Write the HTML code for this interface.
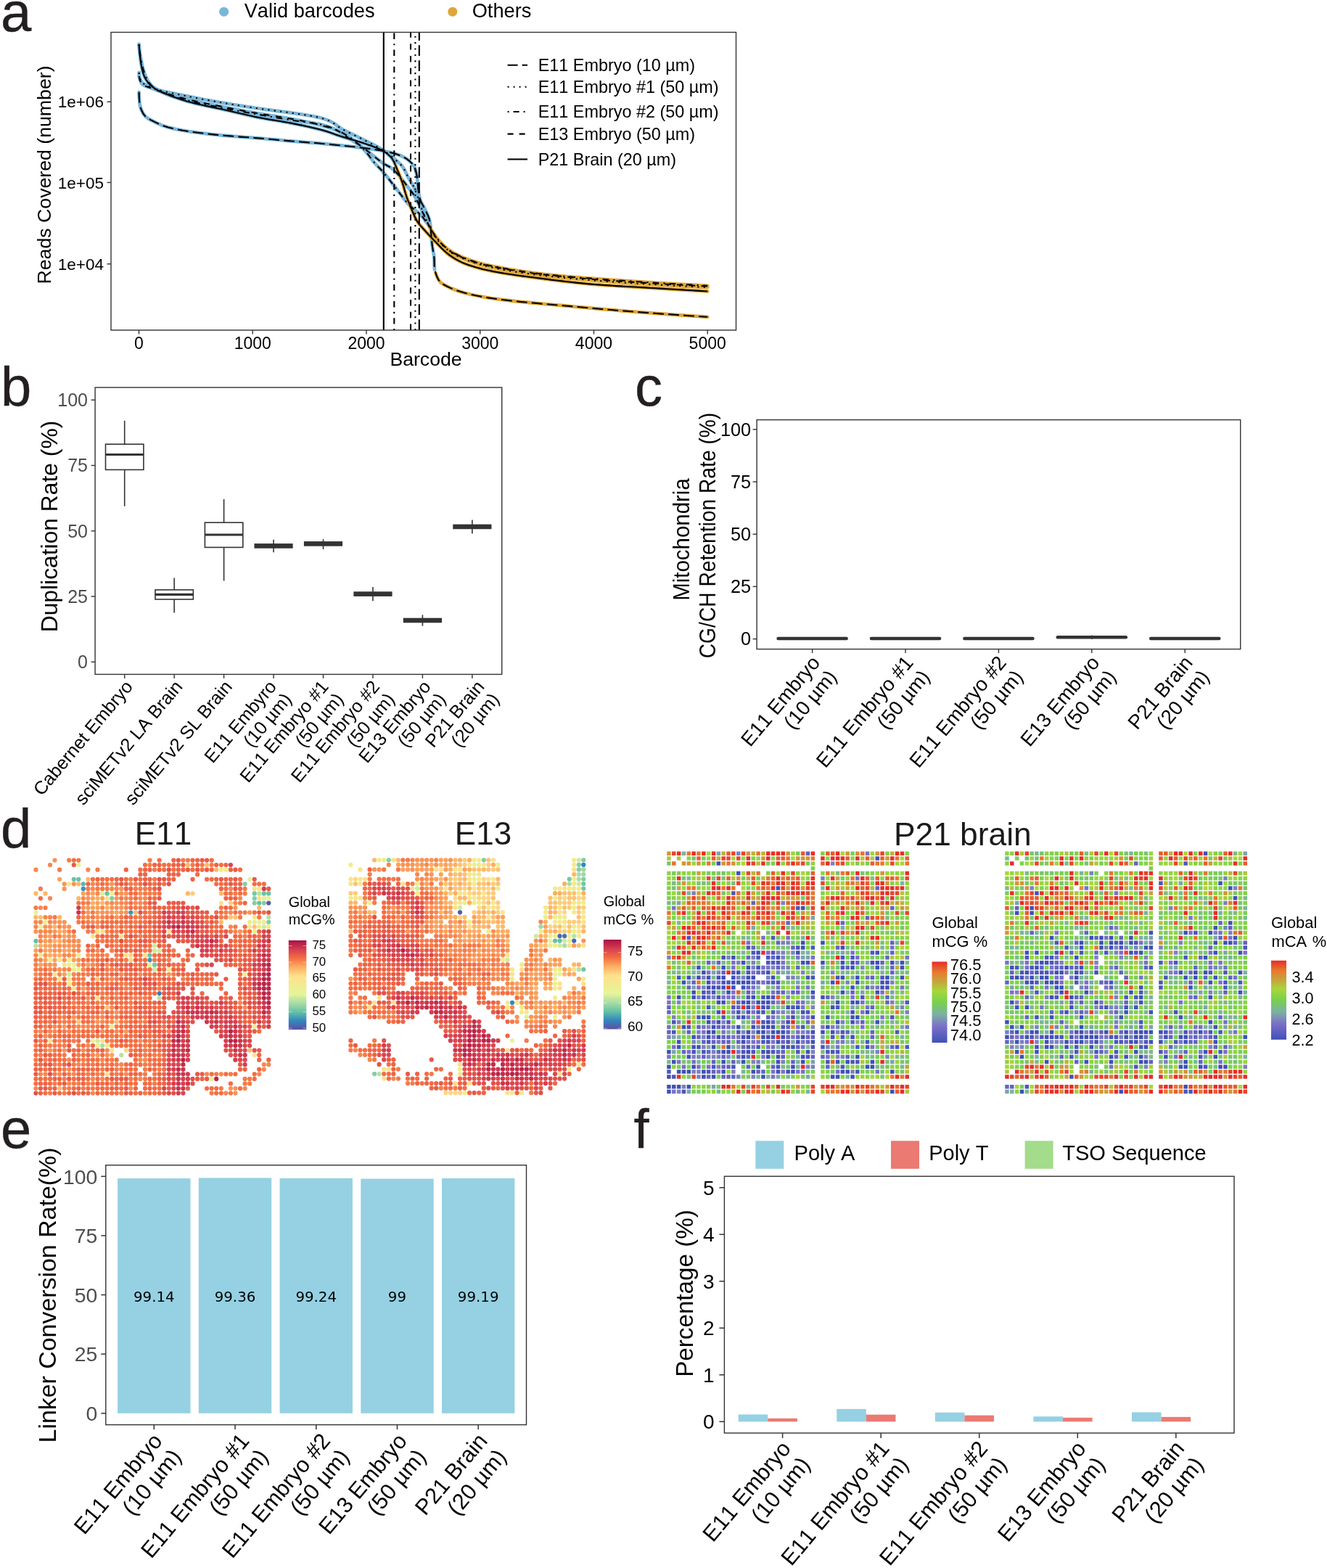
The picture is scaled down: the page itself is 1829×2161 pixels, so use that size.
<!DOCTYPE html>
<html lang="en"><head><meta charset="utf-8"><title>Figure</title>
<style>
html,body{margin:0;padding:0;background:#fff;}
body{width:1829px;height:2161px;overflow:hidden;}
svg{display:block;font-family:"Liberation Sans",sans-serif;font-kerning:none;}
</style></head><body>
<svg width="1829" height="2161" viewBox="0 0 1829 2161">
<rect width="1829" height="2161" fill="#fff"/>
<g id="pa">
<text x="1" y="43" font-size="76" fill="#231f20" stroke="#231f20" stroke-width="0.4">a</text>
<circle cx="308.6" cy="16.2" r="6.5" fill="#7ab6d9"/>
<text x="336.7" y="23.5" font-size="27.2">Valid barcodes</text>
<circle cx="623.8" cy="16.2" r="6.5" fill="#dea73a"/>
<text x="650.7" y="23.5" font-size="27.2">Others</text>
<polyline points="191.6,127 191.7,132.1 192,137.1 192.4,142.1 193.3,147 195,151.8 197.2,156.3 200.3,160.3 204.2,163.3 208.7,165.8 213.3,168.1 217.8,170.3 222.4,172.4 227.2,174.1 231.9,175.5 236.8,176.7 241.7,177.8 246.7,178.8 251.6,179.7 256.6,180.5 261.6,181.3 266.6,182 271.6,182.7 276.6,183.3 281.6,183.9 286.6,184.5 291.6,185.1 296.6,185.6 301.6,186.1 306.6,186.6 311.6,187 316.6,187.4 321.7,187.8 326.7,188.2 331.7,188.6 336.7,189 341.7,189.3 346.8,189.7 351.8,190.1 356.8,190.5 361.8,190.9 366.8,191.3 371.8,191.8 376.9,192.2 381.9,192.7 386.9,193.2 391.9,193.6 396.9,194.1 401.9,194.5 406.9,194.9 412,195.3 417,195.7 422,196.1 427,196.5 432,196.8 437.1,197.2 442.1,197.7 447.1,198.2 452.1,198.7 457.1,199.2 462.1,199.7 467.1,200.2 472.1,200.7 477.1,201.2 482.1,201.7 487.1,202.2 492.1,202.8 497.1,203.4 502.1,204 507.1,204.7 512.1,205.4 517.1,206.1 522.1,206.9 527,207.8 532,208.8 536.9,209.8 541.8,211.1 546.6,212.5 551.4,214.3 556.1,216.4 560.4,218.9 564.3,221.8 568,225.6 571,229.8 572.8,234.2 574,239.2 574.9,244.2 575.4,249.2 575.8,254.2 576.2,259.3 576.8,264.3 577.6,269.3 578.8,274.2 580.5,278.8 583,283.2 585.3,287.7 587.6,292.3 589.8,296.9 591.6,301.6 592.6,306.4 593.3,311.3 593.8,316.3 594.2,321.3 594.6,326.4 595,331.5 595.5,336.5 596.2,341.5 597.1,346.5 598,351.4 598.5,356.4 598.6,361.5 598.7,366.5 599.1,371.5" fill="none" stroke="#7ab6d9" stroke-width="4.8" stroke-linecap="round" stroke-linejoin="round"/>
<polyline points="600.5,376.4 602.2,381.2 604.5,385.8 607.5,389.5 611.7,392.3 616.3,394.7 620.8,396.9 625.5,398.8 630.2,400.6 635,402.1 639.8,403.5 644.7,404.8 649.6,406 654.5,407 659.5,408 664.4,408.9 669.4,409.8 674.4,410.6 679.3,411.3 684.3,412 689.3,412.7 694.3,413.3 699.3,413.9 704.3,414.5 709.3,415 714.3,415.6 719.3,416.1 724.3,416.5 729.4,417 734.4,417.5 739.4,417.9 744.4,418.4 749.4,418.9 754.4,419.3 759.4,419.7 764.5,420.2 769.5,420.6 774.5,421 779.5,421.5 784.5,421.9 789.5,422.4 794.5,422.8 799.6,423.3 804.6,423.7 809.6,424.2 814.6,424.6 819.6,425.1 824.6,425.5 829.6,426 834.6,426.4 839.7,426.8 844.7,427.2 849.7,427.7 854.7,428.1 859.7,428.5 864.7,428.9 869.8,429.3 874.8,429.7 879.8,430.1 884.8,430.5 889.8,430.9 894.9,431.2 899.9,431.6 904.9,432 909.9,432.4 914.9,432.7 920,433.1 925,433.4 930,433.8 935,434.1 940,434.5 945.1,434.8 950.1,435.2 955.1,435.5 960.1,435.8 965.2,436.2 970.2,436.5 975.2,436.8" fill="none" stroke="#dea73a" stroke-width="4.8" stroke-linecap="round" stroke-linejoin="round"/>
<polyline points="191.6,100 192.2,105.7 193.7,110.5 195.8,114.1 200.1,116.8 205,119 209.6,121.1 214.4,122.8 219.2,124.2 224,125.5 228.9,126.6 233.8,127.7 238.8,128.7 243.7,129.7 248.7,130.7 253.6,131.7 258.5,132.7 263.5,133.7 268.4,134.7 273.3,135.6 278.3,136.6 283.2,137.5 288.2,138.4 293.1,139.3 298.1,140.1 303,141 308,141.8 313,142.7 317.9,143.5 322.9,144.3 327.8,145.1 332.8,145.9 337.8,146.7 342.7,147.5 347.7,148.2 352.7,149 357.7,149.7 362.7,150.4 367.6,151.1 372.6,151.7 377.6,152.4 382.6,153 387.6,153.7 392.6,154.3 397.6,155 402.5,155.7 407.5,156.4 412.5,157.2 417.5,157.9 422.5,158.7 427.5,159.5 432.4,160.4 437.3,161.4 442.2,162.5 447,164 451.8,165.7 456.3,167.7 460.6,170.3 464.7,173.3 468.8,176.3 473.1,178.8 477.6,181.1 482.1,183.3 486.6,185.5 491.2,187.7 495.7,189.9 500.2,192.1 504.7,194.4 509.2,196.7 513.7,198.9 518.2,201.3 522.6,203.7 526.9,206.3 531.1,209 535.2,212 539.1,215.1 543,218.3 546.8,221.6 550.6,225 554,228.7 556.8,232.8 559.1,237.2 561.3,241.8 563.7,246.3 566.4,250.6 568.9,254.9 571.1,259.4 573,264 574.8,268.8 576.5,273.5 578.1,278.3 579.6,283.1 581.2,287.8 583,292.5 585,297.2 587,301.8 589.2,306.3 591.4,310.9" fill="none" stroke="#7ab6d9" stroke-width="4.8" stroke-linecap="round" stroke-linejoin="round"/>
<polyline points="593.5,315.4 595.8,320 598.3,324.3 601,328.4 604.3,332.3 607.8,335.9 611.5,339.4 615.2,342.8 619.1,346 623.2,348.8 627.6,351.3 632.1,353.5 636.7,355.6 641.4,357.6 646.1,359.4 650.8,361 655.6,362.6 660.4,364.1 665.3,365.4 670.1,366.6 675,367.8 679.9,368.9 684.9,370 689.8,371 694.7,371.9 699.7,372.8 704.6,373.6 709.6,374.4 714.6,375.2 719.6,375.9 724.5,376.7 729.5,377.4 734.5,378.1 739.5,378.7 744.5,379.3 749.5,379.9 754.5,380.5 759.5,381 764.5,381.5 769.5,382 774.5,382.5 779.5,383 784.5,383.4 789.5,383.9 794.5,384.4 799.5,384.8 804.5,385.3 809.5,385.7 814.6,386.2 819.6,386.6 824.6,387 829.6,387.3 834.6,387.7 839.6,388.1 844.6,388.4 849.7,388.8 854.7,389.1 859.7,389.5 864.7,389.8 869.7,390.1 874.8,390.5 879.8,390.8 884.8,391.1 889.8,391.4 894.8,391.7 899.9,392 904.9,392.3 909.9,392.6 914.9,392.9 919.9,393.2 925,393.4 930,393.7 935,394 940,394.3 945.1,394.5 950.1,394.8 955.1,395 960.1,395.3 965.2,395.5 970.2,395.8 975.2,396" fill="none" stroke="#dea73a" stroke-width="4.8" stroke-linecap="round" stroke-linejoin="round"/>
<polyline points="191.6,61 192,66.1 192.5,71.2 193.3,76.2 194.2,81.1 195.2,86.1 196.2,91 197.5,95.9 199,100.8 200.9,105.5 203,110 205.8,114.4 209.1,118.2 212.9,121.2 217.2,123.8 221.8,126.1 226.6,128.1 231.3,130 236,131.7 240.8,133.3 245.7,134.8 250.6,136.2 255.5,137.6 260.4,138.8 265.3,140.1 270.2,141.2 275.1,142.3 280.1,143.4 285,144.4 290,145.4 294.9,146.3 299.9,147.3 304.9,148.3 309.8,149.3 314.8,150.2 319.8,151.2 324.7,152.1 329.7,153 334.7,154 339.6,154.9 344.6,155.8 349.6,156.7 354.6,157.6 359.5,158.4 364.5,159.3 369.5,160.2 374.5,161 379.5,161.9 384.4,162.7 389.4,163.6 394.4,164.4 399.4,165.2 404.4,166 409.4,166.7 414.4,167.4 419.5,168 424.5,168.6 429.6,169.3 434.5,170 439.5,170.9 444.3,172 449.2,173.4 454,175.1 458.8,177 463.5,179 468.1,181.1 472.5,183.3 476.9,185.8 481.2,188.5 485.4,191.5 489.4,194.5 493.2,197.8 496.9,201.2 500.4,204.9 503.8,208.7 507.1,212.5 510.1,216.6 513.1,220.7 516.3,224.6 519.8,228.3 523.3,231.9 526.8,235.6 530,239.4 533.2,243.3 536.4,247.3 539.5,251.3 542.6,255.3 545.6,259.3 548.7,263.3 551.8,267.4 554.8,271.4 557.9,275.5 561.1,279.3 564.6,282.9 568.3,286.4 572.1,289.7 576.2,292.8 580,296 583.2,299.9 586.1,304 588.9,308.3" fill="none" stroke="#7ab6d9" stroke-width="4.8" stroke-linecap="round" stroke-linejoin="round"/>
<polyline points="591.7,312.5 594.4,316.8 597.2,321 600.1,325.2 603.2,329.2 606.4,333.1 609.8,336.9 613.5,340.3 617.4,343.5 621.6,346.4 625.9,349 630.4,351.3 635,353.4 639.7,355.4 644.4,357.2 649.1,359 653.9,360.6 658.8,362.1 663.6,363.4 668.5,364.6 673.5,365.7 678.4,366.8 683.4,367.7 688.3,368.7 693.3,369.6 698.3,370.5 703.3,371.4 708.3,372.2 713.3,373 718.3,373.7 723.3,374.5 728.3,375.2 733.3,375.9 738.3,376.6 743.3,377.2 748.3,377.8 753.3,378.4 758.4,378.9 763.4,379.4 768.4,379.9 773.5,380.4 778.5,380.9 783.5,381.3 788.6,381.7 793.6,382.1 798.6,382.5 803.7,382.9 808.7,383.3 813.8,383.6 818.8,384 823.8,384.4 828.9,384.7 833.9,385.1 839,385.5 844,385.8 849.1,386.2 854.1,386.5 859.1,386.8 864.2,387.2 869.2,387.5 874.3,387.9 879.3,388.2 884.4,388.5 889.4,388.8 894.5,389.2 899.5,389.5 904.5,389.8 909.6,390.1 914.6,390.4 919.7,390.7 924.7,391 929.8,391.3 934.8,391.6 939.9,391.9 944.9,392.2 950,392.4 955,392.7 960.1,393 965.1,393.3 970.2,393.5 975.2,393.8" fill="none" stroke="#dea73a" stroke-width="4.8" stroke-linecap="round" stroke-linejoin="round"/>
<polyline points="191.6,105 192.9,110.5 195.1,114.9 198.2,117.6 202.9,119.6 208.2,121.3 212.9,123.1 217.7,124.9 222.4,126.5 227.2,128.1 232,129.6 236.8,131.1 241.7,132.5 246.5,133.8 251.4,135.1 256.3,136.4 261.2,137.6 266.1,138.7 271,139.8 275.9,140.9 280.8,142 285.8,143 290.7,144 295.7,145 300.6,145.9 305.6,146.9 310.5,147.9 315.4,148.8 320.4,149.8 325.3,150.7 330.3,151.7 335.2,152.6 340.2,153.5 345.2,154.4 350.1,155.3 355.1,156.2 360,157 365,157.9 370,158.7 375,159.5 379.9,160.2 384.9,161 389.9,161.8 394.9,162.7 399.8,163.5 404.8,164.4 409.7,165.3 414.7,166.3 419.6,167.3 424.6,168.3 429.5,169.4 434.4,170.6 439.3,171.8 444.1,173.1 449.1,174.4 453.9,175.9 458.7,177.5 463.4,179.3 467.8,181.5 472,184.2 476.1,187.2 480.3,190.2 484.5,192.9 488.8,195.6 493,198.3 497.2,201.1 501.3,204 505.3,207.1 509.2,210.3 513.1,213.5 517,216.6 521,219.8 525,222.9 529.1,225.7 533.5,228.1 538,230.6 541.9,233.6 545.6,237.1 549,240.8 552.2,244.7 555.3,248.7 558.3,252.7 561.4,256.7 564.6,260.7 567.7,264.6 570.5,268.8 573,273.1 575.3,277.6 577.6,282.1 579.8,286.7 581.9,291.2 584,295.8 586.2,300.4 588.3,304.9" fill="none" stroke="#7ab6d9" stroke-width="4.8" stroke-linecap="round" stroke-linejoin="round"/>
<polyline points="590.5,309.5 592.8,314 595.2,318.4 597.9,322.6 600.8,326.8 603.9,330.7 607.2,334.5 610.8,338.2 614.5,341.7 618.4,344.9 622.5,347.6 626.9,350 631.4,352.3 636.1,354.4 640.7,356.3 645.4,358.1 650.2,359.9 655,361.4 659.8,362.9 664.7,364.2 669.5,365.4 674.5,366.4 679.4,367.5 684.4,368.4 689.3,369.4 694.3,370.3 699.2,371.2 704.2,372 709.2,372.8 714.1,373.6 719.1,374.4 724.1,375.1 729.1,375.8 734.1,376.5 739.1,377.2 744.1,377.8 749.1,378.4 754.1,379 759.1,379.5 764.1,380 769.1,380.5 774.2,380.9 779.2,381.4 784.2,381.9 789.2,382.4 794.2,382.9 799.2,383.3 804.2,383.8 809.3,384.2 814.3,384.6 819.3,385 824.3,385.4 829.4,385.8 834.4,386.2 839.4,386.6 844.4,386.9 849.5,387.3 854.5,387.6 859.5,388 864.5,388.3 869.6,388.6 874.6,388.9 879.6,389.3 884.6,389.6 889.7,389.9 894.7,390.2 899.7,390.5 904.8,390.8 909.8,391.1 914.8,391.4 919.9,391.7 924.9,391.9 929.9,392.2 934.9,392.5 940,392.8 945,393 950,393.3 955.1,393.5 960.1,393.8 965.1,394 970.2,394.3 975.2,394.5" fill="none" stroke="#dea73a" stroke-width="4.8" stroke-linecap="round" stroke-linejoin="round"/>
<polyline points="191.6,61 191.9,66 192.3,71.1 192.8,76.1 193.5,81 194.1,86 195,91 196,96 197.3,100.8 199,105.5 201.4,110 204.3,114.2 207.7,117.7 211.7,120.9 216,123.6 220.4,125.9 225,128 229.7,129.9 234.4,131.7 239.1,133.4 243.8,135.1 248.6,136.7 253.4,138.2 258.2,139.7 263.1,141 267.9,142.3 272.8,143.4 277.7,144.5 282.6,145.6 287.6,146.6 292.5,147.6 297.4,148.7 302.3,149.7 307.3,150.8 312.2,151.9 317.1,153 322,154.2 326.9,155.3 331.8,156.5 336.7,157.6 341.6,158.7 346.5,159.8 351.4,160.9 356.3,161.9 361.2,162.8 366.2,163.7 371.1,164.6 376.1,165.4 381.1,166.2 386,167 391,167.9 395.9,168.7 400.9,169.6 405.8,170.6 410.7,171.6 415.7,172.6 420.6,173.7 425.5,174.7 430.4,175.9 435.3,177.1 440.2,178.3 445,179.6 449.9,181 454.6,182.5 459.4,184.2 464.1,185.9 468.8,187.6 473.6,189.1 478.5,190.6 483.3,192 488.1,193.3 493,194.8 497.8,196.3 502.5,197.8 507.3,199.5 512.2,201.1 517,202.9 521.6,204.8 526.1,206.9 530.3,209.4 534.5,212.4 538.3,215.9 541.2,219.7 543.5,224.1 545.5,228.8" fill="none" stroke="#7ab6d9" stroke-width="4.8" stroke-linecap="round" stroke-linejoin="round"/>
<polyline points="545.5,228.8 547.4,233.6 549.4,238.2 551.3,242.9 553.1,247.6 554.8,252.3 556.3,257.1 557.6,262 559,266.8 560.6,271.6 562.3,276.3 564.3,280.9 566.2,285.6 568.1,290.3 570.1,295 572.1,299.6 574.4,304 577.1,308.1 580.4,311.9 583.8,315.7 587.2,319.5 590.6,323.2 594,326.8 597.5,330.5 601,334 604.5,337.7 608.1,341.4 611.7,344.9 615.4,348.3 619.2,351.4 623.3,354.2 627.6,356.9 632.1,359.4 636.6,361.6 641.2,363.5 645.9,365.2 650.7,366.8 655.5,368.3 660.4,369.6 665.3,370.9 670.2,372 675.1,373.1 680,374.1 684.9,375 689.9,375.9 694.9,376.7 699.8,377.5 704.8,378.2 709.8,379 714.8,379.7 719.7,380.4 724.7,381 729.7,381.7 734.7,382.3 739.7,383 744.7,383.6 749.7,384.3 754.7,384.9 759.6,385.6 764.6,386.2 769.6,386.8 774.6,387.4 779.6,388 784.6,388.5 789.6,389.1 794.6,389.6 799.6,390.1 804.6,390.6 809.6,391.1 814.6,391.6 819.6,392 824.6,392.4 829.6,392.7 834.7,393.1 839.7,393.4 844.7,393.7 849.7,394.1 854.7,394.4 859.8,394.7 864.8,395 869.8,395.2 874.8,395.5 879.8,395.8 884.9,396.1 889.9,396.4 894.9,396.7 899.9,397 904.9,397.3 910,397.6 915,397.9 920,398.2 925,398.5 930,398.8 935,399.1 940.1,399.4 945.1,399.7 950.1,400 955.1,400.3 960.1,400.6 965.2,400.9 970.2,401.2 975.2,401.5" fill="none" stroke="#dea73a" stroke-width="4.8" stroke-linecap="round" stroke-linejoin="round"/>
<polyline points="191.6,127 191.7,132.1 192,137.1 192.4,142.1 193.3,147 195,151.8 197.2,156.3 200.3,160.3 204.2,163.3 208.7,165.8 213.3,168.1 217.8,170.3 222.4,172.4 227.2,174.1 231.9,175.5 236.8,176.7 241.7,177.8 246.7,178.8 251.6,179.7 256.6,180.5 261.6,181.3 266.6,182 271.6,182.7 276.6,183.3 281.6,183.9 286.6,184.5 291.6,185.1 296.6,185.6 301.6,186.1 306.6,186.6 311.6,187 316.6,187.4 321.7,187.8 326.7,188.2 331.7,188.6 336.7,189 341.7,189.3 346.8,189.7 351.8,190.1 356.8,190.5 361.8,190.9 366.8,191.3 371.8,191.8 376.9,192.2 381.9,192.7 386.9,193.2 391.9,193.6 396.9,194.1 401.9,194.5 406.9,194.9 412,195.3 417,195.7 422,196.1 427,196.5 432,196.8 437.1,197.2 442.1,197.7 447.1,198.2 452.1,198.7 457.1,199.2 462.1,199.7 467.1,200.2 472.1,200.7 477.1,201.2 482.1,201.7 487.1,202.2 492.1,202.8 497.1,203.4 502.1,204 507.1,204.7 512.1,205.4 517.1,206.1 522.1,206.9 527,207.8 532,208.8 536.9,209.8 541.8,211.1 546.6,212.5 551.4,214.3 556.1,216.4 560.4,218.9 564.3,221.8 568,225.6 571,229.8 572.8,234.2 574,239.2 574.9,244.2 575.4,249.2 575.8,254.2 576.2,259.3 576.8,264.3 577.6,269.3 578.8,274.2 580.5,278.8 583,283.2 585.3,287.7 587.6,292.3 589.8,296.9 591.6,301.6 592.6,306.4 593.3,311.3 593.8,316.3 594.2,321.3 594.6,326.4 595,331.5 595.5,336.5 596.2,341.5 597.1,346.5 598,351.4 598.5,356.4 598.6,361.5 598.7,366.5 599.1,371.5 600.5,376.4 602.2,381.2 604.5,385.8 607.5,389.5 611.7,392.3 616.3,394.7 620.8,396.9 625.5,398.8 630.2,400.6 635,402.1 639.8,403.5 644.7,404.8 649.6,406 654.5,407 659.5,408 664.4,408.9 669.4,409.8 674.4,410.6 679.3,411.3 684.3,412 689.3,412.7 694.3,413.3 699.3,413.9 704.3,414.5 709.3,415 714.3,415.6 719.3,416.1 724.3,416.5 729.4,417 734.4,417.5 739.4,417.9 744.4,418.4 749.4,418.9 754.4,419.3 759.4,419.7 764.5,420.2 769.5,420.6 774.5,421 779.5,421.5 784.5,421.9 789.5,422.4 794.5,422.8 799.6,423.3 804.6,423.7 809.6,424.2 814.6,424.6 819.6,425.1 824.6,425.5 829.6,426 834.6,426.4 839.7,426.8 844.7,427.2 849.7,427.7 854.7,428.1 859.7,428.5 864.7,428.9 869.8,429.3 874.8,429.7 879.8,430.1 884.8,430.5 889.8,430.9 894.9,431.2 899.9,431.6 904.9,432 909.9,432.4 914.9,432.7 920,433.1 925,433.4 930,433.8 935,434.1 940,434.5 945.1,434.8 950.1,435.2 955.1,435.5 960.1,435.8 965.2,436.2 970.2,436.5 975.2,436.8" fill="none" stroke="#000" stroke-width="2.1" stroke-dasharray="14.7 6.3" stroke-linejoin="round"/>
<polyline points="191.6,100 192.2,105.7 193.7,110.5 195.8,114.1 200.1,116.8 205,119 209.6,121.1 214.4,122.8 219.2,124.2 224,125.5 228.9,126.6 233.8,127.7 238.8,128.7 243.7,129.7 248.7,130.7 253.6,131.7 258.5,132.7 263.5,133.7 268.4,134.7 273.3,135.6 278.3,136.6 283.2,137.5 288.2,138.4 293.1,139.3 298.1,140.1 303,141 308,141.8 313,142.7 317.9,143.5 322.9,144.3 327.8,145.1 332.8,145.9 337.8,146.7 342.7,147.5 347.7,148.2 352.7,149 357.7,149.7 362.7,150.4 367.6,151.1 372.6,151.7 377.6,152.4 382.6,153 387.6,153.7 392.6,154.3 397.6,155 402.5,155.7 407.5,156.4 412.5,157.2 417.5,157.9 422.5,158.7 427.5,159.5 432.4,160.4 437.3,161.4 442.2,162.5 447,164 451.8,165.7 456.3,167.7 460.6,170.3 464.7,173.3 468.8,176.3 473.1,178.8 477.6,181.1 482.1,183.3 486.6,185.5 491.2,187.7 495.7,189.9 500.2,192.1 504.7,194.4 509.2,196.7 513.7,198.9 518.2,201.3 522.6,203.7 526.9,206.3 531.1,209 535.2,212 539.1,215.1 543,218.3 546.8,221.6 550.6,225 554,228.7 556.8,232.8 559.1,237.2 561.3,241.8 563.7,246.3 566.4,250.6 568.9,254.9 571.1,259.4 573,264 574.8,268.8 576.5,273.5 578.1,278.3 579.6,283.1 581.2,287.8 583,292.5 585,297.2 587,301.8 589.2,306.3 591.4,310.9 593.5,315.4 595.8,320 598.3,324.3 601,328.4 604.3,332.3 607.8,335.9 611.5,339.4 615.2,342.8 619.1,346 623.2,348.8 627.6,351.3 632.1,353.5 636.7,355.6 641.4,357.6 646.1,359.4 650.8,361 655.6,362.6 660.4,364.1 665.3,365.4 670.1,366.6 675,367.8 679.9,368.9 684.9,370 689.8,371 694.7,371.9 699.7,372.8 704.6,373.6 709.6,374.4 714.6,375.2 719.6,375.9 724.5,376.7 729.5,377.4 734.5,378.1 739.5,378.7 744.5,379.3 749.5,379.9 754.5,380.5 759.5,381 764.5,381.5 769.5,382 774.5,382.5 779.5,383 784.5,383.4 789.5,383.9 794.5,384.4 799.5,384.8 804.5,385.3 809.5,385.7 814.6,386.2 819.6,386.6 824.6,387 829.6,387.3 834.6,387.7 839.6,388.1 844.6,388.4 849.7,388.8 854.7,389.1 859.7,389.5 864.7,389.8 869.7,390.1 874.8,390.5 879.8,390.8 884.8,391.1 889.8,391.4 894.8,391.7 899.9,392 904.9,392.3 909.9,392.6 914.9,392.9 919.9,393.2 925,393.4 930,393.7 935,394 940,394.3 945.1,394.5 950.1,394.8 955.1,395 960.1,395.3 965.2,395.5 970.2,395.8 975.2,396" fill="none" stroke="#000" stroke-width="2.1" stroke-dasharray="2.1 6.3" stroke-linejoin="round"/>
<polyline points="191.6,61 192,66.1 192.5,71.2 193.3,76.2 194.2,81.1 195.2,86.1 196.2,91 197.5,95.9 199,100.8 200.9,105.5 203,110 205.8,114.4 209.1,118.2 212.9,121.2 217.2,123.8 221.8,126.1 226.6,128.1 231.3,130 236,131.7 240.8,133.3 245.7,134.8 250.6,136.2 255.5,137.6 260.4,138.8 265.3,140.1 270.2,141.2 275.1,142.3 280.1,143.4 285,144.4 290,145.4 294.9,146.3 299.9,147.3 304.9,148.3 309.8,149.3 314.8,150.2 319.8,151.2 324.7,152.1 329.7,153 334.7,154 339.6,154.9 344.6,155.8 349.6,156.7 354.6,157.6 359.5,158.4 364.5,159.3 369.5,160.2 374.5,161 379.5,161.9 384.4,162.7 389.4,163.6 394.4,164.4 399.4,165.2 404.4,166 409.4,166.7 414.4,167.4 419.5,168 424.5,168.6 429.6,169.3 434.5,170 439.5,170.9 444.3,172 449.2,173.4 454,175.1 458.8,177 463.5,179 468.1,181.1 472.5,183.3 476.9,185.8 481.2,188.5 485.4,191.5 489.4,194.5 493.2,197.8 496.9,201.2 500.4,204.9 503.8,208.7 507.1,212.5 510.1,216.6 513.1,220.7 516.3,224.6 519.8,228.3 523.3,231.9 526.8,235.6 530,239.4 533.2,243.3 536.4,247.3 539.5,251.3 542.6,255.3 545.6,259.3 548.7,263.3 551.8,267.4 554.8,271.4 557.9,275.5 561.1,279.3 564.6,282.9 568.3,286.4 572.1,289.7 576.2,292.8 580,296 583.2,299.9 586.1,304 588.9,308.3 591.7,312.5 594.4,316.8 597.2,321 600.1,325.2 603.2,329.2 606.4,333.1 609.8,336.9 613.5,340.3 617.4,343.5 621.6,346.4 625.9,349 630.4,351.3 635,353.4 639.7,355.4 644.4,357.2 649.1,359 653.9,360.6 658.8,362.1 663.6,363.4 668.5,364.6 673.5,365.7 678.4,366.8 683.4,367.7 688.3,368.7 693.3,369.6 698.3,370.5 703.3,371.4 708.3,372.2 713.3,373 718.3,373.7 723.3,374.5 728.3,375.2 733.3,375.9 738.3,376.6 743.3,377.2 748.3,377.8 753.3,378.4 758.4,378.9 763.4,379.4 768.4,379.9 773.5,380.4 778.5,380.9 783.5,381.3 788.6,381.7 793.6,382.1 798.6,382.5 803.7,382.9 808.7,383.3 813.8,383.6 818.8,384 823.8,384.4 828.9,384.7 833.9,385.1 839,385.5 844,385.8 849.1,386.2 854.1,386.5 859.1,386.8 864.2,387.2 869.2,387.5 874.3,387.9 879.3,388.2 884.4,388.5 889.4,388.8 894.5,389.2 899.5,389.5 904.5,389.8 909.6,390.1 914.6,390.4 919.7,390.7 924.7,391 929.8,391.3 934.8,391.6 939.9,391.9 944.9,392.2 950,392.4 955,392.7 960.1,393 965.1,393.3 970.2,393.5 975.2,393.8" fill="none" stroke="#000" stroke-width="2.1" stroke-dasharray="2.1 6.3 8.4 6.3" stroke-linejoin="round"/>
<polyline points="191.6,105 192.9,110.5 195.1,114.9 198.2,117.6 202.9,119.6 208.2,121.3 212.9,123.1 217.7,124.9 222.4,126.5 227.2,128.1 232,129.6 236.8,131.1 241.7,132.5 246.5,133.8 251.4,135.1 256.3,136.4 261.2,137.6 266.1,138.7 271,139.8 275.9,140.9 280.8,142 285.8,143 290.7,144 295.7,145 300.6,145.9 305.6,146.9 310.5,147.9 315.4,148.8 320.4,149.8 325.3,150.7 330.3,151.7 335.2,152.6 340.2,153.5 345.2,154.4 350.1,155.3 355.1,156.2 360,157 365,157.9 370,158.7 375,159.5 379.9,160.2 384.9,161 389.9,161.8 394.9,162.7 399.8,163.5 404.8,164.4 409.7,165.3 414.7,166.3 419.6,167.3 424.6,168.3 429.5,169.4 434.4,170.6 439.3,171.8 444.1,173.1 449.1,174.4 453.9,175.9 458.7,177.5 463.4,179.3 467.8,181.5 472,184.2 476.1,187.2 480.3,190.2 484.5,192.9 488.8,195.6 493,198.3 497.2,201.1 501.3,204 505.3,207.1 509.2,210.3 513.1,213.5 517,216.6 521,219.8 525,222.9 529.1,225.7 533.5,228.1 538,230.6 541.9,233.6 545.6,237.1 549,240.8 552.2,244.7 555.3,248.7 558.3,252.7 561.4,256.7 564.6,260.7 567.7,264.6 570.5,268.8 573,273.1 575.3,277.6 577.6,282.1 579.8,286.7 581.9,291.2 584,295.8 586.2,300.4 588.3,304.9 590.5,309.5 592.8,314 595.2,318.4 597.9,322.6 600.8,326.8 603.9,330.7 607.2,334.5 610.8,338.2 614.5,341.7 618.4,344.9 622.5,347.6 626.9,350 631.4,352.3 636.1,354.4 640.7,356.3 645.4,358.1 650.2,359.9 655,361.4 659.8,362.9 664.7,364.2 669.5,365.4 674.5,366.4 679.4,367.5 684.4,368.4 689.3,369.4 694.3,370.3 699.2,371.2 704.2,372 709.2,372.8 714.1,373.6 719.1,374.4 724.1,375.1 729.1,375.8 734.1,376.5 739.1,377.2 744.1,377.8 749.1,378.4 754.1,379 759.1,379.5 764.1,380 769.1,380.5 774.2,380.9 779.2,381.4 784.2,381.9 789.2,382.4 794.2,382.9 799.2,383.3 804.2,383.8 809.3,384.2 814.3,384.6 819.3,385 824.3,385.4 829.4,385.8 834.4,386.2 839.4,386.6 844.4,386.9 849.5,387.3 854.5,387.6 859.5,388 864.5,388.3 869.6,388.6 874.6,388.9 879.6,389.3 884.6,389.6 889.7,389.9 894.7,390.2 899.7,390.5 904.8,390.8 909.8,391.1 914.8,391.4 919.9,391.7 924.9,391.9 929.9,392.2 934.9,392.5 940,392.8 945,393 950,393.3 955.1,393.5 960.1,393.8 965.1,394 970.2,394.3 975.2,394.5" fill="none" stroke="#000" stroke-width="2.1" stroke-dasharray="8.4 8.4" stroke-linejoin="round"/>
<polyline points="191.6,61 191.9,66 192.3,71.1 192.8,76.1 193.5,81 194.1,86 195,91 196,96 197.3,100.8 199,105.5 201.4,110 204.3,114.2 207.7,117.7 211.7,120.9 216,123.6 220.4,125.9 225,128 229.7,129.9 234.4,131.7 239.1,133.4 243.8,135.1 248.6,136.7 253.4,138.2 258.2,139.7 263.1,141 267.9,142.3 272.8,143.4 277.7,144.5 282.6,145.6 287.6,146.6 292.5,147.6 297.4,148.7 302.3,149.7 307.3,150.8 312.2,151.9 317.1,153 322,154.2 326.9,155.3 331.8,156.5 336.7,157.6 341.6,158.7 346.5,159.8 351.4,160.9 356.3,161.9 361.2,162.8 366.2,163.7 371.1,164.6 376.1,165.4 381.1,166.2 386,167 391,167.9 395.9,168.7 400.9,169.6 405.8,170.6 410.7,171.6 415.7,172.6 420.6,173.7 425.5,174.7 430.4,175.9 435.3,177.1 440.2,178.3 445,179.6 449.9,181 454.6,182.5 459.4,184.2 464.1,185.9 468.8,187.6 473.6,189.1 478.5,190.6 483.3,192 488.1,193.3 493,194.8 497.8,196.3 502.5,197.8 507.3,199.5 512.2,201.1 517,202.9 521.6,204.8 526.1,206.9 530.3,209.4 534.5,212.4 538.3,215.9 541.2,219.7 543.5,224.1 545.5,228.8 547.4,233.6 549.4,238.2 551.3,242.9 553.1,247.6 554.8,252.3 556.3,257.1 557.6,262 559,266.8 560.6,271.6 562.3,276.3 564.3,280.9 566.2,285.6 568.1,290.3 570.1,295 572.1,299.6 574.4,304 577.1,308.1 580.4,311.9 583.8,315.7 587.2,319.5 590.6,323.2 594,326.8 597.5,330.5 601,334 604.5,337.7 608.1,341.4 611.7,344.9 615.4,348.3 619.2,351.4 623.3,354.2 627.6,356.9 632.1,359.4 636.6,361.6 641.2,363.5 645.9,365.2 650.7,366.8 655.5,368.3 660.4,369.6 665.3,370.9 670.2,372 675.1,373.1 680,374.1 684.9,375 689.9,375.9 694.9,376.7 699.8,377.5 704.8,378.2 709.8,379 714.8,379.7 719.7,380.4 724.7,381 729.7,381.7 734.7,382.3 739.7,383 744.7,383.6 749.7,384.3 754.7,384.9 759.6,385.6 764.6,386.2 769.6,386.8 774.6,387.4 779.6,388 784.6,388.5 789.6,389.1 794.6,389.6 799.6,390.1 804.6,390.6 809.6,391.1 814.6,391.6 819.6,392 824.6,392.4 829.6,392.7 834.7,393.1 839.7,393.4 844.7,393.7 849.7,394.1 854.7,394.4 859.8,394.7 864.8,395 869.8,395.2 874.8,395.5 879.8,395.8 884.9,396.1 889.9,396.4 894.9,396.7 899.9,397 904.9,397.3 910,397.6 915,397.9 920,398.2 925,398.5 930,398.8 935,399.1 940.1,399.4 945.1,399.7 950.1,400 955.1,400.3 960.1,400.6 965.2,400.9 970.2,401.2 975.2,401.5" fill="none" stroke="#000" stroke-width="2.1" stroke-linejoin="round"/>
<line x1="528.8" y1="455" x2="528.8" y2="44.5" stroke="#000" stroke-width="2.1"/>
<line x1="543.3" y1="455" x2="543.3" y2="44.5" stroke="#000" stroke-width="2.1" stroke-dasharray="2.1 6.3 8.4 6.3"/>
<line x1="566" y1="455" x2="566" y2="44.5" stroke="#000" stroke-width="2.1" stroke-dasharray="8.4 8.4"/>
<line x1="572.4" y1="455" x2="572.4" y2="44.5" stroke="#000" stroke-width="2.1" stroke-dasharray="2.1 6.3"/>
<line x1="577.8" y1="455" x2="577.8" y2="44.5" stroke="#000" stroke-width="2.1" stroke-dasharray="14.7 6.3"/>
<rect x="153" y="44.5" width="861.5" height="410.5" fill="none" stroke="#333" stroke-width="1.4"/>
<line x1="191.5" y1="455" x2="191.5" y2="460.5" stroke="#333" stroke-width="1.4"/>
<text x="191.5" y="481" font-size="23" text-anchor="middle">0</text>
<line x1="348.24" y1="455" x2="348.24" y2="460.5" stroke="#333" stroke-width="1.4"/>
<text x="348.24" y="481" font-size="23" text-anchor="middle">1000</text>
<line x1="504.98" y1="455" x2="504.98" y2="460.5" stroke="#333" stroke-width="1.4"/>
<text x="504.98" y="481" font-size="23" text-anchor="middle">2000</text>
<line x1="661.72" y1="455" x2="661.72" y2="460.5" stroke="#333" stroke-width="1.4"/>
<text x="661.72" y="481" font-size="23" text-anchor="middle">3000</text>
<line x1="818.46" y1="455" x2="818.46" y2="460.5" stroke="#333" stroke-width="1.4"/>
<text x="818.46" y="481" font-size="23" text-anchor="middle">4000</text>
<line x1="975.2" y1="455" x2="975.2" y2="460.5" stroke="#333" stroke-width="1.4"/>
<text x="975.2" y="481" font-size="23" text-anchor="middle">5000</text>
<line x1="147.5" y1="140.3" x2="153" y2="140.3" stroke="#333" stroke-width="1.4"/>
<text x="143" y="148.3" font-size="22.5" text-anchor="end">1e+06</text>
<line x1="147.5" y1="251.5" x2="153" y2="251.5" stroke="#333" stroke-width="1.4"/>
<text x="143" y="259.5" font-size="22.5" text-anchor="end">1e+05</text>
<line x1="147.5" y1="363.8" x2="153" y2="363.8" stroke="#333" stroke-width="1.4"/>
<text x="143" y="371.8" font-size="22.5" text-anchor="end">1e+04</text>
<text x="587" y="503.5" font-size="26.6" text-anchor="middle">Barcode</text>
<text x="70" y="241" font-size="26.7" text-anchor="middle" transform="rotate(-90 70 241)">Reads Covered (number)</text>
<line x1="699.6" y1="89.8" x2="727" y2="89.8" stroke="#000" stroke-width="2.1" stroke-dasharray="14 6"/>
<text x="741.7" y="97.8" font-size="23.4">E11 Embryo (10 µm)</text>
<line x1="699.6" y1="119.7" x2="727" y2="119.7" stroke="#000" stroke-width="2.1" stroke-dasharray="2 6"/>
<text x="741.7" y="127.7" font-size="23.4">E11 Embryo #1 (50 µm)</text>
<line x1="699.6" y1="154" x2="727" y2="154" stroke="#000" stroke-width="2.1" stroke-dasharray="2 6 8 6"/>
<text x="741.7" y="162" font-size="23.4">E11 Embryo #2 (50 µm)</text>
<line x1="699.6" y1="184.6" x2="727" y2="184.6" stroke="#000" stroke-width="2.1" stroke-dasharray="8 8"/>
<text x="741.7" y="192.6" font-size="23.4">E13 Embryo (50 µm)</text>
<line x1="699.6" y1="219.5" x2="727" y2="219.5" stroke="#000" stroke-width="2.1"/>
<text x="741.7" y="227.5" font-size="23.4">P21 Brain (20 µm)</text>
</g>
<g id="pb">
<text x="1" y="559" font-size="76" fill="#231f20" stroke="#231f20" stroke-width="0.4">b</text>
<line x1="171.7" y1="579.8" x2="171.7" y2="612.2" stroke="#333" stroke-width="1.6"/>
<line x1="171.7" y1="647.4" x2="171.7" y2="697.7" stroke="#333" stroke-width="1.6"/>
<rect x="145.5" y="612.2" width="52.4" height="35.2" fill="#fff" stroke="#333" stroke-width="1.6"/>
<line x1="145.5" y1="626.5" x2="197.9" y2="626.5" stroke="#333" stroke-width="3.2"/>
<line x1="240.15" y1="796.6" x2="240.15" y2="812.9" stroke="#333" stroke-width="1.6"/>
<line x1="240.15" y1="826" x2="240.15" y2="844.4" stroke="#333" stroke-width="1.6"/>
<rect x="213.95" y="812.9" width="52.4" height="13.1" fill="#fff" stroke="#333" stroke-width="1.6"/>
<line x1="213.95" y1="819.3" x2="266.35" y2="819.3" stroke="#333" stroke-width="3.2"/>
<line x1="308.6" y1="688" x2="308.6" y2="720.2" stroke="#333" stroke-width="1.6"/>
<line x1="308.6" y1="754.4" x2="308.6" y2="800.5" stroke="#333" stroke-width="1.6"/>
<rect x="282.4" y="720.2" width="52.4" height="34.2" fill="#fff" stroke="#333" stroke-width="1.6"/>
<line x1="282.4" y1="737" x2="334.8" y2="737" stroke="#333" stroke-width="3.2"/>
<line x1="377.05" y1="743.8" x2="377.05" y2="761.2" stroke="#333" stroke-width="1.6"/>
<rect x="350.45" y="749.1" width="53.2" height="6.6" fill="#333"/>
<line x1="445.5" y1="743.1" x2="445.5" y2="757" stroke="#333" stroke-width="1.6"/>
<rect x="418.9" y="746.1" width="53.2" height="6.6" fill="#333"/>
<line x1="513.95" y1="809" x2="513.95" y2="828.3" stroke="#333" stroke-width="1.6"/>
<rect x="487.35" y="815.3" width="53.2" height="6.6" fill="#333"/>
<line x1="582.4" y1="847.4" x2="582.4" y2="862.7" stroke="#333" stroke-width="1.6"/>
<rect x="555.8" y="851.7" width="53.2" height="6.6" fill="#333"/>
<line x1="650.85" y1="716.6" x2="650.85" y2="735.4" stroke="#333" stroke-width="1.6"/>
<rect x="624.25" y="722.6" width="53.2" height="6.6" fill="#333"/>
<rect x="131.1" y="534" width="560.6" height="395.4" fill="none" stroke="#333" stroke-width="1.4"/>
<line x1="125.6" y1="912.3" x2="131.1" y2="912.3" stroke="#333" stroke-width="1.4"/>
<text x="121" y="921.3" font-size="25" text-anchor="end" fill="#4d4d4d">0</text>
<line x1="125.6" y1="822.03" x2="131.1" y2="822.03" stroke="#333" stroke-width="1.4"/>
<text x="121" y="831.03" font-size="25" text-anchor="end" fill="#4d4d4d">25</text>
<line x1="125.6" y1="731.76" x2="131.1" y2="731.76" stroke="#333" stroke-width="1.4"/>
<text x="121" y="740.76" font-size="25" text-anchor="end" fill="#4d4d4d">50</text>
<line x1="125.6" y1="641.49" x2="131.1" y2="641.49" stroke="#333" stroke-width="1.4"/>
<text x="121" y="650.49" font-size="25" text-anchor="end" fill="#4d4d4d">75</text>
<line x1="125.6" y1="551.22" x2="131.1" y2="551.22" stroke="#333" stroke-width="1.4"/>
<text x="121" y="560.22" font-size="25" text-anchor="end" fill="#4d4d4d">100</text>
<text x="79" y="725.5" font-size="31.8" text-anchor="middle" transform="rotate(-90 79 725.5)">Duplication Rate (%)</text>
<line x1="171.7" y1="929.4" x2="171.7" y2="934.9" stroke="#333" stroke-width="1.4"/>
<g transform="translate(184.3 946.9) rotate(-50)" font-size="25.2" text-anchor="end"><text x="0" y="0">Cabernet Embryo</text></g>
<line x1="240.15" y1="929.4" x2="240.15" y2="934.9" stroke="#333" stroke-width="1.4"/>
<g transform="translate(252.75 946.9) rotate(-50)" font-size="25.2" text-anchor="end"><text x="0" y="0">sciMETv2 LA Brain</text></g>
<line x1="308.6" y1="929.4" x2="308.6" y2="934.9" stroke="#333" stroke-width="1.4"/>
<g transform="translate(321.2 946.9) rotate(-50)" font-size="25.2" text-anchor="end"><text x="0" y="0">sciMETv2 SL Brain</text></g>
<line x1="377.05" y1="929.4" x2="377.05" y2="934.9" stroke="#333" stroke-width="1.4"/>
<g transform="translate(382.35 946.9) rotate(-50)" font-size="25.2" text-anchor="end"><text x="0" y="0">E11 Embyro</text><text x="0" y="27">(10 µm)</text></g>
<line x1="445.5" y1="929.4" x2="445.5" y2="934.9" stroke="#333" stroke-width="1.4"/>
<g transform="translate(453.9 946.9) rotate(-50)" font-size="25.2" text-anchor="end"><text x="0" y="0">E11 Embryo #1</text><text x="0" y="27">(50 µm)</text></g>
<line x1="513.95" y1="929.4" x2="513.95" y2="934.9" stroke="#333" stroke-width="1.4"/>
<g transform="translate(524.45 946.9) rotate(-50)" font-size="25.2" text-anchor="end"><text x="0" y="0">E11 Embryo #2</text><text x="0" y="27">(50 µm)</text></g>
<line x1="582.4" y1="929.4" x2="582.4" y2="934.9" stroke="#333" stroke-width="1.4"/>
<g transform="translate(595 946.9) rotate(-50)" font-size="25.2" text-anchor="end"><text x="0" y="0">E13 Embryo</text><text x="0" y="27">(50 µm)</text></g>
<line x1="650.85" y1="929.4" x2="650.85" y2="934.9" stroke="#333" stroke-width="1.4"/>
<g transform="translate(668.65 946.9) rotate(-50)" font-size="25.2" text-anchor="end"><text x="0" y="0">P21 Brain</text><text x="0" y="27">(20 µm)</text></g>
</g>
<g id="pc">
<text x="875" y="558.5" font-size="76" fill="#231f20" stroke="#231f20" stroke-width="0.4">c</text>
<line x1="1072.6" y1="880" x2="1166.6" y2="880" stroke="#333" stroke-width="4.6" stroke-linecap="round"/>
<line x1="1201" y1="880" x2="1295" y2="880" stroke="#333" stroke-width="4.6" stroke-linecap="round"/>
<line x1="1329.4" y1="880" x2="1423.4" y2="880" stroke="#333" stroke-width="4.6" stroke-linecap="round"/>
<line x1="1504.8" y1="875.5" x2="1504.8" y2="881" stroke="#333" stroke-width="1.4"/>
<line x1="1457.8" y1="878.3" x2="1551.8" y2="878.3" stroke="#333" stroke-width="4.6" stroke-linecap="round"/>
<line x1="1586.2" y1="880" x2="1680.2" y2="880" stroke="#333" stroke-width="4.6" stroke-linecap="round"/>
<rect x="1043.1" y="578.6" width="666.6" height="316" fill="none" stroke="#333" stroke-width="1.4"/>
<line x1="1037.6" y1="880.6" x2="1043.1" y2="880.6" stroke="#333" stroke-width="1.4"/>
<text x="1035" y="889.4" font-size="25.2" text-anchor="end">0</text>
<line x1="1037.6" y1="808.4" x2="1043.1" y2="808.4" stroke="#333" stroke-width="1.4"/>
<text x="1035" y="817.2" font-size="25.2" text-anchor="end">25</text>
<line x1="1037.6" y1="736.2" x2="1043.1" y2="736.2" stroke="#333" stroke-width="1.4"/>
<text x="1035" y="745" font-size="25.2" text-anchor="end">50</text>
<line x1="1037.6" y1="664" x2="1043.1" y2="664" stroke="#333" stroke-width="1.4"/>
<text x="1035" y="672.8" font-size="25.2" text-anchor="end">75</text>
<line x1="1037.6" y1="591.8" x2="1043.1" y2="591.8" stroke="#333" stroke-width="1.4"/>
<text x="1035" y="600.6" font-size="25.2" text-anchor="end">100</text>
<text x="950" y="743.5" font-size="31.4" text-anchor="middle" transform="rotate(-90 950 743.5)" textLength="168.5" lengthAdjust="spacingAndGlyphs">Mitochondria</text>
<text x="985.5" y="738" font-size="31.4" text-anchor="middle" transform="rotate(-90 985.5 738)" textLength="338.5" lengthAdjust="spacingAndGlyphs">CG/CH Retention Rate (%)</text>
<line x1="1119.6" y1="894.6" x2="1119.6" y2="900.1" stroke="#333" stroke-width="1.4"/>
<g transform="translate(1131.6 914.1) rotate(-50)" font-size="27.6" text-anchor="end"><text x="0" y="0">E11 Embryo</text><text x="0" y="30">(10 µm)</text></g>
<line x1="1248" y1="894.6" x2="1248" y2="900.1" stroke="#333" stroke-width="1.4"/>
<g transform="translate(1260 914.1) rotate(-50)" font-size="27.6" text-anchor="end"><text x="0" y="0">E11 Embryo #1</text><text x="0" y="30">(50 µm)</text></g>
<line x1="1376.4" y1="894.6" x2="1376.4" y2="900.1" stroke="#333" stroke-width="1.4"/>
<g transform="translate(1388.4 914.1) rotate(-50)" font-size="27.6" text-anchor="end"><text x="0" y="0">E11 Embryo #2</text><text x="0" y="30">(50 µm)</text></g>
<line x1="1504.8" y1="894.6" x2="1504.8" y2="900.1" stroke="#333" stroke-width="1.4"/>
<g transform="translate(1516.8 914.1) rotate(-50)" font-size="27.6" text-anchor="end"><text x="0" y="0">E13 Embryo</text><text x="0" y="30">(50 µm)</text></g>
<line x1="1633.2" y1="894.6" x2="1633.2" y2="900.1" stroke="#333" stroke-width="1.4"/>
<g transform="translate(1645.2 914.1) rotate(-50)" font-size="27.6" text-anchor="end"><text x="0" y="0">P21 Brain</text><text x="0" y="30">(20 µm)</text></g>
</g>
<g id="pd">
<text x="1" y="1167.5" font-size="76" fill="#231f20" stroke="#231f20" stroke-width="0.4">d</text>
<text x="225" y="1164.3" font-size="44" text-anchor="middle" fill="#1a1a1a">E11</text>
<text x="666" y="1164.3" font-size="44" text-anchor="middle" fill="#1a1a1a">E13</text>
<text x="1326.8" y="1164.5" font-size="44.3" text-anchor="middle" fill="#1a1a1a">P21 brain</text>
<g fill="none" stroke-width="6.25" stroke-linecap="round"><path d="M75.5 1185.6h0M88.7 1218.3h0M101.8 1218.3h0M154.2 1218.3h0M88.7 1224.9h0M167.2 1224.9h0M167.2 1231.4h0M173.8 1231.4h0M121.4 1238h0M160.7 1238h0M147.6 1244.5h0M160.7 1244.5h0M114.8 1251.1h0M121.4 1251.1h0M154.2 1251.1h0M160.7 1251.1h0M167.2 1251.1h0M324.4 1251.1h0M121.4 1257.6h0M134.5 1257.6h0M141.1 1257.6h0M147.6 1257.6h0M154.2 1257.6h0M167.2 1257.6h0M173.8 1257.6h0M344.1 1257.6h0M134.5 1264.2h0M160.7 1264.2h0M75.5 1270.8h0M82.1 1270.8h0M88.7 1270.8h0M62.5 1277.3h0M69 1277.3h0M88.7 1277.3h0M95.2 1277.3h0M49.4 1283.8h0M75.5 1283.8h0M331 1283.8h0M62.5 1290.4h0M95.2 1290.4h0M101.8 1290.4h0M69 1296.9h0M88.7 1296.9h0M108.3 1296.9h0M75.5 1303.5h0M82.1 1303.5h0M88.7 1303.5h0M95.2 1303.5h0M101.8 1303.5h0M75.5 1310h0M82.1 1310h0M62.5 1316.6h0M121.4 1316.6h0M88.7 1323.1h0M108.3 1323.1h0M69 1329.7h0M75.5 1329.7h0M121.4 1329.7h0M82.1 1336.2h0M232.8 1342.8h0M114.8 1362.4h0M160.7 1395.2h0M101.8 1401.8h0M134.5 1408.3h0M88.7 1414.8h0M173.8 1421.4h0M69 1447.6h0M88.7 1447.6h0M134.5 1454.1h0M317.9 1500h0M324.4 1500h0M324.4 1506.5h0" stroke="#f99455"/><path d="M95.2 1185.6h0M108.3 1185.6h0M206.5 1185.6h0M252.4 1185.6h0M258.9 1185.6h0M206.5 1192.1h0M265.5 1192.1h0M278.6 1192.1h0M291.7 1192.1h0M82.1 1198.7h0M134.5 1198.7h0M213.1 1198.7h0M180.3 1211.8h0M213.1 1211.8h0M134.5 1218.3h0M147.6 1218.3h0M180.3 1218.3h0M186.9 1218.3h0M55.9 1224.9h0M121.4 1224.9h0M134.5 1224.9h0M141.1 1224.9h0M147.6 1224.9h0M186.9 1224.9h0M193.4 1224.9h0M200 1224.9h0M337.6 1224.9h0M200 1231.4h0M206.5 1231.4h0M213.1 1231.4h0M324.4 1231.4h0M337.6 1231.4h0M167.2 1238h0M180.3 1238h0M108.3 1244.5h0M114.8 1244.5h0M121.4 1244.5h0M200 1244.5h0M331 1244.5h0M49.4 1251.1h0M62.5 1251.1h0M186.9 1251.1h0M193.4 1251.1h0M200 1251.1h0M304.8 1251.1h0M127.9 1257.6h0M206.5 1257.6h0M311.4 1257.6h0M331 1257.6h0M337.6 1257.6h0M75.5 1264.2h0M127.9 1264.2h0M147.6 1264.2h0M167.2 1264.2h0M186.9 1264.2h0M193.4 1264.2h0M304.8 1264.2h0M311.4 1264.2h0M331 1264.2h0M357.2 1264.2h0M108.3 1270.8h0M121.4 1270.8h0M186.9 1270.8h0M114.8 1277.3h0M173.8 1277.3h0M324.4 1277.3h0M121.4 1283.8h0M127.9 1283.8h0M160.7 1283.8h0M173.8 1283.8h0M186.9 1283.8h0M317.9 1283.8h0M337.6 1283.8h0M75.5 1290.4h0M134.5 1290.4h0M193.4 1290.4h0M337.6 1290.4h0M141.1 1296.9h0M160.7 1296.9h0M213.1 1296.9h0M160.7 1303.5h0M55.9 1310h0M154.2 1310h0M200 1310h0M239.3 1310h0M134.5 1316.6h0M141.1 1316.6h0M160.7 1316.6h0M49.4 1323.1h0M127.9 1323.1h0M160.7 1323.1h0M173.8 1323.1h0M213.1 1323.1h0M232.8 1323.1h0M49.4 1329.7h0M114.8 1329.7h0M134.5 1329.7h0M49.4 1336.2h0M55.9 1336.2h0M75.5 1336.2h0M134.5 1336.2h0M147.6 1336.2h0M154.2 1336.2h0M160.7 1336.2h0M55.9 1342.8h0M108.3 1342.8h0M114.8 1342.8h0M121.4 1342.8h0M147.6 1342.8h0M239.3 1342.8h0M62.5 1349.3h0M69 1349.3h0M75.5 1349.3h0M101.8 1349.3h0M108.3 1349.3h0M114.8 1349.3h0M147.6 1349.3h0M160.7 1349.3h0M252.4 1349.3h0M69 1355.9h0M82.1 1355.9h0M114.8 1355.9h0M141.1 1355.9h0M147.6 1355.9h0M167.2 1355.9h0M173.8 1355.9h0M82.1 1362.4h0M121.4 1362.4h0M141.1 1362.4h0M173.8 1362.4h0M180.3 1362.4h0M219.6 1362.4h0M114.8 1369h0M141.1 1369h0M160.7 1369h0M160.7 1375.5h0M180.3 1375.5h0M186.9 1375.5h0M193.4 1375.5h0M200 1375.5h0M101.8 1382.1h0M121.4 1382.1h0M134.5 1382.1h0M147.6 1382.1h0M180.3 1382.1h0M108.3 1388.6h0M127.9 1388.6h0M167.2 1388.6h0M180.3 1388.6h0M108.3 1395.2h0M114.8 1395.2h0M154.2 1395.2h0M82.1 1401.8h0M88.7 1401.8h0M108.3 1401.8h0M127.9 1401.8h0M134.5 1401.8h0M154.2 1401.8h0M160.7 1401.8h0M69 1408.3h0M82.1 1408.3h0M88.7 1408.3h0M95.2 1408.3h0M101.8 1408.3h0M127.9 1408.3h0M147.6 1408.3h0M167.2 1408.3h0M173.8 1408.3h0M193.4 1408.3h0M200 1408.3h0M62.5 1414.8h0M82.1 1414.8h0M101.8 1414.8h0M127.9 1414.8h0M134.5 1414.8h0M160.7 1414.8h0M49.4 1421.4h0M88.7 1421.4h0M108.3 1421.4h0M127.9 1421.4h0M232.8 1421.4h0M49.4 1427.9h0M69 1427.9h0M101.8 1427.9h0M134.5 1427.9h0M154.2 1427.9h0M55.9 1434.5h0M101.8 1434.5h0M147.6 1434.5h0M154.2 1434.5h0M206.5 1434.5h0M219.6 1434.5h0M49.4 1441h0M69 1441h0M75.5 1441h0M82.1 1441h0M88.7 1441h0M108.3 1441h0M154.2 1441h0M200 1441h0M62.5 1447.6h0M75.5 1447.6h0M180.3 1447.6h0M200 1447.6h0M206.5 1447.6h0M55.9 1454.1h0M88.7 1454.1h0M108.3 1454.1h0M200 1454.1h0M213.1 1454.1h0M219.6 1454.1h0M49.4 1460.7h0M62.5 1460.7h0M114.8 1460.7h0M154.2 1460.7h0M75.5 1467.2h0M82.1 1467.2h0M101.8 1467.2h0M114.8 1467.2h0M127.9 1467.2h0M141.1 1467.2h0M147.6 1467.2h0M160.7 1467.2h0M200 1467.2h0M206.5 1467.2h0M88.7 1473.8h0M141.1 1473.8h0M160.7 1473.8h0M167.2 1473.8h0M200 1473.8h0M219.6 1473.8h0M75.5 1480.3h0M95.2 1480.3h0M121.4 1480.3h0M134.5 1480.3h0M141.1 1480.3h0M160.7 1480.3h0M200 1480.3h0M213.1 1480.3h0M298.2 1480.3h0M317.9 1480.3h0M88.7 1486.9h0M180.3 1486.9h0M200 1486.9h0M337.6 1486.9h0M344.1 1486.9h0M75.5 1493.4h0M101.8 1493.4h0M108.3 1493.4h0M121.4 1493.4h0M127.9 1493.4h0M154.2 1493.4h0M167.2 1493.4h0M213.1 1493.4h0M337.6 1493.4h0M344.1 1493.4h0M88.7 1500h0M95.2 1500h0M114.8 1500h0M127.9 1500h0M304.8 1500h0M69 1506.5h0M88.7 1506.5h0M141.1 1506.5h0M167.2 1506.5h0M200 1506.5h0M291.7 1506.5h0M317.9 1506.5h0" stroke="#f67a49"/><path d="M101.8 1185.6h0M219.6 1185.6h0M291.7 1185.6h0M200 1192.1h0M226.2 1192.1h0M232.8 1192.1h0M304.8 1192.1h0M193.4 1198.7h0M226.2 1198.7h0M239.3 1198.7h0M265.5 1198.7h0M278.6 1198.7h0M331 1198.7h0M272.1 1205.2h0M127.9 1211.8h0M141.1 1211.8h0M147.6 1211.8h0M154.2 1211.8h0M173.8 1211.8h0M193.4 1211.8h0M285.1 1211.8h0M291.7 1211.8h0M331 1211.8h0M141.1 1218.3h0M160.7 1218.3h0M193.4 1218.3h0M213.1 1218.3h0M226.2 1218.3h0M298.2 1218.3h0M304.8 1218.3h0M350.7 1218.3h0M357.2 1218.3h0M363.8 1218.3h0M206.5 1224.9h0M311.4 1224.9h0M160.7 1231.4h0M180.3 1231.4h0M186.9 1231.4h0M219.6 1231.4h0M311.4 1231.4h0M317.9 1231.4h0M331 1231.4h0M55.9 1238h0M186.9 1238h0M213.1 1238h0M180.3 1244.5h0M180.3 1251.1h0M206.5 1251.1h0M317.9 1251.1h0M114.8 1257.6h0M200 1257.6h0M298.2 1257.6h0M304.8 1257.6h0M324.4 1257.6h0M350.7 1257.6h0M363.8 1257.6h0M154.2 1264.2h0M200 1264.2h0M206.5 1264.2h0M114.8 1270.8h0M141.1 1270.8h0M147.6 1270.8h0M154.2 1270.8h0M160.7 1270.8h0M167.2 1270.8h0M173.8 1270.8h0M180.3 1270.8h0M193.4 1270.8h0M200 1270.8h0M285.1 1270.8h0M298.2 1270.8h0M154.2 1277.3h0M167.2 1277.3h0M186.9 1277.3h0M206.5 1277.3h0M298.2 1277.3h0M304.8 1277.3h0M337.6 1277.3h0M101.8 1283.8h0M154.2 1283.8h0M180.3 1283.8h0M200 1283.8h0M344.1 1283.8h0M147.6 1290.4h0M154.2 1290.4h0M160.7 1290.4h0M173.8 1290.4h0M206.5 1290.4h0M331 1290.4h0M357.2 1290.4h0M134.5 1296.9h0M147.6 1296.9h0M154.2 1296.9h0M173.8 1296.9h0M180.3 1296.9h0M186.9 1296.9h0M324.4 1296.9h0M331 1296.9h0M344.1 1296.9h0M154.2 1303.5h0M167.2 1303.5h0M180.3 1303.5h0M186.9 1303.5h0M206.5 1303.5h0M226.2 1303.5h0M324.4 1303.5h0M121.4 1310h0M127.9 1310h0M180.3 1310h0M206.5 1310h0M331 1310h0M337.6 1310h0M193.4 1316.6h0M213.1 1316.6h0M258.9 1316.6h0M114.8 1323.1h0M121.4 1323.1h0M134.5 1323.1h0M141.1 1323.1h0M154.2 1323.1h0M193.4 1323.1h0M200 1323.1h0M252.4 1323.1h0M324.4 1323.1h0M186.9 1329.7h0M193.4 1329.7h0M226.2 1329.7h0M239.3 1329.7h0M245.8 1329.7h0M331 1329.7h0M62.5 1336.2h0M121.4 1336.2h0M200 1336.2h0M206.5 1336.2h0M226.2 1336.2h0M62.5 1342.8h0M69 1342.8h0M134.5 1342.8h0M141.1 1342.8h0M173.8 1342.8h0M180.3 1342.8h0M200 1342.8h0M206.5 1342.8h0M213.1 1342.8h0M226.2 1342.8h0M258.9 1342.8h0M272.1 1342.8h0M331 1342.8h0M49.4 1349.3h0M127.9 1349.3h0M213.1 1349.3h0M219.6 1349.3h0M239.3 1349.3h0M258.9 1349.3h0M278.6 1349.3h0M291.7 1349.3h0M75.5 1355.9h0M108.3 1355.9h0M127.9 1355.9h0M154.2 1355.9h0M180.3 1355.9h0M193.4 1355.9h0M219.6 1355.9h0M226.2 1355.9h0M232.8 1355.9h0M265.5 1355.9h0M278.6 1355.9h0M291.7 1355.9h0M298.2 1355.9h0M337.6 1355.9h0M55.9 1362.4h0M69 1362.4h0M95.2 1362.4h0M108.3 1362.4h0M134.5 1362.4h0M167.2 1362.4h0M304.8 1362.4h0M95.2 1369h0M147.6 1369h0M154.2 1369h0M173.8 1369h0M186.9 1369h0M206.5 1369h0M213.1 1369h0M331 1369h0M101.8 1375.5h0M108.3 1375.5h0M141.1 1375.5h0M167.2 1375.5h0M206.5 1375.5h0M311.4 1375.5h0M331 1375.5h0M337.6 1375.5h0M55.9 1382.1h0M88.7 1382.1h0M108.3 1382.1h0M114.8 1382.1h0M154.2 1382.1h0M160.7 1382.1h0M167.2 1382.1h0M173.8 1382.1h0M193.4 1382.1h0M95.2 1388.6h0M101.8 1388.6h0M114.8 1388.6h0M141.1 1388.6h0M173.8 1388.6h0M213.1 1388.6h0M219.6 1388.6h0M62.5 1395.2h0M88.7 1395.2h0M121.4 1395.2h0M167.2 1395.2h0M173.8 1395.2h0M180.3 1395.2h0M55.9 1401.8h0M75.5 1401.8h0M121.4 1401.8h0M186.9 1401.8h0M200 1401.8h0M55.9 1408.3h0M114.8 1408.3h0M121.4 1408.3h0M180.3 1408.3h0M69 1414.8h0M95.2 1414.8h0M167.2 1414.8h0M173.8 1414.8h0M186.9 1414.8h0M226.2 1414.8h0M82.1 1421.4h0M101.8 1421.4h0M114.8 1421.4h0M121.4 1421.4h0M147.6 1421.4h0M154.2 1421.4h0M167.2 1421.4h0M186.9 1421.4h0M193.4 1421.4h0M206.5 1421.4h0M357.2 1421.4h0M75.5 1427.9h0M82.1 1427.9h0M108.3 1427.9h0M114.8 1427.9h0M121.4 1427.9h0M127.9 1427.9h0M141.1 1427.9h0M147.6 1427.9h0M160.7 1427.9h0M173.8 1427.9h0M180.3 1427.9h0M186.9 1427.9h0M206.5 1427.9h0M75.5 1434.5h0M88.7 1434.5h0M95.2 1434.5h0M108.3 1434.5h0M121.4 1434.5h0M160.7 1434.5h0M180.3 1434.5h0M186.9 1434.5h0M200 1434.5h0M232.8 1434.5h0M62.5 1441h0M114.8 1441h0M160.7 1441h0M167.2 1441h0M173.8 1441h0M180.3 1441h0M186.9 1441h0M193.4 1441h0M206.5 1441h0M213.1 1441h0M49.4 1447.6h0M82.1 1447.6h0M101.8 1447.6h0M121.4 1447.6h0M127.9 1447.6h0M186.9 1447.6h0M219.6 1447.6h0M49.4 1454.1h0M75.5 1454.1h0M82.1 1454.1h0M114.8 1454.1h0M141.1 1454.1h0M193.4 1454.1h0M206.5 1454.1h0M69 1460.7h0M82.1 1460.7h0M88.7 1460.7h0M108.3 1460.7h0M121.4 1460.7h0M127.9 1460.7h0M134.5 1460.7h0M147.6 1460.7h0M160.7 1460.7h0M186.9 1460.7h0M206.5 1460.7h0M213.1 1460.7h0M219.6 1460.7h0M49.4 1467.2h0M55.9 1467.2h0M121.4 1467.2h0M134.5 1467.2h0M154.2 1467.2h0M173.8 1467.2h0M186.9 1467.2h0M193.4 1467.2h0M213.1 1467.2h0M62.5 1473.8h0M82.1 1473.8h0M101.8 1473.8h0M127.9 1473.8h0M173.8 1473.8h0M180.3 1473.8h0M186.9 1473.8h0M213.1 1473.8h0M226.2 1473.8h0M108.3 1480.3h0M114.8 1480.3h0M127.9 1480.3h0M154.2 1480.3h0M167.2 1480.3h0M193.4 1480.3h0M291.7 1480.3h0M311.4 1480.3h0M324.4 1480.3h0M350.7 1480.3h0M49.4 1486.9h0M55.9 1486.9h0M62.5 1486.9h0M69 1486.9h0M101.8 1486.9h0M121.4 1486.9h0M134.5 1486.9h0M147.6 1486.9h0M186.9 1486.9h0M213.1 1486.9h0M350.7 1486.9h0M49.4 1493.4h0M69 1493.4h0M82.1 1493.4h0M141.1 1493.4h0M180.3 1493.4h0M186.9 1493.4h0M200 1493.4h0M206.5 1493.4h0M317.9 1493.4h0M69 1500h0M101.8 1500h0M121.4 1500h0M134.5 1500h0M141.1 1500h0M147.6 1500h0M167.2 1500h0M200 1500h0M213.1 1500h0M219.6 1500h0M285.1 1500h0M291.7 1500h0M298.2 1500h0M331 1500h0M62.5 1506.5h0M82.1 1506.5h0M108.3 1506.5h0M154.2 1506.5h0M160.7 1506.5h0M186.9 1506.5h0M206.5 1506.5h0M213.1 1506.5h0M298.2 1506.5h0M304.8 1506.5h0" stroke="#f46d43"/><path d="M239.3 1185.6h0M265.5 1185.6h0M272.1 1185.6h0M213.1 1192.1h0M219.6 1192.1h0M239.3 1192.1h0M245.8 1192.1h0M272.1 1192.1h0M298.2 1192.1h0M311.4 1192.1h0M173.8 1198.7h0M200 1198.7h0M206.5 1198.7h0M219.6 1198.7h0M245.8 1198.7h0M252.4 1198.7h0M291.7 1198.7h0M317.9 1198.7h0M193.4 1205.2h0M200 1205.2h0M232.8 1205.2h0M239.3 1205.2h0M245.8 1205.2h0M134.5 1211.8h0M160.7 1211.8h0M200 1211.8h0M206.5 1211.8h0M232.8 1211.8h0M239.3 1211.8h0M265.5 1211.8h0M298.2 1211.8h0M311.4 1211.8h0M317.9 1211.8h0M121.4 1218.3h0M173.8 1218.3h0M206.5 1218.3h0M311.4 1218.3h0M324.4 1218.3h0M331 1218.3h0M173.8 1224.9h0M180.3 1224.9h0M213.1 1224.9h0M304.8 1224.9h0M331 1224.9h0M206.5 1238h0M311.4 1238h0M317.9 1238h0M324.4 1238h0M337.6 1244.5h0M219.6 1251.1h0M226.2 1251.1h0M232.8 1251.1h0M311.4 1251.1h0M213.1 1257.6h0M219.6 1257.6h0M108.3 1264.2h0M173.8 1264.2h0M180.3 1264.2h0M213.1 1264.2h0M285.1 1264.2h0M291.7 1264.2h0M213.1 1270.8h0M121.4 1277.3h0M141.1 1277.3h0M147.6 1277.3h0M180.3 1277.3h0M200 1277.3h0M291.7 1277.3h0M193.4 1283.8h0M206.5 1283.8h0M213.1 1283.8h0M219.6 1283.8h0M291.7 1283.8h0M298.2 1283.8h0M304.8 1283.8h0M357.2 1283.8h0M141.1 1290.4h0M186.9 1290.4h0M200 1290.4h0M213.1 1290.4h0M219.6 1290.4h0M304.8 1290.4h0M324.4 1290.4h0M344.1 1290.4h0M350.7 1290.4h0M206.5 1296.9h0M219.6 1296.9h0M304.8 1296.9h0M317.9 1296.9h0M337.6 1296.9h0M121.4 1303.5h0M134.5 1303.5h0M147.6 1303.5h0M173.8 1303.5h0M193.4 1303.5h0M200 1303.5h0M317.9 1303.5h0M331 1303.5h0M337.6 1303.5h0M344.1 1303.5h0M350.7 1303.5h0M141.1 1310h0M160.7 1310h0M173.8 1310h0M193.4 1310h0M226.2 1310h0M232.8 1310h0M258.9 1310h0M167.2 1316.6h0M186.9 1316.6h0M219.6 1316.6h0M226.2 1316.6h0M232.8 1316.6h0M239.3 1316.6h0M245.8 1316.6h0M265.5 1316.6h0M331 1316.6h0M344.1 1316.6h0M167.2 1323.1h0M219.6 1323.1h0M226.2 1323.1h0M258.9 1323.1h0M331 1323.1h0M154.2 1329.7h0M167.2 1329.7h0M173.8 1329.7h0M200 1329.7h0M219.6 1329.7h0M252.4 1329.7h0M272.1 1329.7h0M278.6 1329.7h0M311.4 1329.7h0M317.9 1329.7h0M324.4 1329.7h0M127.9 1336.2h0M173.8 1336.2h0M180.3 1336.2h0M193.4 1336.2h0M239.3 1336.2h0M245.8 1336.2h0M344.1 1336.2h0M127.9 1342.8h0M154.2 1342.8h0M160.7 1342.8h0M186.9 1342.8h0M219.6 1342.8h0M245.8 1342.8h0M252.4 1342.8h0M278.6 1342.8h0M285.1 1342.8h0M291.7 1342.8h0M55.9 1349.3h0M141.1 1349.3h0M167.2 1349.3h0M180.3 1349.3h0M186.9 1349.3h0M232.8 1349.3h0M272.1 1349.3h0M285.1 1349.3h0M331 1349.3h0M49.4 1355.9h0M88.7 1355.9h0M134.5 1355.9h0M160.7 1355.9h0M186.9 1355.9h0M239.3 1355.9h0M258.9 1355.9h0M272.1 1355.9h0M285.1 1355.9h0M304.8 1355.9h0M62.5 1362.4h0M75.5 1362.4h0M88.7 1362.4h0M127.9 1362.4h0M147.6 1362.4h0M160.7 1362.4h0M193.4 1362.4h0M200 1362.4h0M213.1 1362.4h0M331 1362.4h0M344.1 1362.4h0M49.4 1369h0M55.9 1369h0M62.5 1369h0M69 1369h0M75.5 1369h0M108.3 1369h0M121.4 1369h0M127.9 1369h0M134.5 1369h0M167.2 1369h0M180.3 1369h0M200 1369h0M278.6 1369h0M311.4 1369h0M49.4 1375.5h0M69 1375.5h0M75.5 1375.5h0M88.7 1375.5h0M127.9 1375.5h0M154.2 1375.5h0M173.8 1375.5h0M239.3 1375.5h0M49.4 1382.1h0M69 1382.1h0M75.5 1382.1h0M82.1 1382.1h0M95.2 1382.1h0M127.9 1382.1h0M200 1382.1h0M206.5 1382.1h0M213.1 1382.1h0M226.2 1382.1h0M62.5 1388.6h0M75.5 1388.6h0M82.1 1388.6h0M121.4 1388.6h0M134.5 1388.6h0M186.9 1388.6h0M200 1388.6h0M206.5 1388.6h0M226.2 1388.6h0M324.4 1388.6h0M331 1388.6h0M69 1395.2h0M75.5 1395.2h0M82.1 1395.2h0M95.2 1395.2h0M101.8 1395.2h0M127.9 1395.2h0M134.5 1395.2h0M147.6 1395.2h0M186.9 1395.2h0M193.4 1395.2h0M200 1395.2h0M213.1 1395.2h0M344.1 1395.2h0M49.4 1401.8h0M62.5 1401.8h0M69 1401.8h0M95.2 1401.8h0M114.8 1401.8h0M147.6 1401.8h0M167.2 1401.8h0M173.8 1401.8h0M180.3 1401.8h0M193.4 1401.8h0M213.1 1401.8h0M344.1 1401.8h0M49.4 1408.3h0M62.5 1408.3h0M186.9 1408.3h0M226.2 1408.3h0M239.3 1408.3h0M337.6 1408.3h0M344.1 1408.3h0M350.7 1408.3h0M49.4 1414.8h0M55.9 1414.8h0M141.1 1414.8h0M180.3 1414.8h0M193.4 1414.8h0M200 1414.8h0M213.1 1414.8h0M219.6 1414.8h0M62.5 1421.4h0M180.3 1421.4h0M200 1421.4h0M226.2 1421.4h0M55.9 1427.9h0M88.7 1427.9h0M95.2 1427.9h0M200 1427.9h0M213.1 1427.9h0M219.6 1427.9h0M62.5 1434.5h0M173.8 1434.5h0M213.1 1434.5h0M55.9 1441h0M127.9 1441h0M55.9 1447.6h0M108.3 1447.6h0M134.5 1447.6h0M141.1 1447.6h0M193.4 1447.6h0M213.1 1447.6h0M69 1454.1h0M101.8 1454.1h0M121.4 1454.1h0M186.9 1454.1h0M226.2 1454.1h0M357.2 1454.1h0M75.5 1460.7h0M101.8 1460.7h0M226.2 1460.7h0M357.2 1460.7h0M370.3 1460.7h0M88.7 1467.2h0M180.3 1467.2h0M219.6 1467.2h0M226.2 1467.2h0M49.4 1473.8h0M55.9 1473.8h0M69 1473.8h0M75.5 1473.8h0M108.3 1473.8h0M114.8 1473.8h0M121.4 1473.8h0M134.5 1473.8h0M147.6 1473.8h0M154.2 1473.8h0M206.5 1473.8h0M331 1473.8h0M337.6 1473.8h0M357.2 1473.8h0M88.7 1480.3h0M180.3 1480.3h0M186.9 1480.3h0M219.6 1480.3h0M226.2 1480.3h0M75.5 1486.9h0M82.1 1486.9h0M108.3 1486.9h0M114.8 1486.9h0M160.7 1486.9h0M206.5 1486.9h0M219.6 1486.9h0M278.6 1486.9h0M55.9 1493.4h0M62.5 1493.4h0M114.8 1493.4h0M147.6 1493.4h0M160.7 1493.4h0M173.8 1493.4h0M219.6 1493.4h0M226.2 1493.4h0M75.5 1500h0M108.3 1500h0M154.2 1500h0M160.7 1500h0M186.9 1500h0M206.5 1500h0M55.9 1506.5h0M95.2 1506.5h0M121.4 1506.5h0M134.5 1506.5h0M147.6 1506.5h0M180.3 1506.5h0M193.4 1506.5h0M219.6 1506.5h0" stroke="#ee6445"/><path d="M245.8 1185.6h0M278.6 1185.6h0M285.1 1185.6h0M101.8 1192.1h0M252.4 1192.1h0M258.9 1198.7h0M272.1 1198.7h0M285.1 1198.7h0M324.4 1198.7h0M167.2 1211.8h0M186.9 1211.8h0M226.2 1211.8h0M304.8 1211.8h0M324.4 1211.8h0M350.7 1211.8h0M167.2 1218.3h0M219.6 1218.3h0M317.9 1218.3h0M324.4 1224.9h0M370.3 1224.9h0M219.6 1238h0M206.5 1244.5h0M213.1 1244.5h0M232.8 1244.5h0M239.3 1244.5h0M245.8 1244.5h0M252.4 1244.5h0M213.1 1251.1h0M239.3 1251.1h0M245.8 1251.1h0M265.5 1251.1h0M258.9 1257.6h0M272.1 1257.6h0M278.6 1257.6h0M285.1 1257.6h0M357.2 1257.6h0M219.6 1264.2h0M278.6 1264.2h0M206.5 1270.8h0M219.6 1270.8h0M291.7 1270.8h0M127.9 1277.3h0M193.4 1277.3h0M213.1 1277.3h0M167.2 1283.8h0M278.6 1283.8h0M285.1 1283.8h0M311.4 1283.8h0M232.8 1290.4h0M291.7 1290.4h0M193.4 1296.9h0M200 1296.9h0M226.2 1296.9h0M245.8 1296.9h0M252.4 1296.9h0M258.9 1296.9h0M350.7 1296.9h0M219.6 1303.5h0M232.8 1303.5h0M167.2 1310h0M186.9 1310h0M298.2 1310h0M324.4 1310h0M344.1 1310h0M311.4 1316.6h0M317.9 1316.6h0M324.4 1316.6h0M337.6 1316.6h0M350.7 1316.6h0M147.6 1323.1h0M186.9 1323.1h0M311.4 1323.1h0M337.6 1323.1h0M344.1 1323.1h0M141.1 1329.7h0M160.7 1329.7h0M180.3 1329.7h0M232.8 1329.7h0M337.6 1329.7h0M344.1 1329.7h0M141.1 1336.2h0M167.2 1336.2h0M186.9 1336.2h0M219.6 1336.2h0M252.4 1336.2h0M272.1 1336.2h0M337.6 1336.2h0M265.5 1342.8h0M298.2 1342.8h0M88.7 1349.3h0M173.8 1349.3h0M193.4 1349.3h0M206.5 1349.3h0M226.2 1349.3h0M265.5 1349.3h0M311.4 1349.3h0M337.6 1349.3h0M344.1 1349.3h0M55.9 1355.9h0M121.4 1355.9h0M206.5 1355.9h0M252.4 1355.9h0M331 1355.9h0M344.1 1355.9h0M49.4 1362.4h0M154.2 1362.4h0M186.9 1362.4h0M206.5 1362.4h0M226.2 1362.4h0M239.3 1362.4h0M245.8 1362.4h0M82.1 1369h0M88.7 1369h0M193.4 1369h0M226.2 1369h0M232.8 1369h0M239.3 1369h0M265.5 1369h0M337.6 1369h0M344.1 1369h0M350.7 1369h0M55.9 1375.5h0M62.5 1375.5h0M95.2 1375.5h0M114.8 1375.5h0M232.8 1375.5h0M304.8 1375.5h0M317.9 1375.5h0M344.1 1375.5h0M350.7 1375.5h0M62.5 1382.1h0M186.9 1382.1h0M219.6 1382.1h0M285.1 1382.1h0M317.9 1382.1h0M324.4 1382.1h0M337.6 1382.1h0M49.4 1388.6h0M55.9 1388.6h0M69 1388.6h0M88.7 1388.6h0M160.7 1388.6h0M193.4 1388.6h0M350.7 1388.6h0M49.4 1395.2h0M55.9 1395.2h0M206.5 1395.2h0M226.2 1395.2h0M324.4 1395.2h0M331 1395.2h0M337.6 1395.2h0M350.7 1395.2h0M206.5 1401.8h0M219.6 1401.8h0M239.3 1401.8h0M258.9 1401.8h0M331 1401.8h0M337.6 1401.8h0M357.2 1401.8h0M75.5 1408.3h0M219.6 1408.3h0M232.8 1408.3h0M331 1408.3h0M363.8 1408.3h0M206.5 1414.8h0M258.9 1414.8h0M344.1 1414.8h0M363.8 1414.8h0M134.5 1421.4h0M213.1 1421.4h0M219.6 1421.4h0M298.2 1421.4h0M337.6 1421.4h0M350.7 1421.4h0M193.4 1427.9h0M344.1 1427.9h0M49.4 1434.5h0M167.2 1434.5h0M226.2 1434.5h0M95.2 1441h0M219.6 1441h0M226.2 1441h0M95.2 1447.6h0M226.2 1447.6h0M357.2 1447.6h0M62.5 1454.1h0M180.3 1454.1h0M55.9 1460.7h0M62.5 1467.2h0M69 1467.2h0M331 1467.2h0M49.4 1480.3h0M272.1 1480.3h0M278.6 1480.3h0M95.2 1486.9h0M154.2 1486.9h0M167.2 1486.9h0M173.8 1486.9h0M226.2 1486.9h0M272.1 1486.9h0M285.1 1486.9h0M88.7 1493.4h0M134.5 1493.4h0M55.9 1500h0M62.5 1500h0M173.8 1500h0M232.8 1500h0M258.9 1500h0M75.5 1506.5h0M114.8 1506.5h0M173.8 1506.5h0M226.2 1506.5h0" stroke="#e85a48"/><path d="M69 1192.1h0M49.4 1198.7h0M121.4 1198.7h0M127.9 1218.3h0M127.9 1224.9h0M154.2 1224.9h0M160.7 1224.9h0M317.9 1224.9h0M121.4 1231.4h0M134.5 1231.4h0M193.4 1231.4h0M69 1238h0M114.8 1238h0M173.8 1238h0M193.4 1238h0M200 1238h0M331 1238h0M154.2 1244.5h0M167.2 1244.5h0M173.8 1244.5h0M186.9 1244.5h0M193.4 1244.5h0M324.4 1244.5h0M55.9 1251.1h0M141.1 1251.1h0M173.8 1251.1h0M317.9 1257.6h0M62.5 1264.2h0M69 1264.2h0M114.8 1264.2h0M121.4 1264.2h0M141.1 1264.2h0M49.4 1270.8h0M55.9 1270.8h0M69 1270.8h0M127.9 1270.8h0M134.5 1270.8h0M49.4 1277.3h0M82.1 1277.3h0M134.5 1277.3h0M160.7 1277.3h0M317.9 1277.3h0M55.9 1283.8h0M62.5 1283.8h0M69 1283.8h0M95.2 1283.8h0M147.6 1283.8h0M324.4 1283.8h0M55.9 1290.4h0M82.1 1290.4h0M55.9 1296.9h0M95.2 1296.9h0M101.8 1296.9h0M108.3 1303.5h0M127.9 1303.5h0M101.8 1310h0M108.3 1310h0M134.5 1310h0M49.4 1316.6h0M88.7 1316.6h0M95.2 1316.6h0M127.9 1316.6h0M147.6 1316.6h0M55.9 1323.1h0M62.5 1329.7h0M127.9 1329.7h0M147.6 1329.7h0M69 1336.2h0M88.7 1336.2h0M95.2 1336.2h0M114.8 1336.2h0M49.4 1342.8h0M82.1 1342.8h0M101.8 1342.8h0M167.2 1342.8h0M193.4 1342.8h0M154.2 1349.3h0M101.8 1355.9h0M121.4 1375.5h0M147.6 1375.5h0M141.1 1382.1h0M331 1382.1h0M154.2 1388.6h0M337.6 1388.6h0M141.1 1395.2h0M141.1 1401.8h0M141.1 1408.3h0M154.2 1408.3h0M75.5 1414.8h0M108.3 1414.8h0M114.8 1414.8h0M121.4 1414.8h0M147.6 1414.8h0M55.9 1421.4h0M69 1421.4h0M75.5 1421.4h0M95.2 1421.4h0M141.1 1421.4h0M160.7 1421.4h0M62.5 1427.9h0M167.2 1427.9h0M82.1 1434.5h0M193.4 1434.5h0M121.4 1441h0M114.8 1447.6h0M147.6 1447.6h0M127.9 1454.1h0M147.6 1454.1h0M95.2 1460.7h0M141.1 1460.7h0M193.4 1460.7h0M200 1460.7h0M108.3 1467.2h0M167.2 1467.2h0M363.8 1467.2h0M370.3 1467.2h0M95.2 1473.8h0M363.8 1473.8h0M55.9 1480.3h0M62.5 1480.3h0M82.1 1480.3h0M101.8 1480.3h0M173.8 1480.3h0M285.1 1480.3h0M304.8 1480.3h0M357.2 1480.3h0M127.9 1486.9h0M141.1 1486.9h0M193.4 1486.9h0M95.2 1493.4h0M49.4 1500h0M180.3 1500h0M337.6 1500h0M127.9 1506.5h0M311.4 1506.5h0" stroke="#f8874f"/><path d="M108.3 1192.1h0M154.2 1231.4h0M49.4 1257.6h0M62.5 1270.8h0M357.2 1270.8h0M55.9 1277.3h0M101.8 1329.7h0M108.3 1336.2h0M291.7 1486.9h0" stroke="#eaf193"/><path d="M258.9 1192.1h0M285.1 1192.1h0M298.2 1198.7h0M121.4 1211.8h0M108.3 1218.3h0M49.4 1231.4h0M62.5 1231.4h0M258.9 1231.4h0M304.8 1231.4h0M108.3 1238h0M141.1 1244.5h0M357.2 1251.1h0M186.9 1257.6h0M49.4 1264.2h0M82.1 1264.2h0M304.8 1270.8h0M160.7 1408.3h0M344.1 1447.6h0M82.1 1500h0" stroke="#fdb869"/><path d="M317.9 1192.1h0M252.4 1251.1h0M272.1 1251.1h0M232.8 1257.6h0M239.3 1264.2h0M265.5 1264.2h0M226.2 1270.8h0M239.3 1270.8h0M245.8 1270.8h0M258.9 1270.8h0M226.2 1277.3h0M226.2 1283.8h0M239.3 1283.8h0M245.8 1283.8h0M252.4 1283.8h0M363.8 1283.8h0M226.2 1290.4h0M245.8 1290.4h0M265.5 1290.4h0M272.1 1290.4h0M278.6 1290.4h0M285.1 1290.4h0M298.2 1290.4h0M311.4 1290.4h0M370.3 1290.4h0M272.1 1296.9h0M278.6 1296.9h0M298.2 1303.5h0M311.4 1303.5h0M291.7 1310h0M278.6 1316.6h0M285.1 1316.6h0M298.2 1316.6h0M317.9 1323.1h0M291.7 1329.7h0M350.7 1336.2h0M357.2 1336.2h0M200 1349.3h0M265.5 1375.5h0M272.1 1375.5h0M357.2 1375.5h0M245.8 1382.1h0M258.9 1382.1h0M278.6 1382.1h0M265.5 1388.6h0M285.1 1388.6h0M245.8 1395.2h0M252.4 1395.2h0M304.8 1395.2h0M245.8 1401.8h0M291.7 1401.8h0M304.8 1401.8h0M311.4 1401.8h0M370.3 1401.8h0M258.9 1408.3h0M304.8 1408.3h0M370.3 1408.3h0M317.9 1414.8h0M331 1414.8h0M337.6 1414.8h0M258.9 1421.4h0M304.8 1421.4h0M331 1421.4h0M232.8 1427.9h0M239.3 1427.9h0M344.1 1434.5h0M337.6 1441h0M344.1 1441h0M331 1447.6h0M337.6 1447.6h0M232.8 1454.1h0M258.9 1454.1h0M324.4 1454.1h0M232.8 1460.7h0M331 1460.7h0M337.6 1460.7h0M232.8 1467.2h0M239.3 1467.2h0M245.8 1467.2h0M232.8 1480.3h0M232.8 1486.9h0M226.2 1500h0M239.3 1500h0M232.8 1506.5h0M252.4 1506.5h0" stroke="#db474d"/><path d="M232.8 1198.7h0M219.6 1211.8h0M200 1218.3h0M232.8 1218.3h0M219.6 1224.9h0M258.9 1251.1h0M193.4 1257.6h0M239.3 1257.6h0M265.5 1257.6h0M370.3 1257.6h0M226.2 1264.2h0M245.8 1264.2h0M258.9 1264.2h0M272.1 1264.2h0M298.2 1264.2h0M272.1 1270.8h0M278.6 1270.8h0M219.6 1277.3h0M278.6 1277.3h0M285.1 1277.3h0M272.1 1283.8h0M180.3 1290.4h0M239.3 1290.4h0M252.4 1290.4h0M167.2 1296.9h0M265.5 1296.9h0M357.2 1296.9h0M265.5 1303.5h0M304.8 1303.5h0M370.3 1303.5h0M311.4 1310h0M317.9 1310h0M357.2 1310h0M291.7 1316.6h0M304.8 1316.6h0M298.2 1323.1h0M304.8 1323.1h0M350.7 1323.1h0M285.1 1329.7h0M331 1336.2h0M344.1 1342.8h0M350.7 1342.8h0M62.5 1355.9h0M200 1355.9h0M213.1 1355.9h0M245.8 1355.9h0M232.8 1362.4h0M252.4 1362.4h0M265.5 1362.4h0M337.6 1362.4h0M101.8 1369h0M82.1 1375.5h0M226.2 1375.5h0M245.8 1375.5h0M278.6 1375.5h0M285.1 1375.5h0M265.5 1382.1h0M291.7 1382.1h0M298.2 1382.1h0M311.4 1382.1h0M344.1 1382.1h0M350.7 1382.1h0M245.8 1388.6h0M298.2 1388.6h0M304.8 1388.6h0M311.4 1388.6h0M317.9 1388.6h0M344.1 1388.6h0M357.2 1388.6h0M219.6 1395.2h0M239.3 1395.2h0M317.9 1395.2h0M357.2 1395.2h0M226.2 1401.8h0M232.8 1401.8h0M252.4 1401.8h0M324.4 1401.8h0M350.7 1401.8h0M206.5 1408.3h0M213.1 1408.3h0M265.5 1408.3h0M232.8 1414.8h0M239.3 1414.8h0M304.8 1414.8h0M357.2 1414.8h0M344.1 1421.4h0M226.2 1427.9h0M258.9 1427.9h0M337.6 1427.9h0M232.8 1441h0M232.8 1447.6h0M311.4 1447.6h0M317.9 1447.6h0M350.7 1447.6h0M317.9 1454.1h0M95.2 1467.2h0M69 1480.3h0M239.3 1480.3h0M239.3 1486.9h0M265.5 1486.9h0M232.8 1493.4h0M265.5 1493.4h0M49.4 1506.5h0M101.8 1506.5h0M239.3 1506.5h0" stroke="#e1514a"/><path d="M304.8 1198.7h0M311.4 1198.7h0M363.8 1238h0M350.7 1264.2h0M344.1 1270.8h0M350.7 1270.8h0M363.8 1270.8h0M344.1 1277.3h0M357.2 1277.3h0M370.3 1277.3h0M350.7 1283.8h0M55.9 1316.6h0M108.3 1316.6h0M95.2 1323.1h0M95.2 1329.7h0M206.5 1329.7h0M101.8 1336.2h0M232.8 1336.2h0M337.6 1342.8h0M95.2 1355.9h0M154.2 1414.8h0M350.7 1414.8h0M134.5 1441h0M147.6 1441h0" stroke="#f0ec8c"/><path d="M82.1 1211.8h0M114.8 1231.4h0M127.9 1231.4h0M127.9 1238h0M141.1 1238h0M134.5 1244.5h0M127.9 1251.1h0M134.5 1251.1h0M160.7 1257.6h0M88.7 1283.8h0M69 1290.4h0M88.7 1290.4h0M62.5 1296.9h0M62.5 1303.5h0M69 1303.5h0M49.4 1310h0M62.5 1310h0M69 1310h0M88.7 1310h0M95.2 1310h0M75.5 1316.6h0M101.8 1316.6h0M62.5 1323.1h0M75.5 1323.1h0M101.8 1323.1h0M55.9 1329.7h0M108.3 1329.7h0M88.7 1342.8h0M154.2 1454.1h0" stroke="#fba15b"/><path d="M101.8 1211.8h0M108.3 1211.8h0M147.6 1231.4h0M363.8 1231.4h0M370.3 1231.4h0M357.2 1244.5h0M49.4 1296.9h0M206.5 1316.6h0" stroke="#66c2a5"/><path d="M344.1 1211.8h0M370.3 1238h0M127.9 1434.5h0" stroke="#e8f396"/><path d="M95.2 1218.3h0M350.7 1224.9h0M357.2 1224.9h0M357.2 1238h0M69 1323.1h0M82.1 1323.1h0" stroke="#f8e58b"/><path d="M114.8 1218.3h0" stroke="#5cb6aa"/><path d="M337.6 1218.3h0M154.2 1238h0M350.7 1238h0M350.7 1244.5h0M363.8 1244.5h0M370.3 1270.8h0" stroke="#82cda5"/><path d="M114.8 1224.9h0M180.3 1257.6h0M206.5 1323.1h0" stroke="#3c94b8"/><path d="M363.8 1224.9h0M108.3 1251.1h0M226.2 1257.6h0M245.8 1257.6h0M252.4 1257.6h0M232.8 1264.2h0M265.5 1270.8h0M232.8 1277.3h0M252.4 1277.3h0M265.5 1277.3h0M272.1 1277.3h0M258.9 1283.8h0M370.3 1283.8h0M258.9 1290.4h0M363.8 1290.4h0M285.1 1296.9h0M298.2 1296.9h0M363.8 1296.9h0M278.6 1303.5h0M285.1 1303.5h0M291.7 1303.5h0M357.2 1303.5h0M278.6 1310h0M285.1 1310h0M304.8 1310h0M350.7 1310h0M363.8 1310h0M370.3 1310h0M357.2 1316.6h0M357.2 1323.1h0M350.7 1329.7h0M357.2 1329.7h0M363.8 1336.2h0M357.2 1342.8h0M350.7 1349.3h0M357.2 1349.3h0M350.7 1362.4h0M245.8 1369h0M357.2 1369h0M252.4 1375.5h0M258.9 1375.5h0M252.4 1382.1h0M272.1 1382.1h0M304.8 1382.1h0M357.2 1382.1h0M252.4 1388.6h0M278.6 1388.6h0M291.7 1388.6h0M278.6 1395.2h0M311.4 1395.2h0M370.3 1395.2h0M265.5 1401.8h0M272.1 1401.8h0M278.6 1401.8h0M298.2 1401.8h0M317.9 1401.8h0M363.8 1401.8h0M252.4 1408.3h0M291.7 1408.3h0M311.4 1408.3h0M317.9 1408.3h0M324.4 1408.3h0M357.2 1408.3h0M245.8 1414.8h0M291.7 1414.8h0M298.2 1414.8h0M311.4 1414.8h0M370.3 1414.8h0M239.3 1421.4h0M311.4 1421.4h0M252.4 1427.9h0M304.8 1427.9h0M311.4 1427.9h0M324.4 1427.9h0M331 1427.9h0M252.4 1434.5h0M311.4 1434.5h0M337.6 1434.5h0M258.9 1441h0M311.4 1441h0M317.9 1441h0M245.8 1447.6h0M239.3 1460.7h0M258.9 1460.7h0M324.4 1460.7h0M337.6 1467.2h0M232.8 1473.8h0M239.3 1473.8h0M258.9 1480.3h0M252.4 1486.9h0M258.9 1486.9h0M239.3 1493.4h0M252.4 1493.4h0M245.8 1506.5h0" stroke="#d53e4f"/><path d="M141.1 1231.4h0" stroke="#daf09a"/><path d="M265.5 1231.4h0M317.9 1244.5h0" stroke="#fecc7a"/><path d="M350.7 1231.4h0M213.1 1329.7h0" stroke="#74c7a5"/><path d="M357.2 1231.4h0M370.3 1264.2h0M49.4 1303.5h0M219.6 1375.5h0M167.2 1454.1h0" stroke="#b7e2a2"/><path d="M134.5 1238h0M127.9 1244.5h0M147.6 1251.1h0M75.5 1277.3h0M82.1 1283.8h0M75.5 1296.9h0M82.1 1296.9h0M55.9 1303.5h0M69 1316.6h0M82.1 1316.6h0" stroke="#fdae61"/><path d="M147.6 1238h0M304.8 1244.5h0M134.5 1283.8h0M232.8 1283.8h0M127.9 1290.4h0M167.2 1290.4h0M173.8 1316.6h0M200 1316.6h0M88.7 1329.7h0M75.5 1342.8h0M82.1 1349.3h0M95.2 1349.3h0M101.8 1362.4h0M134.5 1375.5h0M69 1434.5h0M141.1 1434.5h0M147.6 1480.3h0" stroke="#fee08b"/><path d="M370.3 1244.5h0" stroke="#555aa7"/><path d="M108.3 1257.6h0M252.4 1264.2h0M232.8 1270.8h0M252.4 1270.8h0M258.9 1277.3h0M370.3 1296.9h0M272.1 1303.5h0M363.8 1303.5h0M370.3 1316.6h0M363.8 1323.1h0M370.3 1323.1h0M350.7 1355.9h0M363.8 1382.1h0M258.9 1388.6h0M272.1 1388.6h0M363.8 1388.6h0M258.9 1395.2h0M265.5 1395.2h0M272.1 1395.2h0M285.1 1395.2h0M298.2 1395.2h0M285.1 1401.8h0M285.1 1408.3h0M298.2 1408.3h0M252.4 1414.8h0M324.4 1414.8h0M245.8 1421.4h0M324.4 1421.4h0M317.9 1427.9h0M258.9 1434.5h0M331 1434.5h0M239.3 1441h0M245.8 1441h0M252.4 1441h0M331 1441h0M252.4 1447.6h0M324.4 1447.6h0M239.3 1454.1h0M245.8 1454.1h0M252.4 1454.1h0M331 1454.1h0M337.6 1454.1h0M245.8 1460.7h0M252.4 1473.8h0M245.8 1480.3h0M252.4 1480.3h0M245.8 1486.9h0M245.8 1493.4h0M258.9 1493.4h0M245.8 1500h0M252.4 1500h0" stroke="#cc354d"/><path d="M55.9 1264.2h0M317.9 1264.2h0M324.4 1264.2h0M350.7 1277.3h0M134.5 1349.3h0M147.6 1388.6h0M108.3 1408.3h0" stroke="#fdc272"/><path d="M239.3 1277.3h0M265.5 1283.8h0M291.7 1296.9h0M363.8 1316.6h0M363.8 1329.7h0M370.3 1336.2h0M363.8 1342.8h0M357.2 1355.9h0M370.3 1355.9h0M357.2 1362.4h0M370.3 1369h0M370.3 1375.5h0M370.3 1388.6h0M291.7 1395.2h0M363.8 1395.2h0M245.8 1408.3h0M252.4 1421.4h0M245.8 1427.9h0M239.3 1434.5h0M324.4 1441h0M239.3 1447.6h0M258.9 1447.6h0M252.4 1467.2h0M245.8 1473.8h0" stroke="#c32c4b"/><path d="M245.8 1277.3h0M370.3 1329.7h0M370.3 1342.8h0M363.8 1349.3h0M370.3 1349.3h0M363.8 1355.9h0M363.8 1362.4h0M370.3 1362.4h0M363.8 1369h0M363.8 1375.5h0M370.3 1382.1h0M317.9 1421.4h0M245.8 1434.5h0M317.9 1434.5h0M324.4 1434.5h0M252.4 1460.7h0M298.2 1486.9h0" stroke="#ba244a"/><path d="M363.8 1277.3h0M213.1 1303.5h0M213.1 1310h0M219.6 1310h0M213.1 1336.2h0M95.2 1342.8h0M134.5 1434.5h0" stroke="#ceeb9d"/><path d="M141.1 1283.8h0M154.2 1447.6h0M350.7 1454.1h0" stroke="#fbe28b"/><path d="M180.3 1316.6h0M180.3 1323.1h0M173.8 1447.6h0" stroke="#fed683"/><path d="M219.6 1369h0" stroke="#3b7db8"/><path d="M141.1 1441h0" stroke="#abdda4"/></g>
<g fill="none" stroke-width="6.25" stroke-linecap="round"><path d="M516.1 1185.3h0M548.9 1185.3h0M627.5 1185.3h0M666.8 1198.4h0M634 1205h0M791.2 1205h0M607.8 1211.5h0M640.5 1211.5h0M686.4 1211.5h0M673.3 1218h0M607.8 1224.6h0M647.1 1224.6h0M679.9 1224.6h0M634 1237.7h0M640.5 1237.7h0M483.4 1244.2h0M489.9 1244.2h0M503 1244.2h0M620.9 1244.2h0M758.5 1250.8h0M509.6 1257.3h0M516.1 1257.3h0M660.2 1257.3h0M765 1257.3h0M660.2 1263.9h0M666.8 1263.9h0M758.5 1263.9h0M666.8 1270.5h0M673.3 1270.5h0M693 1270.5h0M653.6 1277h0M660.2 1277h0M666.8 1277h0M693 1277h0M483.4 1283.5h0M758.5 1283.5h0M804.3 1283.5h0M751.9 1290.1h0M699.5 1296.6h0M758.5 1322.8h0M791.2 1329.4h0M758.5 1336h0M778.1 1342.5h0M738.8 1362.1h0M784.7 1368.7h0" stroke="#fdb869"/><path d="M522.6 1185.3h0M529.2 1185.3h0M653.6 1185.3h0M660.2 1185.3h0M791.2 1185.3h0M483.4 1191.8h0M686.4 1191.8h0M791.2 1191.8h0M496.5 1218h0M575.1 1218h0M791.2 1218h0M686.4 1224.6h0M765 1224.6h0M784.7 1224.6h0M797.8 1224.6h0M575.1 1231.1h0M483.4 1237.7h0M640.5 1244.2h0M653.6 1244.2h0M660.2 1244.2h0M679.9 1244.2h0M797.8 1244.2h0M804.3 1244.2h0M673.3 1250.8h0M751.9 1250.8h0M791.2 1250.8h0M751.9 1257.3h0M791.2 1257.3h0M751.9 1263.9h0M765 1263.9h0M778.1 1263.9h0M647.1 1270.5h0M765 1270.5h0M771.5 1270.5h0M778.1 1277h0M745.4 1283.5h0M791.2 1283.5h0M758.5 1290.1h0M765 1290.1h0M797.8 1290.1h0M784.7 1296.6h0M758.5 1303.2h0M765 1303.2h0M693 1322.8h0M719.1 1329.4h0M706 1336h0M771.5 1336h0M706 1349h0M804.3 1349h0M765 1375.2h0M699.5 1381.8h0M712.6 1381.8h0M719.1 1388.3h0M719.1 1394.9h0M725.7 1394.9h0M765 1401.5h0M634 1473.5h0M784.7 1473.5h0M634 1480h0M640.5 1506.2h0M706 1506.2h0M719.1 1506.2h0" stroke="#f0ec8c"/><path d="M535.8 1185.3h0M666.8 1185.3h0M804.3 1185.3h0M797.8 1191.8h0M797.8 1198.4h0M804.3 1211.5h0M516.1 1480h0" stroke="#82cda5"/><path d="M542.3 1185.3h0M483.4 1211.5h0M496.5 1211.5h0M568.5 1224.6h0M614.4 1224.6h0M489.9 1237.7h0M496.5 1237.7h0M647.1 1237.7h0M627.5 1244.2h0M627.5 1250.8h0M679.9 1250.8h0M771.5 1250.8h0M771.5 1257.3h0M778.1 1270.5h0M784.7 1303.2h0M804.3 1303.2h0M529.2 1473.5h0M535.8 1473.5h0" stroke="#fbe28b"/><path d="M555.4 1185.3h0M562 1185.3h0M529.2 1198.4h0M548.9 1198.4h0M509.6 1205h0M509.6 1211.5h0M542.3 1211.5h0M503 1218h0M568.5 1218h0M594.7 1218h0M581.6 1224.6h0M503 1231.1h0M594.7 1231.1h0M503 1237.7h0M516.1 1244.2h0M555.4 1244.2h0M594.7 1244.2h0M535.8 1250.8h0M548.9 1250.8h0M555.4 1250.8h0M562 1250.8h0M489.9 1257.3h0M542.3 1257.3h0M594.7 1257.3h0M489.9 1263.9h0M496.5 1263.9h0M562 1263.9h0M594.7 1263.9h0M496.5 1270.5h0M503 1270.5h0M542.3 1270.5h0M483.4 1277h0M489.9 1277h0M496.5 1277h0M588.1 1277h0M581.6 1283.5h0M581.6 1290.1h0M601.2 1290.1h0M607.8 1290.1h0M581.6 1296.6h0M588.1 1296.6h0M594.7 1296.6h0M686.4 1296.6h0M745.4 1296.6h0M594.7 1303.2h0M607.8 1303.2h0M614.4 1303.2h0M640.5 1303.2h0M647.1 1303.2h0M653.6 1303.2h0M660.2 1303.2h0M686.4 1303.2h0M483.4 1309.8h0M516.1 1309.8h0M601.2 1309.8h0M607.8 1309.8h0M614.4 1309.8h0M640.5 1309.8h0M693 1309.8h0M732.2 1309.8h0M751.9 1309.8h0M509.6 1316.3h0M614.4 1316.3h0M627.5 1316.3h0M732.2 1316.3h0M607.8 1322.8h0M627.5 1322.8h0M640.5 1322.8h0M666.8 1322.8h0M679.9 1322.8h0M686.4 1322.8h0M620.9 1329.4h0M627.5 1329.4h0M660.2 1329.4h0M666.8 1329.4h0M679.9 1329.4h0M699.5 1329.4h0M732.2 1329.4h0M509.6 1336h0M620.9 1336h0M627.5 1336h0M647.1 1336h0M653.6 1336h0M693 1336h0M725.7 1336h0M751.9 1336h0M503 1342.5h0M614.4 1342.5h0M634 1342.5h0M640.5 1342.5h0M660.2 1342.5h0M693 1342.5h0M699.5 1342.5h0M489.9 1349h0M601.2 1349h0M640.5 1349h0M725.7 1349h0M496.5 1355.6h0M529.2 1355.6h0M647.1 1355.6h0M653.6 1355.6h0M660.2 1355.6h0M673.3 1355.6h0M725.7 1355.6h0M503 1362.1h0M614.4 1362.1h0M666.8 1362.1h0M673.3 1362.1h0M679.9 1362.1h0M489.9 1368.7h0M516.1 1368.7h0M620.9 1368.7h0M666.8 1368.7h0M706 1368.7h0M791.2 1368.7h0M483.4 1375.2h0M496.5 1375.2h0M804.3 1375.2h0M509.6 1381.8h0M732.2 1381.8h0M797.8 1381.8h0M483.4 1388.3h0M522.6 1388.3h0M529.2 1388.3h0M679.9 1388.3h0M483.4 1394.9h0M503 1394.9h0M516.1 1394.9h0M535.8 1394.9h0M542.3 1394.9h0M699.5 1394.9h0M706 1394.9h0M797.8 1394.9h0M529.2 1401.5h0M535.8 1401.5h0M542.3 1401.5h0M784.7 1401.5h0M706 1408h0M751.9 1408h0M804.3 1408h0M732.2 1414.5h0M738.8 1414.5h0M751.9 1414.5h0M738.8 1421.1h0M797.8 1421.1h0M516.1 1434.2h0M725.7 1434.2h0M745.4 1440.8h0M483.4 1447.3h0M503 1453.8h0M516.1 1460.4h0M548.9 1473.5h0M594.7 1480h0M548.9 1486.6h0M562 1493.1h0M568.5 1493.1h0M607.8 1499.7h0M627.5 1499.7h0M732.2 1506.2h0" stroke="#f67a49"/><path d="M568.5 1185.3h0M601.2 1185.3h0M535.8 1191.8h0M588.1 1191.8h0M575.1 1205h0M588.1 1205h0M581.6 1211.5h0M581.6 1218h0M601.2 1237.7h0M588.1 1244.2h0M588.1 1250.8h0M483.4 1257.3h0M503 1257.3h0M535.8 1257.3h0M588.1 1257.3h0M601.2 1257.3h0M483.4 1263.9h0M503 1263.9h0M509.6 1263.9h0M548.9 1263.9h0M548.9 1270.5h0M634 1270.5h0M745.4 1270.5h0M620.9 1283.5h0M614.4 1290.1h0M620.9 1290.1h0M627.5 1290.1h0M614.4 1296.6h0M627.5 1303.2h0M693 1303.2h0M627.5 1309.8h0M634 1309.8h0M647.1 1309.8h0M653.6 1309.8h0M666.8 1309.8h0M620.9 1316.3h0M634 1316.3h0M640.5 1316.3h0M647.1 1316.3h0M679.9 1316.3h0M693 1316.3h0M634 1322.8h0M673.3 1322.8h0M738.8 1322.8h0M686.4 1329.4h0M693 1329.4h0M725.7 1329.4h0M751.9 1329.4h0M666.8 1336h0M673.3 1336h0M679.9 1336h0M686.4 1336h0M699.5 1336h0M732.2 1336h0M653.6 1342.5h0M679.9 1342.5h0M725.7 1342.5h0M509.6 1349h0M653.6 1349h0M673.3 1349h0M679.9 1349h0M686.4 1349h0M693 1349h0M699.5 1349h0M719.1 1349h0M758.5 1349h0M575.1 1355.6h0M666.8 1355.6h0M699.5 1355.6h0M620.9 1362.1h0M686.4 1362.1h0M693 1362.1h0M712.6 1362.1h0M804.3 1362.1h0M483.4 1368.7h0M634 1368.7h0M679.9 1368.7h0M686.4 1368.7h0M719.1 1375.2h0M778.1 1375.2h0M489.9 1381.8h0M725.7 1381.8h0M784.7 1381.8h0M791.2 1381.8h0M804.3 1381.8h0M496.5 1388.3h0M503 1388.3h0M686.4 1388.3h0M706 1388.3h0M732.2 1388.3h0M751.9 1388.3h0M778.1 1388.3h0M797.8 1388.3h0M489.9 1394.9h0M758.5 1394.9h0M522.6 1401.5h0M745.4 1401.5h0M712.6 1408h0M725.7 1408h0M745.4 1408h0M758.5 1408h0M725.7 1414.5h0M765 1414.5h0M489.9 1447.3h0M496.5 1453.8h0M509.6 1460.4h0M542.3 1486.6h0" stroke="#f8874f"/><path d="M575.1 1185.3h0M581.6 1185.3h0M588.1 1185.3h0M594.7 1185.3h0M620.9 1185.3h0M555.4 1191.8h0M562 1191.8h0M568.5 1191.8h0M581.6 1191.8h0M601.2 1191.8h0M516.1 1198.4h0M522.6 1198.4h0M568.5 1198.4h0M594.7 1205h0M575.1 1211.5h0M588.1 1211.5h0M594.7 1211.5h0M614.4 1211.5h0M607.8 1218h0M588.1 1224.6h0M594.7 1224.6h0M601.2 1224.6h0M601.2 1231.1h0M607.8 1231.1h0M607.8 1237.7h0M601.2 1244.2h0M607.8 1244.2h0M483.4 1250.8h0M489.9 1250.8h0M496.5 1250.8h0M503 1250.8h0M542.3 1250.8h0M594.7 1250.8h0M601.2 1250.8h0M607.8 1250.8h0M555.4 1257.3h0M614.4 1257.3h0M601.2 1263.9h0M607.8 1263.9h0M588.1 1270.5h0M594.7 1270.5h0M620.9 1270.5h0M581.6 1277h0M594.7 1277h0M607.8 1277h0M620.9 1277h0M562 1283.5h0M594.7 1283.5h0M601.2 1283.5h0M607.8 1283.5h0M640.5 1283.5h0M679.9 1283.5h0M634 1290.1h0M660.2 1290.1h0M679.9 1290.1h0M699.5 1290.1h0M634 1296.6h0M666.8 1296.6h0M693 1296.6h0M738.8 1296.6h0M804.3 1296.6h0M634 1303.2h0M666.8 1303.2h0M673.3 1303.2h0M679.9 1303.2h0M620.9 1309.8h0M673.3 1309.8h0M679.9 1309.8h0M686.4 1309.8h0M699.5 1309.8h0M738.8 1309.8h0M653.6 1316.3h0M660.2 1316.3h0M666.8 1316.3h0M673.3 1316.3h0M686.4 1316.3h0M745.4 1316.3h0M647.1 1322.8h0M660.2 1322.8h0M725.7 1322.8h0M732.2 1322.8h0M765 1322.8h0M673.3 1329.4h0M738.8 1329.4h0M640.5 1336h0M738.8 1336h0M620.9 1342.5h0M686.4 1342.5h0M719.1 1342.5h0M751.9 1342.5h0M758.5 1342.5h0M483.4 1349h0M647.1 1349h0M660.2 1349h0M738.8 1349h0M751.9 1349h0M706 1355.6h0M706 1362.1h0M719.1 1362.1h0M725.7 1362.1h0M719.1 1368.7h0M725.7 1368.7h0M732.2 1368.7h0M797.8 1368.7h0M732.2 1375.2h0M784.7 1375.2h0M791.2 1375.2h0M503 1381.8h0M719.1 1381.8h0M745.4 1381.8h0M758.5 1381.8h0M771.5 1381.8h0M489.9 1388.3h0M725.7 1388.3h0M771.5 1388.3h0M784.7 1388.3h0M791.2 1388.3h0M751.9 1394.9h0M778.1 1394.9h0M712.6 1401.5h0M732.2 1401.5h0M738.8 1401.5h0M751.9 1401.5h0M778.1 1401.5h0M732.2 1408h0M738.8 1408h0M765 1408h0M771.5 1408h0" stroke="#f99455"/><path d="M607.8 1185.3h0M614.4 1185.3h0M548.9 1191.8h0M575.1 1191.8h0M614.4 1191.8h0M555.4 1198.4h0M562 1198.4h0M575.1 1198.4h0M581.6 1198.4h0M588.1 1198.4h0M594.7 1198.4h0M614.4 1198.4h0M640.5 1198.4h0M607.8 1205h0M601.2 1211.5h0M588.1 1218h0M620.9 1224.6h0M614.4 1237.7h0M614.4 1250.8h0M620.9 1250.8h0M496.5 1257.3h0M620.9 1257.3h0M614.4 1263.9h0M653.6 1263.9h0M686.4 1263.9h0M693 1263.9h0M601.2 1270.5h0M607.8 1270.5h0M627.5 1270.5h0M653.6 1270.5h0M660.2 1270.5h0M601.2 1277h0M634 1277h0M751.9 1277h0M614.4 1283.5h0M627.5 1283.5h0M634 1283.5h0M647.1 1290.1h0M653.6 1290.1h0M673.3 1290.1h0M686.4 1290.1h0M693 1290.1h0M627.5 1296.6h0M640.5 1296.6h0M647.1 1296.6h0M653.6 1296.6h0M660.2 1296.6h0M679.9 1296.6h0M751.9 1296.6h0M699.5 1303.2h0M732.2 1303.2h0M738.8 1303.2h0M791.2 1303.2h0M660.2 1309.8h0M745.4 1309.8h0M738.8 1316.3h0M653.6 1322.8h0M745.4 1322.8h0M771.5 1322.8h0M745.4 1329.4h0M758.5 1329.4h0M765 1329.4h0M771.5 1329.4h0M745.4 1336h0M778.1 1336h0M732.2 1342.5h0M738.8 1342.5h0M745.4 1342.5h0M784.7 1342.5h0M732.2 1349h0M745.4 1349h0M797.8 1349h0M712.6 1355.6h0M732.2 1355.6h0M738.8 1355.6h0M751.9 1355.6h0M699.5 1362.1h0M732.2 1362.1h0M738.8 1368.7h0M738.8 1375.2h0M797.8 1375.2h0M738.8 1381.8h0M751.9 1381.8h0M765 1381.8h0M738.8 1388.3h0M745.4 1388.3h0M758.5 1388.3h0M804.3 1388.3h0M496.5 1394.9h0M738.8 1394.9h0M745.4 1394.9h0M765 1394.9h0M771.5 1394.9h0M784.7 1394.9h0M791.2 1394.9h0" stroke="#fba15b"/><path d="M634 1185.3h0M647.1 1185.3h0M594.7 1191.8h0M607.8 1191.8h0M620.9 1191.8h0M627.5 1191.8h0M679.9 1191.8h0M620.9 1198.4h0M647.1 1198.4h0M620.9 1205h0M620.9 1218h0M634 1218h0M778.1 1218h0M614.4 1231.1h0M627.5 1231.1h0M765 1231.1h0M771.5 1231.1h0M804.3 1231.1h0M614.4 1244.2h0M647.1 1244.2h0M607.8 1257.3h0M666.8 1257.3h0M679.9 1257.3h0M758.5 1257.3h0M620.9 1263.9h0M627.5 1263.9h0M640.5 1270.5h0M686.4 1270.5h0M751.9 1270.5h0M614.4 1277h0M627.5 1277h0M640.5 1277h0M673.3 1277h0M647.1 1283.5h0M653.6 1283.5h0M660.2 1283.5h0M686.4 1283.5h0M693 1283.5h0M699.5 1283.5h0M751.9 1283.5h0M765 1283.5h0M640.5 1290.1h0M666.8 1290.1h0M745.4 1290.1h0M673.3 1296.6h0M797.8 1329.4h0M791.2 1342.5h0M719.1 1355.6h0M758.5 1355.6h0M751.9 1362.1h0M758.5 1362.1h0M791.2 1362.1h0M712.6 1368.7h0M804.3 1368.7h0M778.1 1381.8h0M765 1388.3h0" stroke="#fdae61"/><path d="M640.5 1185.3h0M640.5 1191.8h0M673.3 1191.8h0M679.9 1198.4h0M627.5 1211.5h0M647.1 1218h0M679.9 1218h0M640.5 1224.6h0M660.2 1224.6h0M666.8 1224.6h0M483.4 1231.1h0M489.9 1231.1h0M620.9 1231.1h0M653.6 1231.1h0M660.2 1231.1h0M673.3 1231.1h0M679.9 1231.1h0M771.5 1237.7h0M804.3 1237.7h0M686.4 1244.2h0M771.5 1244.2h0M778.1 1244.2h0M784.7 1244.2h0M784.7 1250.8h0M804.3 1250.8h0M653.6 1257.3h0M686.4 1257.3h0M797.8 1257.3h0M784.7 1270.5h0M791.2 1270.5h0M797.8 1270.5h0M765 1277h0M771.5 1283.5h0M778.1 1283.5h0M784.7 1283.5h0" stroke="#fecc7a"/><path d="M673.3 1185.3h0M634 1191.8h0M653.6 1198.4h0M660.2 1198.4h0M673.3 1198.4h0M686.4 1198.4h0M627.5 1205h0M640.5 1205h0M620.9 1211.5h0M634 1211.5h0M489.9 1218h0M614.4 1218h0M627.5 1218h0M640.5 1218h0M660.2 1218h0M666.8 1218h0M686.4 1218h0M627.5 1224.6h0M634 1224.6h0M778.1 1231.1h0M784.7 1231.1h0M791.2 1231.1h0M679.9 1237.7h0M758.5 1237.7h0M784.7 1237.7h0M791.2 1237.7h0M673.3 1244.2h0M758.5 1244.2h0M765 1244.2h0M666.8 1250.8h0M765 1250.8h0M778.1 1250.8h0M797.8 1250.8h0M673.3 1257.3h0M640.5 1263.9h0M679.9 1263.9h0M797.8 1263.9h0M679.9 1270.5h0M686.4 1277h0M771.5 1277h0M784.7 1277h0M804.3 1277h0M745.4 1303.2h0M751.9 1303.2h0M797.8 1303.2h0M784.7 1336h0" stroke="#fdc272"/><path d="M679.9 1185.3h0M647.1 1191.8h0M666.8 1191.8h0M601.2 1198.4h0M627.5 1198.4h0M791.2 1198.4h0M660.2 1205h0M503 1211.5h0M673.3 1211.5h0M555.4 1218h0M640.5 1231.1h0M627.5 1237.7h0M660.2 1250.8h0M673.3 1263.9h0M804.3 1270.5h0M647.1 1277h0M797.8 1277h0M797.8 1283.5h0M699.5 1316.3h0M719.1 1336h0M791.2 1336h0M706 1342.5h0M771.5 1355.6h0M804.3 1355.6h0M771.5 1362.1h0M522.6 1375.2h0M516.1 1381.8h0M542.3 1381.8h0M509.6 1388.3h0M699.5 1388.3h0M699.5 1447.3h0M634 1466.9h0M797.8 1466.9h0M771.5 1480h0M529.2 1486.6h0M627.5 1493.1h0M647.1 1493.1h0M699.5 1506.2h0" stroke="#fee08b"/><path d="M797.8 1185.3h0M797.8 1218h0M575.1 1224.6h0M634 1250.8h0M738.8 1290.1h0M778.1 1296.6h0M771.5 1303.2h0M699.5 1322.8h0" stroke="#ceeb9d"/><path d="M653.6 1191.8h0M660.2 1191.8h0M653.6 1205h0M653.6 1211.5h0M660.2 1211.5h0M791.2 1211.5h0M765 1336h0" stroke="#eeee8e"/><path d="M804.3 1191.8h0M706 1381.8h0" stroke="#3288bd"/><path d="M496.5 1198.4h0M607.8 1198.4h0M634 1198.4h0M647.1 1211.5h0M483.4 1218h0M653.6 1224.6h0M778.1 1224.6h0M634 1231.1h0M634 1244.2h0" stroke="#f8e58b"/><path d="M509.6 1198.4h0M548.9 1218h0M503 1224.6h0M509.6 1224.6h0M509.6 1237.7h0M588.1 1237.7h0M594.7 1237.7h0M535.8 1244.2h0M555.4 1263.9h0M568.5 1263.9h0M509.6 1270.5h0M522.6 1270.5h0M529.2 1270.5h0M535.8 1270.5h0M503 1277h0M509.6 1277h0M516.1 1277h0M522.6 1277h0M542.3 1277h0M548.9 1277h0M568.5 1277h0M496.5 1283.5h0M503 1283.5h0M522.6 1283.5h0M542.3 1283.5h0M548.9 1283.5h0M555.4 1283.5h0M575.1 1283.5h0M503 1290.1h0M509.6 1290.1h0M496.5 1296.6h0M562 1296.6h0M496.5 1303.2h0M503 1303.2h0M509.6 1303.2h0M489.9 1309.8h0M496.5 1309.8h0M503 1309.8h0M581.6 1309.8h0M601.2 1316.3h0M607.8 1316.3h0M509.6 1322.8h0M516.1 1322.8h0M522.6 1322.8h0M594.7 1322.8h0M601.2 1322.8h0M620.9 1322.8h0M503 1329.4h0M509.6 1329.4h0M601.2 1329.4h0M607.8 1329.4h0M496.5 1336h0M503 1336h0M529.2 1336h0M535.8 1336h0M542.3 1336h0M555.4 1336h0M594.7 1336h0M607.8 1336h0M509.6 1342.5h0M535.8 1342.5h0M666.8 1342.5h0M673.3 1342.5h0M496.5 1349h0M503 1349h0M516.1 1349h0M522.6 1349h0M555.4 1349h0M575.1 1349h0M627.5 1349h0M489.9 1355.6h0M503 1355.6h0M516.1 1355.6h0M522.6 1355.6h0M535.8 1355.6h0M542.3 1355.6h0M588.1 1355.6h0M601.2 1355.6h0M627.5 1355.6h0M634 1355.6h0M522.6 1362.1h0M568.5 1362.1h0M575.1 1362.1h0M581.6 1362.1h0M588.1 1362.1h0M601.2 1362.1h0M607.8 1362.1h0M634 1362.1h0M660.2 1362.1h0M535.8 1368.7h0M607.8 1368.7h0M614.4 1375.2h0M627.5 1375.2h0M660.2 1375.2h0M483.4 1381.8h0M535.8 1381.8h0M620.9 1381.8h0M660.2 1381.8h0M679.9 1381.8h0M673.3 1388.3h0M693 1394.9h0M548.9 1408h0M555.4 1408h0M601.2 1408h0M699.5 1408h0M607.8 1414.5h0M614.4 1414.5h0M620.9 1414.5h0M751.9 1421.1h0M804.3 1421.1h0M699.5 1427.6h0M765 1427.6h0M778.1 1427.6h0M804.3 1427.6h0M483.4 1434.2h0M804.3 1434.2h0M522.6 1440.8h0M738.8 1440.8h0M751.9 1440.8h0M509.6 1447.3h0M516.1 1447.3h0M522.6 1447.3h0M745.4 1447.3h0M516.1 1453.8h0M738.8 1453.8h0M542.3 1460.4h0M791.2 1460.4h0M542.3 1466.9h0M542.3 1473.5h0M601.2 1473.5h0M797.8 1473.5h0M542.3 1480h0M575.1 1480h0M784.7 1480h0M568.5 1486.6h0M588.1 1486.6h0M614.4 1486.6h0M634 1486.6h0M575.1 1493.1h0M588.1 1493.1h0M601.2 1493.1h0M634 1493.1h0M765 1493.1h0M594.7 1499.7h0M634 1499.7h0M686.4 1499.7h0M732.2 1499.7h0M647.1 1506.2h0M660.2 1506.2h0M666.8 1506.2h0M712.6 1506.2h0" stroke="#ee6445"/><path d="M804.3 1198.4h0M804.3 1205h0M745.4 1277h0" stroke="#9dd8a4"/><path d="M647.1 1205h0M666.8 1231.1h0M804.3 1263.9h0M673.3 1283.5h0" stroke="#f6e78c"/><path d="M797.8 1205h0M797.8 1211.5h0M784.7 1218h0M778.1 1303.2h0" stroke="#abdda4"/><path d="M489.9 1211.5h0M666.8 1211.5h0M673.3 1224.6h0M647.1 1231.1h0M660.2 1237.7h0M666.8 1237.7h0M673.3 1237.7h0M778.1 1237.7h0M797.8 1237.7h0M666.8 1244.2h0M686.4 1250.8h0M778.1 1257.3h0M634 1263.9h0M758.5 1277h0M614.4 1506.2h0M620.9 1506.2h0M627.5 1506.2h0M634 1506.2h0" stroke="#fed683"/><path d="M522.6 1211.5h0M529.2 1211.5h0M535.8 1211.5h0M548.9 1211.5h0M562 1218h0M581.6 1231.1h0M588.1 1231.1h0M581.6 1237.7h0M529.2 1244.2h0M529.2 1250.8h0M529.2 1257.3h0M548.9 1257.3h0M562 1257.3h0M529.2 1263.9h0M535.8 1263.9h0M542.3 1263.9h0M588.1 1263.9h0M483.4 1270.5h0M489.9 1270.5h0M516.1 1270.5h0M555.4 1270.5h0M562 1270.5h0M555.4 1277h0M562 1277h0M509.6 1283.5h0M568.5 1283.5h0M588.1 1283.5h0M483.4 1290.1h0M483.4 1296.6h0M503 1296.6h0M509.6 1296.6h0M575.1 1296.6h0M601.2 1296.6h0M607.8 1296.6h0M483.4 1303.2h0M489.9 1303.2h0M581.6 1303.2h0M588.1 1303.2h0M601.2 1303.2h0M620.9 1303.2h0M483.4 1316.3h0M503 1316.3h0M503 1322.8h0M588.1 1322.8h0M614.4 1322.8h0M496.5 1329.4h0M516.1 1329.4h0M529.2 1329.4h0M614.4 1329.4h0M634 1329.4h0M640.5 1329.4h0M647.1 1329.4h0M653.6 1329.4h0M516.1 1336h0M588.1 1336h0M614.4 1336h0M634 1336h0M660.2 1336h0M489.9 1342.5h0M496.5 1342.5h0M516.1 1342.5h0M522.6 1342.5h0M529.2 1342.5h0M555.4 1342.5h0M588.1 1342.5h0M607.8 1342.5h0M627.5 1342.5h0M647.1 1342.5h0M620.9 1349h0M634 1349h0M666.8 1349h0M483.4 1355.6h0M509.6 1355.6h0M555.4 1355.6h0M581.6 1355.6h0M594.7 1355.6h0M640.5 1355.6h0M483.4 1362.1h0M489.9 1362.1h0M496.5 1362.1h0M509.6 1362.1h0M516.1 1362.1h0M535.8 1362.1h0M542.3 1362.1h0M594.7 1362.1h0M640.5 1362.1h0M594.7 1368.7h0M640.5 1368.7h0M660.2 1368.7h0M693 1368.7h0M699.5 1368.7h0M503 1375.2h0M666.8 1375.2h0M712.6 1375.2h0M496.5 1381.8h0M666.8 1381.8h0M686.4 1381.8h0M516.1 1388.3h0M693 1388.3h0M509.6 1394.9h0M522.6 1394.9h0M529.2 1394.9h0M509.6 1401.5h0M548.9 1401.5h0M686.4 1401.5h0M535.8 1408h0M542.3 1408h0M745.4 1414.5h0M804.3 1414.5h0M732.2 1421.1h0M745.4 1421.1h0M784.7 1421.1h0M751.9 1434.2h0M483.4 1440.8h0M509.6 1440.8h0M516.1 1440.8h0M496.5 1447.3h0M503 1447.3h0M719.1 1447.3h0M732.2 1447.3h0M509.6 1453.8h0M535.8 1466.9h0M791.2 1466.9h0M804.3 1466.9h0M607.8 1473.5h0M529.2 1480h0M535.8 1480h0M588.1 1480h0M620.9 1480h0M535.8 1486.6h0M562 1486.6h0M575.1 1486.6h0M581.6 1493.1h0M594.7 1493.1h0M614.4 1493.1h0M732.2 1493.1h0M614.4 1499.7h0M620.9 1499.7h0M640.5 1499.7h0" stroke="#f46d43"/><path d="M679.9 1211.5h0M653.6 1218h0M771.5 1224.6h0M791.2 1224.6h0M797.8 1231.1h0M653.6 1237.7h0M765 1237.7h0M791.2 1244.2h0M693 1257.3h0M804.3 1257.3h0M771.5 1263.9h0M791.2 1277h0" stroke="#f3ea8c"/><path d="M784.7 1211.5h0M804.3 1218h0M804.3 1224.6h0M804.3 1336h0" stroke="#74c7a5"/><path d="M509.6 1218h0M522.6 1218h0M529.2 1218h0M548.9 1224.6h0M555.4 1224.6h0M562 1224.6h0M562 1231.1h0M568.5 1231.1h0M555.4 1237.7h0M562 1237.7h0M568.5 1237.7h0M548.9 1244.2h0M568.5 1244.2h0M568.5 1250.8h0M581.6 1250.8h0M568.5 1257.3h0M516.1 1263.9h0M575.1 1263.9h0M581.6 1263.9h0M516.1 1290.1h0M522.6 1290.1h0M516.1 1296.6h0M555.4 1303.2h0M562 1303.2h0M522.6 1309.8h0M568.5 1309.8h0M516.1 1316.3h0M522.6 1316.3h0M529.2 1316.3h0M535.8 1316.3h0M555.4 1329.4h0M562 1329.4h0M575.1 1329.4h0M548.9 1336h0M568.5 1336h0M601.2 1342.5h0M522.6 1368.7h0M529.2 1368.7h0M568.5 1368.7h0M575.1 1368.7h0M588.1 1375.2h0M627.5 1381.8h0M634 1381.8h0M535.8 1388.3h0M555.4 1388.3h0M568.5 1388.3h0M627.5 1388.3h0M548.9 1394.9h0M562 1394.9h0M640.5 1394.9h0M555.4 1401.5h0M562 1401.5h0M647.1 1401.5h0M614.4 1408h0M640.5 1408h0M647.1 1408h0M627.5 1414.5h0M634 1414.5h0M791.2 1421.1h0M797.8 1427.6h0M529.2 1434.2h0M771.5 1434.2h0M535.8 1440.8h0M634 1440.8h0M765 1440.8h0M791.2 1440.8h0M712.6 1447.3h0M522.6 1453.8h0M627.5 1453.8h0M634 1453.8h0M712.6 1453.8h0M732.2 1453.8h0M725.7 1460.4h0M732.2 1460.4h0M738.8 1460.4h0M745.4 1460.4h0M804.3 1460.4h0M522.6 1466.9h0M640.5 1473.5h0M653.6 1473.5h0M745.4 1473.5h0M771.5 1473.5h0M778.1 1473.5h0M640.5 1480h0M647.1 1480h0M653.6 1480h0M647.1 1486.6h0M653.6 1486.6h0M660.2 1486.6h0M706 1486.6h0M765 1486.6h0M771.5 1486.6h0M778.1 1486.6h0M660.2 1493.1h0M666.8 1493.1h0M679.9 1493.1h0M686.4 1493.1h0M725.7 1493.1h0M745.4 1493.1h0M758.5 1493.1h0M673.3 1499.7h0M693 1499.7h0M706 1499.7h0M719.1 1499.7h0M725.7 1499.7h0M745.4 1506.2h0" stroke="#e1514a"/><path d="M516.1 1218h0M535.8 1218h0M542.3 1224.6h0M509.6 1231.1h0M522.6 1231.1h0M516.1 1237.7h0M575.1 1237.7h0M542.3 1244.2h0M562 1244.2h0M581.6 1244.2h0M568.5 1270.5h0M575.1 1270.5h0M581.6 1270.5h0M529.2 1277h0M535.8 1277h0M575.1 1277h0M489.9 1283.5h0M516.1 1283.5h0M529.2 1283.5h0M535.8 1283.5h0M496.5 1290.1h0M535.8 1290.1h0M548.9 1290.1h0M555.4 1290.1h0M562 1290.1h0M568.5 1290.1h0M575.1 1290.1h0M489.9 1296.6h0M522.6 1296.6h0M548.9 1296.6h0M555.4 1296.6h0M568.5 1296.6h0M529.2 1303.2h0M509.6 1309.8h0M588.1 1309.8h0M594.7 1309.8h0M496.5 1316.3h0M588.1 1316.3h0M529.2 1322.8h0M535.8 1322.8h0M575.1 1322.8h0M522.6 1329.4h0M535.8 1329.4h0M542.3 1329.4h0M548.9 1329.4h0M588.1 1329.4h0M594.7 1329.4h0M489.9 1336h0M522.6 1336h0M562 1336h0M581.6 1336h0M601.2 1336h0M542.3 1342.5h0M548.9 1342.5h0M575.1 1342.5h0M581.6 1342.5h0M594.7 1342.5h0M529.2 1349h0M535.8 1349h0M542.3 1349h0M548.9 1349h0M548.9 1355.6h0M607.8 1355.6h0M529.2 1362.1h0M542.3 1368.7h0M562 1368.7h0M588.1 1368.7h0M601.2 1368.7h0M614.4 1368.7h0M627.5 1368.7h0M535.8 1375.2h0M601.2 1375.2h0M522.6 1381.8h0M529.2 1381.8h0M673.3 1381.8h0M548.9 1388.3h0M679.9 1394.9h0M516.1 1401.5h0M568.5 1401.5h0M693 1401.5h0M607.8 1408h0M620.9 1408h0M634 1408h0M614.4 1421.1h0M620.9 1421.1h0M627.5 1421.1h0M778.1 1421.1h0M784.7 1427.6h0M758.5 1434.2h0M489.9 1440.8h0M758.5 1440.8h0M797.8 1440.8h0M686.4 1447.3h0M693 1447.3h0M706 1447.3h0M725.7 1447.3h0M751.9 1447.3h0M797.8 1453.8h0M535.8 1460.4h0M594.7 1460.4h0M797.8 1460.4h0M660.2 1466.9h0M784.7 1466.9h0M751.9 1473.5h0M562 1480h0M620.9 1486.6h0M640.5 1486.6h0M607.8 1493.1h0M620.9 1493.1h0M640.5 1493.1h0M653.6 1493.1h0M601.2 1499.7h0M666.8 1499.7h0M679.9 1499.7h0M745.4 1499.7h0M758.5 1499.7h0M653.6 1506.2h0M738.8 1506.2h0" stroke="#e85a48"/><path d="M516.1 1224.6h0M522.6 1224.6h0M535.8 1224.6h0M516.1 1231.1h0M542.3 1231.1h0M555.4 1231.1h0M535.8 1237.7h0M581.6 1257.3h0M529.2 1290.1h0M542.3 1290.1h0M542.3 1296.6h0M516.1 1303.2h0M535.8 1303.2h0M568.5 1303.2h0M575.1 1303.2h0M529.2 1309.8h0M542.3 1309.8h0M548.9 1316.3h0M581.6 1316.3h0M594.7 1316.3h0M542.3 1322.8h0M548.9 1322.8h0M555.4 1322.8h0M562 1322.8h0M568.5 1322.8h0M581.6 1322.8h0M581.6 1329.4h0M575.1 1336h0M548.9 1368.7h0M555.4 1368.7h0M581.6 1368.7h0M542.3 1375.2h0M555.4 1375.2h0M562 1375.2h0M581.6 1375.2h0M594.7 1375.2h0M607.8 1375.2h0M620.9 1375.2h0M568.5 1381.8h0M542.3 1388.3h0M562 1388.3h0M555.4 1394.9h0M634 1394.9h0M686.4 1394.9h0M607.8 1401.5h0M620.9 1401.5h0M634 1401.5h0M660.2 1408h0M634 1421.1h0M620.9 1427.6h0M627.5 1434.2h0M778.1 1434.2h0M791.2 1434.2h0M797.8 1434.2h0M627.5 1440.8h0M679.9 1440.8h0M771.5 1440.8h0M666.8 1447.3h0M679.9 1447.3h0M758.5 1447.3h0M784.7 1447.3h0M529.2 1453.8h0M535.8 1453.8h0M679.9 1453.8h0M706 1453.8h0M745.4 1453.8h0M751.9 1453.8h0M758.5 1453.8h0M804.3 1453.8h0M529.2 1460.4h0M627.5 1460.4h0M634 1460.4h0M640.5 1460.4h0M673.3 1460.4h0M765 1460.4h0M666.8 1466.9h0M751.9 1466.9h0M758.5 1466.9h0M765 1466.9h0M771.5 1466.9h0M778.1 1466.9h0M647.1 1473.5h0M738.8 1473.5h0M758.5 1473.5h0M765 1473.5h0M666.8 1480h0M765 1480h0M778.1 1480h0M686.4 1486.6h0M699.5 1486.6h0M745.4 1486.6h0M751.9 1486.6h0M758.5 1486.6h0M706 1493.1h0M712.6 1493.1h0M738.8 1499.7h0" stroke="#db474d"/><path d="M529.2 1224.6h0M535.8 1231.1h0M542.3 1237.7h0M548.9 1237.7h0M575.1 1244.2h0M575.1 1250.8h0M529.2 1296.6h0M535.8 1296.6h0M522.6 1303.2h0M542.3 1303.2h0M548.9 1309.8h0M562 1309.8h0M575.1 1309.8h0M542.3 1316.3h0M555.4 1316.3h0M575.1 1316.3h0M568.5 1329.4h0M575.1 1375.2h0M548.9 1381.8h0M555.4 1381.8h0M581.6 1381.8h0M614.4 1381.8h0M601.2 1388.3h0M614.4 1388.3h0M640.5 1388.3h0M568.5 1394.9h0M575.1 1394.9h0M594.7 1394.9h0M614.4 1394.9h0M620.9 1394.9h0M601.2 1401.5h0M627.5 1401.5h0M640.5 1401.5h0M627.5 1408h0M640.5 1414.5h0M647.1 1414.5h0M666.8 1421.1h0M614.4 1427.6h0M627.5 1427.6h0M634 1427.6h0M640.5 1427.6h0M660.2 1427.6h0M791.2 1427.6h0M620.9 1434.2h0M634 1434.2h0M640.5 1434.2h0M686.4 1434.2h0M784.7 1434.2h0M529.2 1440.8h0M666.8 1440.8h0M673.3 1440.8h0M778.1 1440.8h0M804.3 1440.8h0M529.2 1447.3h0M535.8 1447.3h0M653.6 1447.3h0M771.5 1447.3h0M797.8 1447.3h0M804.3 1447.3h0M660.2 1453.8h0M673.3 1453.8h0M693 1453.8h0M719.1 1453.8h0M765 1453.8h0M771.5 1453.8h0M784.7 1453.8h0M666.8 1460.4h0M686.4 1460.4h0M706 1460.4h0M758.5 1460.4h0M771.5 1460.4h0M784.7 1460.4h0M640.5 1466.9h0M653.6 1466.9h0M699.5 1466.9h0M712.6 1466.9h0M725.7 1466.9h0M732.2 1466.9h0M745.4 1466.9h0M660.2 1473.5h0M666.8 1473.5h0M660.2 1480h0M673.3 1480h0M719.1 1480h0M738.8 1480h0M751.9 1480h0M666.8 1486.6h0M679.9 1486.6h0M725.7 1486.6h0M738.8 1486.6h0M719.1 1493.1h0M738.8 1493.1h0M751.9 1493.1h0M699.5 1499.7h0M712.6 1499.7h0" stroke="#d53e4f"/><path d="M529.2 1231.1h0M548.9 1231.1h0M575.1 1257.3h0M548.9 1303.2h0M535.8 1309.8h0M562 1316.3h0M548.9 1375.2h0M588.1 1381.8h0M594.7 1381.8h0M607.8 1381.8h0M581.6 1388.3h0M594.7 1388.3h0M620.9 1388.3h0M634 1388.3h0M627.5 1394.9h0M660.2 1414.5h0M673.3 1427.6h0M660.2 1434.2h0M679.9 1434.2h0M627.5 1447.3h0M634 1447.3h0M660.2 1447.3h0M673.3 1447.3h0M765 1447.3h0M791.2 1447.3h0M653.6 1453.8h0M666.8 1453.8h0M686.4 1453.8h0M699.5 1453.8h0M725.7 1453.8h0M791.2 1453.8h0M647.1 1460.4h0M660.2 1460.4h0M679.9 1460.4h0M719.1 1460.4h0M751.9 1460.4h0M778.1 1460.4h0M647.1 1466.9h0M719.1 1466.9h0M679.9 1473.5h0M686.4 1473.5h0M699.5 1473.5h0M732.2 1473.5h0M725.7 1480h0M732.2 1480h0M745.4 1480h0M673.3 1486.6h0M693 1486.6h0M719.1 1486.6h0M693 1493.1h0M699.5 1493.1h0" stroke="#cc354d"/><path d="M509.6 1244.2h0M784.7 1290.1h0M758.5 1296.6h0M765 1342.5h0M771.5 1342.5h0M765 1349h0M765 1355.6h0M765 1362.1h0" stroke="#eaf193"/><path d="M634 1257.3h0" stroke="#555aa7"/><path d="M771.5 1290.1h0M791.2 1296.6h0" stroke="#4c66ad"/><path d="M778.1 1290.1h0" stroke="#4471b2"/><path d="M791.2 1290.1h0M797.8 1336h0M522.6 1480h0" stroke="#b7e2a2"/><path d="M765 1296.6h0M771.5 1296.6h0" stroke="#66c2a5"/><path d="M555.4 1309.8h0M562 1381.8h0M653.6 1421.1h0M653.6 1427.6h0M666.8 1427.6h0M647.1 1434.2h0M666.8 1434.2h0M673.3 1434.2h0M647.1 1440.8h0M640.5 1447.3h0M640.5 1453.8h0M673.3 1473.5h0M693 1473.5h0M719.1 1473.5h0M725.7 1473.5h0M686.4 1480h0M706 1480h0M712.6 1480h0" stroke="#ba244a"/><path d="M568.5 1316.3h0M568.5 1375.2h0M575.1 1381.8h0M601.2 1381.8h0M575.1 1388.3h0M588.1 1388.3h0M607.8 1388.3h0M601.2 1394.9h0M607.8 1394.9h0M614.4 1401.5h0M653.6 1408h0M653.6 1414.5h0M640.5 1421.1h0M647.1 1421.1h0M660.2 1421.1h0M647.1 1427.6h0M653.6 1434.2h0M640.5 1440.8h0M653.6 1440.8h0M660.2 1440.8h0M784.7 1440.8h0M647.1 1447.3h0M778.1 1447.3h0M647.1 1453.8h0M778.1 1453.8h0M653.6 1460.4h0M693 1460.4h0M699.5 1460.4h0M712.6 1460.4h0M673.3 1466.9h0M679.9 1466.9h0M693 1466.9h0M706 1466.9h0M738.8 1466.9h0M706 1473.5h0M712.6 1473.5h0M679.9 1480h0M693 1480h0M699.5 1480h0M712.6 1486.6h0M732.2 1486.6h0" stroke="#c32c4b"/><path d="M725.7 1401.5h0" stroke="#daf09a"/><path d="M706 1434.2h0" stroke="#e6f598"/></g>
<g fill="none" stroke-width="5.5"><path d="M919.2 1176.2h5.5M1028.6 1176.2h5.5M1083.4 1176.2h5.5M1165.4 1176.2h5.5M1179.1 1176.2h5.5M1206.5 1176.2h5.5M1049.2 1183h5.5M1097 1183h5.5M1103.9 1183h5.5M1110.7 1183h5.5M1220.2 1183h5.5M939.7 1189.9h5.5M946.6 1189.9h5.5M960.2 1189.9h5.5M994.4 1189.9h5.5M1008.1 1189.9h5.5M1213.3 1203.5h5.5M1015 1210.4h5.5M939.7 1217.2h5.5M1083.4 1217.2h5.5M1179.1 1217.2h5.5M1220.2 1217.2h5.5M1083.4 1224.1h5.5M1103.9 1224.1h5.5M1151.8 1224.1h5.5M960.2 1230.9h5.5M1049.2 1230.9h5.5M1179.1 1230.9h5.5M1199.6 1230.9h5.5M1206.5 1230.9h5.5M946.6 1237.7h5.5M960.2 1237.7h5.5M1015 1237.7h5.5M1083.4 1237.7h5.5M1090.2 1237.7h5.5M1179.1 1237.7h5.5M973.9 1244.6h5.5M1015 1244.6h5.5M1028.6 1244.6h5.5M1042.3 1244.6h5.5M1131.2 1244.6h5.5M1151.8 1244.6h5.5M1172.3 1244.6h5.5M1233.8 1244.6h5.5M1035.5 1251.4h5.5M1062.8 1251.4h5.5M1165.4 1251.4h5.5M1179.1 1251.4h5.5M1213.3 1251.4h5.5M1240.7 1251.4h5.5M1015 1258.3h5.5M1103.9 1258.3h5.5M1213.3 1258.3h5.5M1015 1265.1h5.5M1035.5 1265.1h5.5M1097 1265.1h5.5M1110.7 1265.1h5.5M1144.9 1265.1h5.5M980.8 1271.9h5.5M1090.2 1271.9h5.5M1138.1 1271.9h5.5M1192.8 1271.9h5.5M1233.8 1271.9h5.5M1062.8 1278.8h5.5M939.7 1285.6h5.5M987.6 1285.6h5.5M1165.4 1285.6h5.5M1172.3 1285.6h5.5M953.4 1292.5h5.5M980.8 1292.5h5.5M1138.1 1292.5h5.5M953.4 1299.3h5.5M1206.5 1299.3h5.5M919.2 1313h5.5M939.7 1319.8h5.5M1131.2 1381.4h5.5M1117.6 1408.7h5.5M932.9 1415.6h5.5M1090.2 1415.6h5.5M1042.3 1429.3h5.5M1097 1497.7h5.5M1151.8 1497.7h5.5M1158.6 1497.7h5.5M1172.3 1497.7h5.5M1206.5 1497.7h5.5M1220.2 1497.7h5.5M1172.3 1504.5h5.5M1186 1504.5h5.5" stroke="#d39436"/><path d="M926 1176.2h5.5M1008.1 1176.2h5.5M1021.8 1176.2h5.5M1213.3 1176.2h5.5M994.4 1183h5.5M1001.3 1183h5.5M1015 1183h5.5M1035.5 1189.9h5.5M1103.9 1189.9h5.5M1158.6 1189.9h5.5M1227 1189.9h5.5M1028.6 1203.5h5.5M1090.2 1203.5h5.5M973.9 1210.4h5.5M987.6 1210.4h5.5M1247.5 1210.4h5.5M1015 1217.2h5.5M1035.5 1217.2h5.5M1056 1217.2h5.5M1097 1217.2h5.5M1131.2 1217.2h5.5M1186 1217.2h5.5M1076.5 1224.1h5.5M1097 1224.1h5.5M1110.7 1224.1h5.5M1117.6 1224.1h5.5M1192.8 1224.1h5.5M1233.8 1224.1h5.5M939.7 1230.9h5.5M980.8 1230.9h5.5M1069.7 1230.9h5.5M1110.7 1230.9h5.5M1186 1230.9h5.5M1192.8 1230.9h5.5M1227 1230.9h5.5M1233.8 1230.9h5.5M953.4 1237.7h5.5M967.1 1237.7h5.5M1172.3 1237.7h5.5M1056 1244.6h5.5M1069.7 1244.6h5.5M1103.9 1244.6h5.5M1110.7 1244.6h5.5M1213.3 1244.6h5.5M1042.3 1251.4h5.5M1049.2 1251.4h5.5M1090.2 1251.4h5.5M1117.6 1251.4h5.5M980.8 1258.3h5.5M1028.6 1258.3h5.5M1042.3 1258.3h5.5M1049.2 1258.3h5.5M1151.8 1258.3h5.5M1233.8 1258.3h5.5M1247.5 1258.3h5.5M960.2 1265.1h5.5M980.8 1265.1h5.5M1056 1265.1h5.5M1090.2 1265.1h5.5M1103.9 1265.1h5.5M1199.6 1265.1h5.5M919.2 1271.9h5.5M1049.2 1271.9h5.5M1056 1271.9h5.5M1213.3 1271.9h5.5M967.1 1278.8h5.5M973.9 1278.8h5.5M994.4 1278.8h5.5M1199.6 1278.8h5.5M960.2 1285.6h5.5M1158.6 1285.6h5.5M1158.6 1299.3h5.5M1240.7 1299.3h5.5M1206.5 1374.5h5.5M1076.5 1381.4h5.5M1042.3 1408.7h5.5M953.4 1484h5.5M1021.8 1497.7h5.5M1035.5 1497.7h5.5M1056 1497.7h5.5M1117.6 1497.7h5.5M1131.2 1497.7h5.5M1192.8 1497.7h5.5M1247.5 1497.7h5.5M1028.6 1504.5h5.5M1083.4 1504.5h5.5M1117.6 1504.5h5.5M1179.1 1504.5h5.5M1192.8 1504.5h5.5M1213.3 1504.5h5.5" stroke="#e6452a"/><path d="M932.9 1176.2h5.5M953.4 1176.2h5.5M967.1 1176.2h5.5M980.8 1176.2h5.5M1056 1176.2h5.5M1062.8 1176.2h5.5M1069.7 1176.2h5.5M1076.5 1176.2h5.5M1117.6 1176.2h5.5M1151.8 1176.2h5.5M1233.8 1176.2h5.5M1240.7 1176.2h5.5M1028.6 1183h5.5M1056 1183h5.5M1131.2 1183h5.5M1144.9 1183h5.5M1151.8 1183h5.5M1158.6 1183h5.5M1179.1 1183h5.5M1227 1183h5.5M1028.6 1189.9h5.5M1049.2 1189.9h5.5M1069.7 1189.9h5.5M1090.2 1189.9h5.5M1138.1 1189.9h5.5M1076.5 1203.5h5.5M1179.1 1203.5h5.5M1247.5 1203.5h5.5M932.9 1210.4h5.5M1069.7 1210.4h5.5M1117.6 1210.4h5.5M1144.9 1210.4h5.5M1186 1210.4h5.5M980.8 1217.2h5.5M1049.2 1217.2h5.5M1069.7 1217.2h5.5M1076.5 1217.2h5.5M1090.2 1217.2h5.5M1110.7 1217.2h5.5M1117.6 1217.2h5.5M1206.5 1217.2h5.5M1213.3 1217.2h5.5M980.8 1224.1h5.5M987.6 1224.1h5.5M1001.3 1224.1h5.5M1062.8 1224.1h5.5M1090.2 1224.1h5.5M1138.1 1224.1h5.5M1179.1 1224.1h5.5M1213.3 1224.1h5.5M1220.2 1224.1h5.5M1227 1224.1h5.5M1240.7 1224.1h5.5M973.9 1230.9h5.5M1028.6 1230.9h5.5M1056 1230.9h5.5M1083.4 1230.9h5.5M1090.2 1230.9h5.5M1097 1230.9h5.5M1103.9 1230.9h5.5M1213.3 1230.9h5.5M1220.2 1230.9h5.5M1001.3 1237.7h5.5M1028.6 1237.7h5.5M1049.2 1237.7h5.5M1056 1237.7h5.5M1062.8 1237.7h5.5M1069.7 1237.7h5.5M1144.9 1237.7h5.5M1151.8 1237.7h5.5M1192.8 1237.7h5.5M1199.6 1237.7h5.5M1213.3 1237.7h5.5M1227 1237.7h5.5M1001.3 1244.6h5.5M1049.2 1244.6h5.5M1097 1244.6h5.5M1138.1 1244.6h5.5M1179.1 1244.6h5.5M1199.6 1244.6h5.5M1220.2 1244.6h5.5M980.8 1251.4h5.5M994.4 1251.4h5.5M1028.6 1251.4h5.5M1131.2 1251.4h5.5M1158.6 1251.4h5.5M939.7 1258.3h5.5M960.2 1258.3h5.5M994.4 1258.3h5.5M1021.8 1258.3h5.5M1056 1258.3h5.5M1076.5 1258.3h5.5M1090.2 1258.3h5.5M1158.6 1258.3h5.5M1179.1 1258.3h5.5M973.9 1265.1h5.5M1001.3 1265.1h5.5M1042.3 1265.1h5.5M1083.4 1265.1h5.5M1172.3 1265.1h5.5M1179.1 1265.1h5.5M960.2 1271.9h5.5M967.1 1271.9h5.5M1028.6 1271.9h5.5M1097 1271.9h5.5M1151.8 1271.9h5.5M1220.2 1271.9h5.5M939.7 1278.8h5.5M946.6 1278.8h5.5M980.8 1278.8h5.5M1076.5 1278.8h5.5M1179.1 1278.8h5.5M1186 1278.8h5.5M946.6 1285.6h5.5M953.4 1285.6h5.5M973.9 1285.6h5.5M1001.3 1285.6h5.5M1069.7 1285.6h5.5M1083.4 1285.6h5.5M1144.9 1285.6h5.5M1179.1 1285.6h5.5M926 1292.5h5.5M939.7 1292.5h5.5M960.2 1292.5h5.5M967.1 1292.5h5.5M1110.7 1292.5h5.5M1199.6 1292.5h5.5M1206.5 1292.5h5.5M946.6 1299.3h5.5M960.2 1299.3h5.5M1049.2 1299.3h5.5M1179.1 1299.3h5.5M932.9 1306.1h5.5M953.4 1306.1h5.5M980.8 1306.1h5.5M939.7 1313h5.5M946.6 1313h5.5M1049.2 1313h5.5M932.9 1319.8h5.5M1151.8 1319.8h5.5M1001.3 1340.3h5.5M1151.8 1354h5.5M1001.3 1360.9h5.5M1021.8 1388.2h5.5M1042.3 1388.2h5.5M994.4 1395.1h5.5M946.6 1408.7h5.5M1090.2 1408.7h5.5M1069.7 1429.3h5.5M1138.1 1436.1h5.5M1008.1 1449.8h5.5M1213.3 1449.8h5.5M1035.5 1456.6h5.5M1213.3 1463.5h5.5M1103.9 1470.3h5.5M932.9 1484h5.5M1233.8 1484h5.5M1247.5 1484h5.5M994.4 1497.7h5.5M1001.3 1497.7h5.5M1069.7 1497.7h5.5M1138.1 1497.7h5.5M1144.9 1497.7h5.5M1179.1 1497.7h5.5M1227 1497.7h5.5M1240.7 1497.7h5.5M1015 1504.5h5.5M1076.5 1504.5h5.5M1158.6 1504.5h5.5M1165.4 1504.5h5.5M1206.5 1504.5h5.5M1240.7 1504.5h5.5" stroke="#e52e28"/><path d="M939.7 1176.2h5.5M1240.7 1217.2h5.5M946.6 1230.9h5.5M1021.8 1292.5h5.5M1103.9 1292.5h5.5M1233.8 1299.3h5.5M1213.3 1306.1h5.5M1021.8 1313h5.5M1103.9 1313h5.5M1110.7 1313h5.5M953.4 1333.5h5.5M1213.3 1333.5h5.5M953.4 1340.3h5.5M960.2 1340.3h5.5M1076.5 1340.3h5.5M1158.6 1340.3h5.5M1213.3 1340.3h5.5M953.4 1347.2h5.5M1227 1347.2h5.5M1042.3 1360.9h5.5M1158.6 1360.9h5.5M1083.4 1367.7h5.5M1165.4 1367.7h5.5M1015 1374.5h5.5M1069.7 1388.2h5.5M1233.8 1388.2h5.5M1083.4 1395.1h5.5M1021.8 1408.7h5.5M1069.7 1408.7h5.5M1213.3 1408.7h5.5M1227 1408.7h5.5M932.9 1429.3h5.5M1240.7 1429.3h5.5M960.2 1436.1h5.5M1069.7 1442.9h5.5M960.2 1449.8h5.5M1199.6 1449.8h5.5M1097 1456.6h5.5M1097 1463.5h5.5M1097 1470.3h5.5M1021.8 1477.1h5.5M1042.3 1484h5.5M1056 1484h5.5M1083.4 1484h5.5M1165.4 1484h5.5M987.6 1504.5h5.5M1110.7 1504.5h5.5" stroke="#7cb29e"/><path d="M946.6 1176.2h5.5M960.2 1176.2h5.5M1042.3 1176.2h5.5M1186 1176.2h5.5M1083.4 1183h5.5M1117.6 1183h5.5M1233.8 1183h5.5M926 1189.9h5.5M973.9 1189.9h5.5M1001.3 1189.9h5.5M1206.5 1189.9h5.5M1213.3 1189.9h5.5M1247.5 1189.9h5.5M1042.3 1203.5h5.5M1138.1 1203.5h5.5M1158.6 1203.5h5.5M1056 1210.4h5.5M1076.5 1210.4h5.5M1090.2 1210.4h5.5M1172.3 1210.4h5.5M1233.8 1210.4h5.5M1062.8 1217.2h5.5M1165.4 1217.2h5.5M1172.3 1217.2h5.5M946.6 1224.1h5.5M953.4 1224.1h5.5M994.4 1224.1h5.5M1008.1 1224.1h5.5M1042.3 1224.1h5.5M1056 1224.1h5.5M1015 1230.9h5.5M1076.5 1230.9h5.5M1117.6 1230.9h5.5M1117.6 1237.7h5.5M1138.1 1237.7h5.5M1165.4 1237.7h5.5M1186 1237.7h5.5M953.4 1244.6h5.5M960.2 1244.6h5.5M967.1 1244.6h5.5M1008.1 1244.6h5.5M1090.2 1244.6h5.5M1117.6 1244.6h5.5M1165.4 1244.6h5.5M973.9 1251.4h5.5M1056 1251.4h5.5M1186 1251.4h5.5M919.2 1258.3h5.5M1008.1 1258.3h5.5M1062.8 1258.3h5.5M1083.4 1258.3h5.5M967.1 1265.1h5.5M987.6 1265.1h5.5M994.4 1265.1h5.5M1021.8 1265.1h5.5M1028.6 1265.1h5.5M1049.2 1265.1h5.5M1062.8 1265.1h5.5M1151.8 1265.1h5.5M1213.3 1265.1h5.5M953.4 1271.9h5.5M973.9 1271.9h5.5M987.6 1271.9h5.5M1035.5 1271.9h5.5M1069.7 1271.9h5.5M1076.5 1271.9h5.5M1179.1 1271.9h5.5M932.9 1285.6h5.5M967.1 1285.6h5.5M980.8 1285.6h5.5M994.4 1285.6h5.5M1138.1 1285.6h5.5M973.9 1306.1h5.5M1144.9 1326.7h5.5M919.2 1333.5h5.5M980.8 1333.5h5.5M960.2 1354h5.5M1008.1 1381.4h5.5M1233.8 1395.1h5.5M994.4 1442.9h5.5M1227 1484h5.5M1240.7 1484h5.5M1008.1 1497.7h5.5M1042.3 1497.7h5.5M1165.4 1497.7h5.5M1199.6 1497.7h5.5M1035.5 1504.5h5.5M1138.1 1504.5h5.5M1144.9 1504.5h5.5M1151.8 1504.5h5.5" stroke="#e8742e"/><path d="M973.9 1176.2h5.5M1158.6 1176.2h5.5M1008.1 1183h5.5M1090.2 1183h5.5M1240.7 1183h5.5M1021.8 1189.9h5.5M1172.3 1189.9h5.5M1240.7 1189.9h5.5M1021.8 1203.5h5.5M1103.9 1203.5h5.5M1103.9 1217.2h5.5M1021.8 1224.1h5.5M1144.9 1224.1h5.5M1172.3 1224.1h5.5M1138.1 1230.9h5.5M1158.6 1244.6h5.5M1206.5 1244.6h5.5M1247.5 1244.6h5.5M1021.8 1251.4h5.5M987.6 1258.3h5.5M1131.2 1258.3h5.5M1199.6 1258.3h5.5M932.9 1265.1h5.5M1008.1 1265.1h5.5M1076.5 1265.1h5.5M939.7 1271.9h5.5M1001.3 1271.9h5.5M1131.2 1271.9h5.5M1199.6 1271.9h5.5M1227 1271.9h5.5M1021.8 1278.8h5.5M1042.3 1278.8h5.5M1049.2 1278.8h5.5M1144.9 1278.8h5.5M919.2 1285.6h5.5M1021.8 1285.6h5.5M1090.2 1285.6h5.5M1247.5 1285.6h5.5M1151.8 1292.5h5.5M1213.3 1292.5h5.5M926 1299.3h5.5M973.9 1299.3h5.5M1042.3 1299.3h5.5M1138.1 1299.3h5.5M987.6 1306.1h5.5M1144.9 1306.1h5.5M1240.7 1306.1h5.5M1247.5 1306.1h5.5M967.1 1313h5.5M1233.8 1313h5.5M967.1 1319.8h5.5M1233.8 1319.8h5.5M919.2 1326.7h5.5M939.7 1333.5h5.5M1062.8 1340.3h5.5M926 1347.2h5.5M1083.4 1360.9h5.5M1138.1 1360.9h5.5M1227 1360.9h5.5M960.2 1367.7h5.5M1247.5 1367.7h5.5M1076.5 1374.5h5.5M1192.8 1374.5h5.5M1240.7 1374.5h5.5M939.7 1381.4h5.5M967.1 1381.4h5.5M1110.7 1388.2h5.5M932.9 1395.1h5.5M1117.6 1395.1h5.5M939.7 1401.9h5.5M1233.8 1415.6h5.5M932.9 1422.4h5.5M1220.2 1422.4h5.5M1151.8 1429.3h5.5M1227 1429.3h5.5M1240.7 1442.9h5.5M1186 1456.6h5.5M1227 1456.6h5.5M1110.7 1463.5h5.5M1220.2 1477.1h5.5M1097 1484h5.5M1199.6 1484h5.5M1220.2 1484h5.5M1015 1497.7h5.5M1103.9 1504.5h5.5M1131.2 1504.5h5.5" stroke="#a8d63a"/><path d="M987.6 1176.2h5.5M932.9 1244.6h5.5M1117.6 1265.1h5.5M1035.5 1278.8h5.5M1158.6 1278.8h5.5M1158.6 1313h5.5M1103.9 1319.8h5.5M1110.7 1319.8h5.5M980.8 1326.7h5.5M1192.8 1326.7h5.5M1233.8 1326.7h5.5M1131.2 1333.5h5.5M980.8 1340.3h5.5M1083.4 1340.3h5.5M1117.6 1340.3h5.5M1097 1347.2h5.5M1172.3 1347.2h5.5M946.6 1354h5.5M1097 1354h5.5M1131.2 1354h5.5M953.4 1360.9h5.5M994.4 1367.7h5.5M1186 1367.7h5.5M1227 1367.7h5.5M1110.7 1374.5h5.5M1172.3 1388.2h5.5M1021.8 1395.1h5.5M1008.1 1401.9h5.5M1069.7 1401.9h5.5M1240.7 1415.6h5.5M1001.3 1422.4h5.5M926 1429.3h5.5M1131.2 1429.3h5.5M1090.2 1436.1h5.5M973.9 1442.9h5.5M1008.1 1442.9h5.5M1015 1442.9h5.5M926 1449.8h5.5M1015 1463.5h5.5M1117.6 1463.5h5.5M1227 1463.5h5.5M1069.7 1484h5.5M1110.7 1484h5.5M980.8 1497.7h5.5M946.6 1504.5h5.5" stroke="#7ca3ab"/><path d="M994.4 1176.2h5.5M1035.5 1176.2h5.5M1049.2 1176.2h5.5M1227 1176.2h5.5M987.6 1183h5.5M1042.3 1189.9h5.5M1035.5 1203.5h5.5M1151.8 1217.2h5.5M1199.6 1224.1h5.5M1076.5 1237.7h5.5M1227 1244.6h5.5M1240.7 1244.6h5.5M946.6 1251.4h5.5M1220.2 1251.4h5.5M1247.5 1251.4h5.5M953.4 1258.3h5.5M919.2 1265.1h5.5M1015 1271.9h5.5M1103.9 1271.9h5.5M1110.7 1271.9h5.5M1186 1271.9h5.5M960.2 1278.8h5.5M1110.7 1278.8h5.5M1103.9 1285.6h5.5M1233.8 1285.6h5.5M1042.3 1292.5h5.5M960.2 1313h5.5M1233.8 1333.5h5.5M1220.2 1367.7h5.5M1227 1436.1h5.5M1233.8 1436.1h5.5M1213.3 1442.9h5.5M1240.7 1449.8h5.5M1008.1 1504.5h5.5M1056 1504.5h5.5" stroke="#bcb33b"/><path d="M1001.3 1176.2h5.5M1103.9 1176.2h5.5M1138.1 1176.2h5.5M1144.9 1176.2h5.5M960.2 1183h5.5M980.8 1183h5.5M1069.7 1183h5.5M1076.5 1183h5.5M1165.4 1183h5.5M1192.8 1183h5.5M1213.3 1183h5.5M1247.5 1183h5.5M1083.4 1189.9h5.5M1097 1189.9h5.5M1131.2 1189.9h5.5M1151.8 1189.9h5.5M1199.6 1189.9h5.5M1062.8 1203.5h5.5M1117.6 1203.5h5.5M1165.4 1203.5h5.5M1001.3 1210.4h5.5M1035.5 1210.4h5.5M1062.8 1210.4h5.5M1083.4 1210.4h5.5M1097 1210.4h5.5M1192.8 1210.4h5.5M1206.5 1210.4h5.5M1220.2 1210.4h5.5M1227 1210.4h5.5M1192.8 1217.2h5.5M1049.2 1224.1h5.5M1186 1224.1h5.5M987.6 1230.9h5.5M1158.6 1230.9h5.5M987.6 1237.7h5.5M1008.1 1237.7h5.5M1110.7 1237.7h5.5M1158.6 1237.7h5.5M1206.5 1237.7h5.5M946.6 1244.6h5.5M1021.8 1244.6h5.5M1083.4 1244.6h5.5M939.7 1251.4h5.5M953.4 1251.4h5.5M967.1 1251.4h5.5M987.6 1251.4h5.5M1001.3 1251.4h5.5M1008.1 1251.4h5.5M1069.7 1251.4h5.5M932.9 1258.3h5.5M973.9 1258.3h5.5M1001.3 1258.3h5.5M1117.6 1258.3h5.5M1138.1 1258.3h5.5M1186 1258.3h5.5M1138.1 1265.1h5.5M1206.5 1265.1h5.5M994.4 1271.9h5.5M1206.5 1271.9h5.5M953.4 1278.8h5.5M987.6 1278.8h5.5M1008.1 1278.8h5.5M1028.6 1278.8h5.5M973.9 1292.5h5.5M987.6 1292.5h5.5M967.1 1299.3h5.5M980.8 1299.3h5.5M994.4 1299.3h5.5M1021.8 1299.3h5.5M939.7 1306.1h5.5M967.1 1306.1h5.5M926 1319.8h5.5M946.6 1326.7h5.5M1117.6 1326.7h5.5M1015 1367.7h5.5M1069.7 1374.5h5.5M1213.3 1429.3h5.5M1144.9 1463.5h5.5M1186 1497.7h5.5M1233.8 1497.7h5.5M1042.3 1504.5h5.5M1199.6 1504.5h5.5M1233.8 1504.5h5.5" stroke="#e75d2c"/><path d="M1015 1176.2h5.5M1144.9 1189.9h5.5M1131.2 1210.4h5.5M953.4 1230.9h5.5M1076.5 1244.6h5.5M1076.5 1299.3h5.5M1083.4 1299.3h5.5M1069.7 1313h5.5M1076.5 1313h5.5M1090.2 1313h5.5M919.2 1319.8h5.5M1001.3 1319.8h5.5M1035.5 1319.8h5.5M1076.5 1319.8h5.5M1015 1326.7h5.5M1035.5 1326.7h5.5M1035.5 1333.5h5.5M1062.8 1333.5h5.5M1076.5 1333.5h5.5M1083.4 1333.5h5.5M1186 1333.5h5.5M987.6 1340.3h5.5M1069.7 1340.3h5.5M1103.9 1340.3h5.5M1144.9 1340.3h5.5M967.1 1347.2h5.5M1015 1347.2h5.5M1021.8 1347.2h5.5M1056 1347.2h5.5M1083.4 1347.2h5.5M1090.2 1347.2h5.5M1165.4 1354h5.5M1227 1354h5.5M967.1 1360.9h5.5M1199.6 1360.9h5.5M1035.5 1367.7h5.5M960.2 1374.5h5.5M980.8 1374.5h5.5M1083.4 1374.5h5.5M1144.9 1374.5h5.5M932.9 1381.4h5.5M1035.5 1381.4h5.5M1069.7 1381.4h5.5M1227 1381.4h5.5M1035.5 1388.2h5.5M1117.6 1388.2h5.5M1240.7 1388.2h5.5M1069.7 1395.1h5.5M1076.5 1395.1h5.5M1247.5 1395.1h5.5M926 1401.9h5.5M1103.9 1401.9h5.5M932.9 1408.7h5.5M994.4 1408.7h5.5M1076.5 1408.7h5.5M1158.6 1408.7h5.5M1179.1 1408.7h5.5M973.9 1415.6h5.5M1008.1 1415.6h5.5M1042.3 1415.6h5.5M1117.6 1415.6h5.5M1144.9 1415.6h5.5M1151.8 1415.6h5.5M960.2 1422.4h5.5M1021.8 1422.4h5.5M1035.5 1422.4h5.5M1056 1422.4h5.5M1103.9 1422.4h5.5M1151.8 1422.4h5.5M919.2 1429.3h5.5M967.1 1429.3h5.5M953.4 1436.1h5.5M1131.2 1436.1h5.5M1151.8 1436.1h5.5M1172.3 1436.1h5.5M967.1 1442.9h5.5M1138.1 1442.9h5.5M980.8 1449.8h5.5M1117.6 1449.8h5.5M1206.5 1449.8h5.5M953.4 1456.6h5.5M960.2 1456.6h5.5M973.9 1456.6h5.5M980.8 1456.6h5.5M987.6 1456.6h5.5M1001.3 1456.6h5.5M1151.8 1456.6h5.5M1158.6 1456.6h5.5M1220.2 1456.6h5.5M1035.5 1463.5h5.5M1042.3 1463.5h5.5M1076.5 1463.5h5.5M987.6 1470.3h5.5M1110.7 1470.3h5.5M1117.6 1470.3h5.5M953.4 1477.1h5.5M960.2 1477.1h5.5M1008.1 1477.1h5.5M1172.3 1477.1h5.5M960.2 1484h5.5M1015 1484h5.5M1035.5 1484h5.5M939.7 1497.7h5.5M932.9 1504.5h5.5" stroke="#7b81be"/><path d="M1090.2 1176.2h5.5M1199.6 1176.2h5.5M973.9 1183h5.5M1021.8 1183h5.5M1042.3 1183h5.5M953.4 1189.9h5.5M1015 1189.9h5.5M1220.2 1189.9h5.5M1233.8 1189.9h5.5M946.6 1203.5h5.5M1008.1 1203.5h5.5M1069.7 1203.5h5.5M1083.4 1203.5h5.5M1206.5 1203.5h5.5M1220.2 1203.5h5.5M1227 1203.5h5.5M1240.7 1203.5h5.5M919.2 1210.4h5.5M953.4 1210.4h5.5M967.1 1210.4h5.5M1103.9 1210.4h5.5M1138.1 1210.4h5.5M946.6 1217.2h5.5M953.4 1217.2h5.5M994.4 1217.2h5.5M1028.6 1217.2h5.5M1144.9 1217.2h5.5M1158.6 1217.2h5.5M1233.8 1217.2h5.5M939.7 1224.1h5.5M967.1 1224.1h5.5M973.9 1224.1h5.5M1247.5 1224.1h5.5M926 1230.9h5.5M1001.3 1230.9h5.5M1021.8 1230.9h5.5M1062.8 1230.9h5.5M1165.4 1230.9h5.5M1172.3 1230.9h5.5M1247.5 1230.9h5.5M932.9 1237.7h5.5M980.8 1237.7h5.5M1131.2 1237.7h5.5M987.6 1244.6h5.5M994.4 1244.6h5.5M1015 1251.4h5.5M1199.6 1251.4h5.5M1233.8 1251.4h5.5M1144.9 1258.3h5.5M1206.5 1258.3h5.5M1227 1258.3h5.5M1186 1265.1h5.5M1227 1265.1h5.5M926 1271.9h5.5M946.6 1271.9h5.5M1021.8 1271.9h5.5M1042.3 1271.9h5.5M1001.3 1278.8h5.5M1233.8 1278.8h5.5M1062.8 1285.6h5.5M1097 1285.6h5.5M1117.6 1285.6h5.5M1192.8 1285.6h5.5M919.2 1292.5h5.5M1015 1292.5h5.5M1076.5 1292.5h5.5M1220.2 1292.5h5.5M919.2 1299.3h5.5M932.9 1299.3h5.5M939.7 1299.3h5.5M1165.4 1299.3h5.5M1172.3 1299.3h5.5M1220.2 1299.3h5.5M919.2 1306.1h5.5M1062.8 1306.1h5.5M946.6 1319.8h5.5M1186 1319.8h5.5M953.4 1326.7h5.5M1090.2 1326.7h5.5M1015 1333.5h5.5M1090.2 1333.5h5.5M1247.5 1333.5h5.5M1199.6 1340.3h5.5M926 1354h5.5M1172.3 1354h5.5M926 1360.9h5.5M1151.8 1360.9h5.5M1049.2 1367.7h5.5M1131.2 1367.7h5.5M1144.9 1367.7h5.5M1097 1374.5h5.5M946.6 1381.4h5.5M1213.3 1381.4h5.5M946.6 1388.2h5.5M967.1 1388.2h5.5M987.6 1388.2h5.5M1001.3 1388.2h5.5M1165.4 1388.2h5.5M1186 1388.2h5.5M953.4 1395.1h5.5M1179.1 1395.1h5.5M1227 1395.1h5.5M919.2 1401.9h5.5M1144.9 1408.7h5.5M1240.7 1408.7h5.5M953.4 1415.6h5.5M1028.6 1415.6h5.5M1186 1422.4h5.5M1213.3 1422.4h5.5M1240.7 1422.4h5.5M1179.1 1429.3h5.5M939.7 1436.1h5.5M1179.1 1436.1h5.5M1083.4 1449.8h5.5M1165.4 1449.8h5.5M1233.8 1449.8h5.5M1083.4 1456.6h5.5M1233.8 1463.5h5.5M1172.3 1470.3h5.5M1117.6 1484h5.5M1131.2 1484h5.5M1179.1 1484h5.5M1186 1484h5.5M1206.5 1484h5.5M1062.8 1497.7h5.5M1090.2 1497.7h5.5M973.9 1504.5h5.5" stroke="#9ad53f"/><path d="M1097 1176.2h5.5M1172.3 1176.2h5.5M967.1 1183h5.5M980.8 1189.9h5.5M1056 1189.9h5.5M1062.8 1189.9h5.5M1110.7 1189.9h5.5M1179.1 1189.9h5.5M1192.8 1189.9h5.5M926 1203.5h5.5M973.9 1203.5h5.5M980.8 1203.5h5.5M987.6 1203.5h5.5M1192.8 1203.5h5.5M1021.8 1210.4h5.5M1042.3 1210.4h5.5M1158.6 1210.4h5.5M932.9 1217.2h5.5M973.9 1217.2h5.5M987.6 1217.2h5.5M932.9 1230.9h5.5M1220.2 1237.7h5.5M1062.8 1244.6h5.5M1110.7 1251.4h5.5M1069.7 1258.3h5.5M1240.7 1258.3h5.5M946.6 1265.1h5.5M1165.4 1265.1h5.5M1233.8 1265.1h5.5M1172.3 1271.9h5.5M1097 1278.8h5.5M1151.8 1278.8h5.5M1028.6 1285.6h5.5M1035.5 1285.6h5.5M1110.7 1285.6h5.5M1220.2 1285.6h5.5M1227 1285.6h5.5M1001.3 1292.5h5.5M1172.3 1292.5h5.5M1056 1306.1h5.5M1131.2 1306.1h5.5M1186 1306.1h5.5M987.6 1313h5.5M1008.1 1313h5.5M1015 1313h5.5M1240.7 1313h5.5M973.9 1319.8h5.5M1021.8 1319.8h5.5M1131.2 1319.8h5.5M1138.1 1319.8h5.5M1165.4 1319.8h5.5M1206.5 1319.8h5.5M1213.3 1319.8h5.5M1001.3 1326.7h5.5M1165.4 1326.7h5.5M1186 1326.7h5.5M1117.6 1333.5h5.5M1179.1 1333.5h5.5M919.2 1340.3h5.5M946.6 1340.3h5.5M1090.2 1340.3h5.5M1131.2 1340.3h5.5M1186 1340.3h5.5M1220.2 1340.3h5.5M1069.7 1347.2h5.5M1206.5 1347.2h5.5M1233.8 1347.2h5.5M967.1 1354h5.5M1076.5 1354h5.5M1103.9 1354h5.5M1110.7 1354h5.5M1138.1 1354h5.5M1158.6 1354h5.5M1186 1354h5.5M919.2 1360.9h5.5M939.7 1360.9h5.5M1103.9 1360.9h5.5M1144.9 1360.9h5.5M1186 1360.9h5.5M1233.8 1360.9h5.5M939.7 1367.7h5.5M1056 1367.7h5.5M1110.7 1367.7h5.5M946.6 1374.5h5.5M1042.3 1374.5h5.5M973.9 1381.4h5.5M1158.6 1381.4h5.5M1192.8 1381.4h5.5M1199.6 1381.4h5.5M939.7 1388.2h5.5M1062.8 1388.2h5.5M926 1395.1h5.5M939.7 1395.1h5.5M960.2 1395.1h5.5M1131.2 1395.1h5.5M1144.9 1395.1h5.5M1158.6 1395.1h5.5M1206.5 1395.1h5.5M987.6 1401.9h5.5M1076.5 1401.9h5.5M1151.8 1401.9h5.5M1165.4 1401.9h5.5M1186 1401.9h5.5M1199.6 1401.9h5.5M1206.5 1401.9h5.5M1220.2 1401.9h5.5M1240.7 1401.9h5.5M939.7 1408.7h5.5M967.1 1408.7h5.5M1028.6 1408.7h5.5M1103.9 1408.7h5.5M1131.2 1408.7h5.5M1165.4 1408.7h5.5M1213.3 1415.6h5.5M1227 1415.6h5.5M1247.5 1422.4h5.5M946.6 1429.3h5.5M1186 1429.3h5.5M1192.8 1429.3h5.5M987.6 1442.9h5.5M1186 1442.9h5.5M932.9 1449.8h5.5M1042.3 1449.8h5.5M1090.2 1449.8h5.5M1090.2 1456.6h5.5M1206.5 1456.6h5.5M1247.5 1456.6h5.5M967.1 1463.5h5.5M987.6 1463.5h5.5M1028.6 1463.5h5.5M1083.4 1463.5h5.5M1158.6 1463.5h5.5M1206.5 1463.5h5.5M932.9 1470.3h5.5M946.6 1470.3h5.5M967.1 1470.3h5.5M1021.8 1470.3h5.5M1035.5 1470.3h5.5M1056 1470.3h5.5M1131.2 1470.3h5.5M1179.1 1470.3h5.5M1186 1470.3h5.5M1110.7 1477.1h5.5M1117.6 1477.1h5.5M1192.8 1477.1h5.5M1021.8 1484h5.5M1090.2 1484h5.5M1103.9 1484h5.5M973.9 1497.7h5.5M987.6 1497.7h5.5M1076.5 1497.7h5.5M953.4 1504.5h5.5M960.2 1504.5h5.5M967.1 1504.5h5.5M1021.8 1504.5h5.5M1062.8 1504.5h5.5" stroke="#79cd58"/><path d="M1110.7 1176.2h5.5M1206.5 1224.1h5.5M1035.5 1244.6h5.5M1227 1251.4h5.5M1192.8 1265.1h5.5M1083.4 1271.9h5.5M1158.6 1271.9h5.5M1069.7 1299.3h5.5M1227 1299.3h5.5M1035.5 1306.1h5.5M1090.2 1306.1h5.5M1151.8 1306.1h5.5M1227 1313h5.5M1028.6 1319.8h5.5M1062.8 1319.8h5.5M1220.2 1319.8h5.5M973.9 1326.7h5.5M987.6 1326.7h5.5M1179.1 1326.7h5.5M1213.3 1326.7h5.5M1069.7 1333.5h5.5M1097 1333.5h5.5M1165.4 1333.5h5.5M1227 1333.5h5.5M994.4 1340.3h5.5M1042.3 1340.3h5.5M1049.2 1340.3h5.5M1227 1340.3h5.5M1199.6 1347.2h5.5M953.4 1354h5.5M1035.5 1354h5.5M1042.3 1354h5.5M1056 1354h5.5M946.6 1360.9h5.5M1028.6 1360.9h5.5M1192.8 1360.9h5.5M973.9 1367.7h5.5M1028.6 1367.7h5.5M1069.7 1367.7h5.5M1076.5 1367.7h5.5M1090.2 1367.7h5.5M1097 1367.7h5.5M1172.3 1367.7h5.5M973.9 1374.5h5.5M1117.6 1374.5h5.5M1138.1 1374.5h5.5M1220.2 1374.5h5.5M1015 1381.4h5.5M1062.8 1381.4h5.5M1097 1381.4h5.5M1220.2 1381.4h5.5M919.2 1388.2h5.5M1015 1388.2h5.5M1199.6 1388.2h5.5M919.2 1395.1h5.5M1090.2 1395.1h5.5M1056 1401.9h5.5M1062.8 1408.7h5.5M1110.7 1408.7h5.5M1186 1408.7h5.5M960.2 1415.6h5.5M987.6 1415.6h5.5M994.4 1415.6h5.5M1083.4 1415.6h5.5M919.2 1422.4h5.5M946.6 1422.4h5.5M1083.4 1422.4h5.5M1165.4 1422.4h5.5M1199.6 1422.4h5.5M960.2 1429.3h5.5M994.4 1429.3h5.5M1001.3 1429.3h5.5M1083.4 1429.3h5.5M1097 1429.3h5.5M1110.7 1429.3h5.5M1117.6 1429.3h5.5M1199.6 1429.3h5.5M967.1 1436.1h5.5M980.8 1436.1h5.5M994.4 1436.1h5.5M1001.3 1436.1h5.5M1015 1436.1h5.5M1076.5 1436.1h5.5M1110.7 1436.1h5.5M1021.8 1442.9h5.5M1097 1442.9h5.5M1227 1442.9h5.5M939.7 1449.8h5.5M973.9 1449.8h5.5M987.6 1449.8h5.5M1069.7 1449.8h5.5M1076.5 1449.8h5.5M967.1 1456.6h5.5M994.4 1456.6h5.5M1015 1456.6h5.5M1028.6 1456.6h5.5M1076.5 1456.6h5.5M1117.6 1456.6h5.5M1131.2 1456.6h5.5M1165.4 1456.6h5.5M980.8 1463.5h5.5M1008.1 1463.5h5.5M1090.2 1463.5h5.5M994.4 1470.3h5.5M1001.3 1470.3h5.5M1028.6 1470.3h5.5M1062.8 1470.3h5.5M1138.1 1470.3h5.5M980.8 1477.1h5.5M1042.3 1477.1h5.5M1049.2 1477.1h5.5M973.9 1484h5.5M994.4 1484h5.5M1001.3 1484h5.5M1008.1 1484h5.5" stroke="#6363c1"/><path d="M1131.2 1176.2h5.5M1220.2 1176.2h5.5M1247.5 1176.2h5.5M1035.5 1183h5.5M967.1 1189.9h5.5M1165.4 1189.9h5.5M932.9 1203.5h5.5M953.4 1203.5h5.5M1056 1203.5h5.5M1240.7 1210.4h5.5M1001.3 1217.2h5.5M1138.1 1217.2h5.5M1199.6 1217.2h5.5M1227 1217.2h5.5M919.2 1224.1h5.5M1028.6 1224.1h5.5M919.2 1230.9h5.5M967.1 1230.9h5.5M1042.3 1230.9h5.5M1131.2 1230.9h5.5M1151.8 1230.9h5.5M919.2 1237.7h5.5M939.7 1237.7h5.5M1233.8 1237.7h5.5M919.2 1251.4h5.5M1192.8 1251.4h5.5M926 1258.3h5.5M946.6 1258.3h5.5M967.1 1258.3h5.5M1097 1258.3h5.5M1165.4 1258.3h5.5M1192.8 1258.3h5.5M926 1265.1h5.5M1247.5 1265.1h5.5M1165.4 1271.9h5.5M1240.7 1271.9h5.5M1056 1278.8h5.5M1069.7 1278.8h5.5M1103.9 1278.8h5.5M1008.1 1285.6h5.5M1151.8 1285.6h5.5M1186 1285.6h5.5M1199.6 1285.6h5.5M1213.3 1285.6h5.5M1090.2 1292.5h5.5M1131.2 1292.5h5.5M1233.8 1292.5h5.5M987.6 1299.3h5.5M1015 1299.3h5.5M1062.8 1299.3h5.5M1097 1299.3h5.5M1110.7 1299.3h5.5M1199.6 1299.3h5.5M1247.5 1299.3h5.5M994.4 1306.1h5.5M1110.7 1306.1h5.5M1179.1 1306.1h5.5M953.4 1313h5.5M1028.6 1313h5.5M1179.1 1313h5.5M1247.5 1313h5.5M960.2 1319.8h5.5M980.8 1319.8h5.5M967.1 1326.7h5.5M1138.1 1326.7h5.5M946.6 1333.5h5.5M973.9 1333.5h5.5M1021.8 1333.5h5.5M1103.9 1333.5h5.5M1192.8 1333.5h5.5M1172.3 1340.3h5.5M1206.5 1340.3h5.5M939.7 1347.2h5.5M1103.9 1347.2h5.5M1186 1347.2h5.5M932.9 1354h5.5M1117.6 1354h5.5M1192.8 1354h5.5M1206.5 1354h5.5M1233.8 1354h5.5M1247.5 1354h5.5M1076.5 1360.9h5.5M1165.4 1360.9h5.5M919.2 1367.7h5.5M926 1367.7h5.5M932.9 1367.7h5.5M946.6 1367.7h5.5M1138.1 1367.7h5.5M1179.1 1367.7h5.5M1158.6 1374.5h5.5M1138.1 1381.4h5.5M1233.8 1381.4h5.5M932.9 1388.2h5.5M1131.2 1388.2h5.5M1138.1 1388.2h5.5M1158.6 1388.2h5.5M1206.5 1388.2h5.5M1247.5 1388.2h5.5M1138.1 1395.1h5.5M1213.3 1395.1h5.5M932.9 1401.9h5.5M1001.3 1401.9h5.5M1131.2 1401.9h5.5M1158.6 1401.9h5.5M953.4 1408.7h5.5M1192.8 1408.7h5.5M1220.2 1408.7h5.5M1110.7 1415.6h5.5M1165.4 1415.6h5.5M953.4 1422.4h5.5M987.6 1422.4h5.5M1138.1 1422.4h5.5M1192.8 1422.4h5.5M1227 1422.4h5.5M939.7 1429.3h5.5M1220.2 1429.3h5.5M1233.8 1429.3h5.5M1247.5 1429.3h5.5M919.2 1436.1h5.5M926 1436.1h5.5M1199.6 1436.1h5.5M1247.5 1436.1h5.5M919.2 1442.9h5.5M946.6 1442.9h5.5M1049.2 1442.9h5.5M1158.6 1442.9h5.5M1165.4 1442.9h5.5M1172.3 1449.8h5.5M1179.1 1449.8h5.5M1220.2 1449.8h5.5M1247.5 1449.8h5.5M926 1456.6h5.5M939.7 1456.6h5.5M1042.3 1456.6h5.5M1062.8 1456.6h5.5M1056 1463.5h5.5M1131.2 1463.5h5.5M1192.8 1463.5h5.5M1028.6 1477.1h5.5M1056 1477.1h5.5M1138.1 1477.1h5.5M1186 1477.1h5.5M1199.6 1477.1h5.5M987.6 1484h5.5M1138.1 1484h5.5M1158.6 1484h5.5M1049.2 1497.7h5.5M1110.7 1497.7h5.5M1117.6 1196.7h5.5" stroke="#7fd249"/><path d="M1192.8 1176.2h5.5M1179.1 1210.4h5.5M926 1251.4h5.5M1049.2 1292.5h5.5M1083.4 1292.5h5.5M1028.6 1299.3h5.5M1227 1306.1h5.5M1056 1313h5.5M1172.3 1313h5.5M1097 1319.8h5.5M1117.6 1319.8h5.5M1179.1 1319.8h5.5M1247.5 1319.8h5.5M1008.1 1326.7h5.5M1076.5 1326.7h5.5M1008.1 1333.5h5.5M1049.2 1333.5h5.5M1056 1333.5h5.5M973.9 1340.3h5.5M1035.5 1340.3h5.5M1192.8 1347.2h5.5M980.8 1354h5.5M987.6 1354h5.5M1049.2 1354h5.5M960.2 1360.9h5.5M1035.5 1360.9h5.5M1069.7 1360.9h5.5M1097 1360.9h5.5M1110.7 1360.9h5.5M1206.5 1360.9h5.5M1240.7 1360.9h5.5M1008.1 1367.7h5.5M1062.8 1367.7h5.5M1213.3 1367.7h5.5M919.2 1374.5h5.5M994.4 1374.5h5.5M1001.3 1374.5h5.5M1008.1 1374.5h5.5M1172.3 1374.5h5.5M919.2 1381.4h5.5M1103.9 1381.4h5.5M1186 1381.4h5.5M1103.9 1388.2h5.5M1192.8 1388.2h5.5M1008.1 1395.1h5.5M1035.5 1395.1h5.5M1186 1395.1h5.5M1028.6 1401.9h5.5M1042.3 1401.9h5.5M1062.8 1401.9h5.5M1083.4 1401.9h5.5M1110.7 1401.9h5.5M1213.3 1401.9h5.5M980.8 1408.7h5.5M1035.5 1408.7h5.5M919.2 1415.6h5.5M967.1 1415.6h5.5M1001.3 1415.6h5.5M1097 1415.6h5.5M1131.2 1415.6h5.5M1186 1415.6h5.5M1247.5 1415.6h5.5M967.1 1422.4h5.5M994.4 1422.4h5.5M1097 1422.4h5.5M1110.7 1422.4h5.5M980.8 1429.3h5.5M1008.1 1429.3h5.5M1015 1429.3h5.5M1035.5 1429.3h5.5M1090.2 1429.3h5.5M987.6 1436.1h5.5M1028.6 1436.1h5.5M1035.5 1436.1h5.5M1042.3 1436.1h5.5M1062.8 1436.1h5.5M1103.9 1436.1h5.5M1158.6 1436.1h5.5M926 1442.9h5.5M1035.5 1442.9h5.5M1056 1442.9h5.5M1062.8 1442.9h5.5M1103.9 1442.9h5.5M1151.8 1442.9h5.5M1199.6 1442.9h5.5M946.6 1449.8h5.5M1015 1449.8h5.5M919.2 1456.6h5.5M1049.2 1456.6h5.5M1138.1 1456.6h5.5M932.9 1463.5h5.5M953.4 1463.5h5.5M939.7 1470.3h5.5M960.2 1470.3h5.5M973.9 1470.3h5.5M987.6 1477.1h5.5M1062.8 1477.1h5.5M1076.5 1477.1h5.5M1097 1477.1h5.5M1103.9 1477.1h5.5M1151.8 1477.1h5.5M1206.5 1477.1h5.5M1062.8 1484h5.5M926 1504.5h5.5" stroke="#7a70c8"/><path d="M919.2 1183h5.5M932.9 1183h5.5M1186 1183h5.5M1199.6 1183h5.5M1186 1189.9h5.5M1144.9 1203.5h5.5M960.2 1210.4h5.5M1008.1 1210.4h5.5M1049.2 1210.4h5.5M1042.3 1217.2h5.5M1158.6 1224.1h5.5M1240.7 1230.9h5.5M994.4 1237.7h5.5M1021.8 1237.7h5.5M1240.7 1237.7h5.5M939.7 1244.6h5.5M980.8 1244.6h5.5M1144.9 1244.6h5.5M1138.1 1251.4h5.5M1172.3 1251.4h5.5M1206.5 1251.4h5.5M1110.7 1258.3h5.5M1131.2 1265.1h5.5M1117.6 1271.9h5.5M1144.9 1271.9h5.5M919.2 1278.8h5.5M1015 1278.8h5.5M1165.4 1278.8h5.5M1172.3 1278.8h5.5M1220.2 1278.8h5.5M1240.7 1285.6h5.5M932.9 1292.5h5.5M994.4 1292.5h5.5M1179.1 1292.5h5.5M1192.8 1292.5h5.5M1151.8 1299.3h5.5M1186 1299.3h5.5M946.6 1306.1h5.5M1001.3 1306.1h5.5M1206.5 1306.1h5.5M1131.2 1313h5.5M1227 1319.8h5.5M1240.7 1319.8h5.5M939.7 1326.7h5.5M1247.5 1347.2h5.5M953.4 1401.9h5.5M1247.5 1408.7h5.5M1186 1463.5h5.5M1247.5 1477.1h5.5M1213.3 1497.7h5.5M1049.2 1504.5h5.5M1069.7 1504.5h5.5M1220.2 1504.5h5.5M1247.5 1504.5h5.5" stroke="#b2c53b"/><path d="M946.6 1183h5.5M1062.8 1183h5.5M1138.1 1183h5.5M1172.3 1183h5.5M1076.5 1189.9h5.5M1117.6 1189.9h5.5M919.2 1203.5h5.5M939.7 1203.5h5.5M967.1 1203.5h5.5M1001.3 1203.5h5.5M1097 1203.5h5.5M1110.7 1203.5h5.5M1131.2 1203.5h5.5M1172.3 1203.5h5.5M1199.6 1203.5h5.5M1233.8 1203.5h5.5M926 1210.4h5.5M1110.7 1210.4h5.5M1165.4 1210.4h5.5M1213.3 1210.4h5.5M919.2 1217.2h5.5M1021.8 1217.2h5.5M1247.5 1217.2h5.5M960.2 1224.1h5.5M1035.5 1224.1h5.5M1144.9 1230.9h5.5M926 1237.7h5.5M973.9 1237.7h5.5M1247.5 1237.7h5.5M960.2 1251.4h5.5M1076.5 1251.4h5.5M1144.9 1251.4h5.5M1151.8 1251.4h5.5M1035.5 1258.3h5.5M1172.3 1258.3h5.5M1069.7 1265.1h5.5M1158.6 1265.1h5.5M1240.7 1265.1h5.5M1008.1 1271.9h5.5M1247.5 1271.9h5.5M932.9 1278.8h5.5M1117.6 1278.8h5.5M1131.2 1278.8h5.5M1138.1 1278.8h5.5M1206.5 1278.8h5.5M1227 1278.8h5.5M1247.5 1278.8h5.5M926 1285.6h5.5M1206.5 1285.6h5.5M1035.5 1292.5h5.5M1056 1292.5h5.5M1165.4 1292.5h5.5M1227 1292.5h5.5M1240.7 1292.5h5.5M1247.5 1292.5h5.5M1008.1 1299.3h5.5M1035.5 1299.3h5.5M1117.6 1299.3h5.5M1192.8 1299.3h5.5M1015 1306.1h5.5M1021.8 1306.1h5.5M1138.1 1306.1h5.5M1199.6 1306.1h5.5M1220.2 1306.1h5.5M1233.8 1306.1h5.5M926 1313h5.5M932.9 1313h5.5M973.9 1313h5.5M994.4 1313h5.5M1117.6 1313h5.5M1186 1313h5.5M1192.8 1313h5.5M1213.3 1313h5.5M987.6 1319.8h5.5M1192.8 1319.8h5.5M932.9 1326.7h5.5M1220.2 1326.7h5.5M926 1333.5h5.5M1144.9 1333.5h5.5M939.7 1340.3h5.5M1097 1340.3h5.5M1110.7 1340.3h5.5M1138.1 1340.3h5.5M1151.8 1340.3h5.5M1192.8 1340.3h5.5M1131.2 1347.2h5.5M1165.4 1347.2h5.5M1240.7 1354h5.5M1090.2 1360.9h5.5M1192.8 1367.7h5.5M1199.6 1367.7h5.5M1233.8 1367.7h5.5M926 1374.5h5.5M1090.2 1374.5h5.5M1165.4 1374.5h5.5M1179.1 1374.5h5.5M1233.8 1374.5h5.5M1247.5 1374.5h5.5M953.4 1381.4h5.5M980.8 1381.4h5.5M1090.2 1381.4h5.5M1165.4 1381.4h5.5M1206.5 1381.4h5.5M926 1388.2h5.5M953.4 1388.2h5.5M994.4 1388.2h5.5M1213.3 1388.2h5.5M1220.2 1388.2h5.5M1056 1395.1h5.5M1151.8 1395.1h5.5M1220.2 1395.1h5.5M980.8 1401.9h5.5M1192.8 1401.9h5.5M1233.8 1401.9h5.5M1008.1 1408.7h5.5M1069.7 1415.6h5.5M1179.1 1415.6h5.5M1192.8 1415.6h5.5M1220.2 1415.6h5.5M1206.5 1422.4h5.5M1138.1 1429.3h5.5M946.6 1436.1h5.5M1220.2 1436.1h5.5M1103.9 1449.8h5.5M1158.6 1449.8h5.5M1227 1449.8h5.5M1144.9 1456.6h5.5M1213.3 1456.6h5.5M926 1470.3h5.5M1144.9 1470.3h5.5M1227 1470.3h5.5M1233.8 1470.3h5.5M1001.3 1477.1h5.5M1131.2 1477.1h5.5M1233.8 1477.1h5.5M939.7 1484h5.5M1076.5 1484h5.5M1192.8 1484h5.5M953.4 1497.7h5.5M960.2 1497.7h5.5M967.1 1497.7h5.5M1083.4 1497.7h5.5M1103.9 1497.7h5.5M980.8 1504.5h5.5M994.4 1504.5h5.5M1001.3 1504.5h5.5M1090.2 1504.5h5.5" stroke="#8dd344"/><path d="M953.4 1183h5.5M919.2 1189.9h5.5M994.4 1203.5h5.5M1186 1203.5h5.5M939.7 1210.4h5.5M980.8 1210.4h5.5M994.4 1210.4h5.5M1199.6 1210.4h5.5M960.2 1217.2h5.5M926 1224.1h5.5M994.4 1230.9h5.5M1103.9 1237.7h5.5M926 1244.6h5.5M1192.8 1244.6h5.5M1220.2 1258.3h5.5M939.7 1265.1h5.5M1192.8 1278.8h5.5M1213.3 1278.8h5.5M1240.7 1278.8h5.5M1131.2 1285.6h5.5M1008.1 1292.5h5.5M1069.7 1292.5h5.5M1097 1292.5h5.5M1144.9 1292.5h5.5M1186 1292.5h5.5M1001.3 1299.3h5.5M1056 1299.3h5.5M1144.9 1299.3h5.5M1213.3 1299.3h5.5M1008.1 1306.1h5.5M1042.3 1306.1h5.5M1069.7 1306.1h5.5M1076.5 1306.1h5.5M1083.4 1306.1h5.5M1172.3 1306.1h5.5M1001.3 1313h5.5M1151.8 1313h5.5M1165.4 1313h5.5M1015 1319.8h5.5M1083.4 1319.8h5.5M1090.2 1319.8h5.5M1144.9 1319.8h5.5M1199.6 1319.8h5.5M926 1326.7h5.5M960.2 1326.7h5.5M1042.3 1326.7h5.5M1083.4 1326.7h5.5M1097 1326.7h5.5M1151.8 1326.7h5.5M1138.1 1333.5h5.5M1151.8 1333.5h5.5M1220.2 1333.5h5.5M1021.8 1340.3h5.5M1240.7 1340.3h5.5M919.2 1347.2h5.5M1138.1 1347.2h5.5M1083.4 1354h5.5M1090.2 1354h5.5M1056 1360.9h5.5M1117.6 1360.9h5.5M1131.2 1360.9h5.5M1179.1 1360.9h5.5M1247.5 1360.9h5.5M987.6 1367.7h5.5M1042.3 1367.7h5.5M1103.9 1367.7h5.5M1151.8 1367.7h5.5M1240.7 1367.7h5.5M939.7 1374.5h5.5M1021.8 1374.5h5.5M1103.9 1374.5h5.5M1213.3 1374.5h5.5M926 1381.4h5.5M960.2 1381.4h5.5M1001.3 1381.4h5.5M1083.4 1381.4h5.5M973.9 1395.1h5.5M980.8 1395.1h5.5M1001.3 1395.1h5.5M1199.6 1395.1h5.5M1240.7 1395.1h5.5M1144.9 1401.9h5.5M1247.5 1401.9h5.5M919.2 1408.7h5.5M960.2 1408.7h5.5M1097 1408.7h5.5M1138.1 1408.7h5.5M1199.6 1408.7h5.5M1233.8 1408.7h5.5M926 1415.6h5.5M1158.6 1415.6h5.5M1172.3 1415.6h5.5M1199.6 1415.6h5.5M1008.1 1422.4h5.5M1165.4 1429.3h5.5M1206.5 1429.3h5.5M1008.1 1436.1h5.5M1144.9 1436.1h5.5M1206.5 1436.1h5.5M1240.7 1436.1h5.5M939.7 1442.9h5.5M1206.5 1442.9h5.5M932.9 1456.6h5.5M1008.1 1456.6h5.5M1199.6 1456.6h5.5M939.7 1463.5h5.5M946.6 1463.5h5.5M973.9 1463.5h5.5M1062.8 1463.5h5.5M1220.2 1463.5h5.5M1240.7 1463.5h5.5M1247.5 1463.5h5.5M1165.4 1470.3h5.5M1213.3 1470.3h5.5M1220.2 1470.3h5.5M1144.9 1477.1h5.5M1213.3 1477.1h5.5M1240.7 1477.1h5.5M946.6 1484h5.5M1028.6 1484h5.5M1213.3 1484h5.5" stroke="#7ac46f"/><path d="M1206.5 1183h5.5M987.6 1189.9h5.5M1015 1203.5h5.5M1069.7 1224.1h5.5M1103.9 1251.4h5.5M1103.9 1299.3h5.5M1131.2 1299.3h5.5M1103.9 1306.1h5.5M1158.6 1306.1h5.5M1042.3 1313h5.5M1097 1313h5.5M1206.5 1313h5.5M994.4 1319.8h5.5M1008.1 1319.8h5.5M1069.7 1319.8h5.5M1021.8 1326.7h5.5M1103.9 1326.7h5.5M1110.7 1326.7h5.5M1131.2 1326.7h5.5M1158.6 1326.7h5.5M1172.3 1326.7h5.5M1199.6 1326.7h5.5M1206.5 1326.7h5.5M1227 1326.7h5.5M1240.7 1326.7h5.5M960.2 1333.5h5.5M994.4 1333.5h5.5M1028.6 1333.5h5.5M1042.3 1333.5h5.5M1172.3 1333.5h5.5M1206.5 1333.5h5.5M1240.7 1333.5h5.5M967.1 1340.3h5.5M1015 1340.3h5.5M1056 1340.3h5.5M946.6 1347.2h5.5M960.2 1347.2h5.5M973.9 1347.2h5.5M987.6 1347.2h5.5M994.4 1347.2h5.5M1008.1 1347.2h5.5M1028.6 1347.2h5.5M1035.5 1347.2h5.5M1062.8 1347.2h5.5M1158.6 1347.2h5.5M1179.1 1347.2h5.5M1220.2 1347.2h5.5M1240.7 1347.2h5.5M939.7 1354h5.5M973.9 1354h5.5M1008.1 1354h5.5M1015 1354h5.5M1021.8 1354h5.5M1028.6 1354h5.5M1144.9 1354h5.5M1179.1 1354h5.5M1213.3 1354h5.5M1220.2 1354h5.5M973.9 1360.9h5.5M980.8 1360.9h5.5M994.4 1360.9h5.5M1008.1 1360.9h5.5M1021.8 1360.9h5.5M1172.3 1360.9h5.5M1213.3 1360.9h5.5M1220.2 1360.9h5.5M953.4 1367.7h5.5M1001.3 1367.7h5.5M1117.6 1367.7h5.5M1158.6 1367.7h5.5M1206.5 1367.7h5.5M932.9 1374.5h5.5M953.4 1374.5h5.5M967.1 1374.5h5.5M1035.5 1374.5h5.5M1049.2 1374.5h5.5M1056 1374.5h5.5M1131.2 1374.5h5.5M987.6 1381.4h5.5M994.4 1381.4h5.5M1021.8 1381.4h5.5M1028.6 1381.4h5.5M1042.3 1381.4h5.5M1049.2 1381.4h5.5M1056 1381.4h5.5M1151.8 1381.4h5.5M1172.3 1381.4h5.5M1179.1 1381.4h5.5M1028.6 1388.2h5.5M1049.2 1388.2h5.5M1083.4 1388.2h5.5M1097 1388.2h5.5M1144.9 1388.2h5.5M987.6 1395.1h5.5M1103.9 1395.1h5.5M1172.3 1395.1h5.5M1192.8 1395.1h5.5M967.1 1401.9h5.5M973.9 1401.9h5.5M1021.8 1401.9h5.5M1090.2 1401.9h5.5M1117.6 1401.9h5.5M1138.1 1401.9h5.5M1172.3 1401.9h5.5M1179.1 1401.9h5.5M973.9 1408.7h5.5M987.6 1408.7h5.5M1056 1408.7h5.5M1083.4 1408.7h5.5M1151.8 1408.7h5.5M1172.3 1408.7h5.5M1206.5 1408.7h5.5M939.7 1415.6h5.5M980.8 1415.6h5.5M1015 1415.6h5.5M1035.5 1415.6h5.5M1049.2 1415.6h5.5M1056 1415.6h5.5M1062.8 1415.6h5.5M1138.1 1415.6h5.5M973.9 1422.4h5.5M980.8 1422.4h5.5M1028.6 1422.4h5.5M1042.3 1422.4h5.5M1049.2 1422.4h5.5M1062.8 1422.4h5.5M1069.7 1422.4h5.5M1076.5 1422.4h5.5M1117.6 1422.4h5.5M1131.2 1422.4h5.5M1144.9 1422.4h5.5M953.4 1429.3h5.5M973.9 1429.3h5.5M987.6 1429.3h5.5M1021.8 1429.3h5.5M1028.6 1429.3h5.5M1049.2 1429.3h5.5M1056 1429.3h5.5M1076.5 1429.3h5.5M1103.9 1429.3h5.5M1172.3 1429.3h5.5M932.9 1436.1h5.5M1021.8 1436.1h5.5M1069.7 1436.1h5.5M1097 1436.1h5.5M1117.6 1436.1h5.5M932.9 1442.9h5.5M953.4 1442.9h5.5M960.2 1442.9h5.5M980.8 1442.9h5.5M1001.3 1442.9h5.5M1076.5 1442.9h5.5M1090.2 1442.9h5.5M1192.8 1442.9h5.5M919.2 1449.8h5.5M994.4 1449.8h5.5M1001.3 1449.8h5.5M1028.6 1449.8h5.5M1049.2 1449.8h5.5M1056 1449.8h5.5M1110.7 1449.8h5.5M946.6 1456.6h5.5M1021.8 1456.6h5.5M1056 1456.6h5.5M1069.7 1456.6h5.5M1103.9 1456.6h5.5M1179.1 1456.6h5.5M926 1463.5h5.5M994.4 1463.5h5.5M1021.8 1463.5h5.5M1069.7 1463.5h5.5M1103.9 1463.5h5.5M1151.8 1463.5h5.5M1165.4 1463.5h5.5M1199.6 1463.5h5.5M919.2 1470.3h5.5M953.4 1470.3h5.5M1042.3 1470.3h5.5M1090.2 1470.3h5.5M1192.8 1470.3h5.5M1199.6 1470.3h5.5M932.9 1477.1h5.5M939.7 1477.1h5.5M946.6 1477.1h5.5M967.1 1477.1h5.5M994.4 1477.1h5.5M1035.5 1477.1h5.5M1069.7 1477.1h5.5M1083.4 1477.1h5.5M1090.2 1477.1h5.5M1158.6 1477.1h5.5M1165.4 1477.1h5.5M1227 1477.1h5.5M919.2 1484h5.5M967.1 1484h5.5M980.8 1484h5.5M1049.2 1484h5.5M1144.9 1484h5.5M1151.8 1484h5.5M1172.3 1484h5.5M919.2 1497.7h5.5M926 1497.7h5.5M932.9 1497.7h5.5M946.6 1497.7h5.5M919.2 1504.5h5.5M1227 1504.5h5.5" stroke="#4050b6"/><path d="M960.2 1203.5h5.5M1028.6 1210.4h5.5M1151.8 1210.4h5.5M932.9 1224.1h5.5M1165.4 1224.1h5.5M1035.5 1230.9h5.5M1035.5 1237.7h5.5M1042.3 1237.7h5.5M1097 1237.7h5.5M1186 1244.6h5.5M932.9 1251.4h5.5M1083.4 1251.4h5.5M953.4 1265.1h5.5M926 1278.8h5.5M1042.3 1285.6h5.5M960.2 1306.1h5.5M1144.9 1347.2h5.5M1227 1388.2h5.5M1213.3 1436.1h5.5M1247.5 1470.3h5.5" stroke="#c7a23b"/><path d="M1151.8 1203.5h5.5M946.6 1210.4h5.5M926 1217.2h5.5M967.1 1217.2h5.5M1008.1 1217.2h5.5M1131.2 1224.1h5.5M919.2 1244.6h5.5M1220.2 1265.1h5.5M932.9 1271.9h5.5M1062.8 1271.9h5.5M1083.4 1278.8h5.5M1090.2 1278.8h5.5M1056 1285.6h5.5M1028.6 1292.5h5.5M1117.6 1292.5h5.5M1158.6 1292.5h5.5M1090.2 1299.3h5.5M926 1306.1h5.5M1049.2 1306.1h5.5M1165.4 1306.1h5.5M1192.8 1306.1h5.5M980.8 1313h5.5M1083.4 1313h5.5M1138.1 1313h5.5M1144.9 1313h5.5M1220.2 1313h5.5M953.4 1319.8h5.5M994.4 1326.7h5.5M1028.6 1326.7h5.5M1247.5 1326.7h5.5M932.9 1333.5h5.5M967.1 1333.5h5.5M987.6 1333.5h5.5M1001.3 1333.5h5.5M1110.7 1333.5h5.5M1199.6 1333.5h5.5M926 1340.3h5.5M932.9 1340.3h5.5M1165.4 1340.3h5.5M1179.1 1340.3h5.5M1233.8 1340.3h5.5M1247.5 1340.3h5.5M980.8 1347.2h5.5M919.2 1354h5.5M1199.6 1354h5.5M932.9 1360.9h5.5M1062.8 1360.9h5.5M1021.8 1367.7h5.5M1151.8 1374.5h5.5M1199.6 1374.5h5.5M1227 1374.5h5.5M1110.7 1381.4h5.5M1117.6 1381.4h5.5M1144.9 1381.4h5.5M1240.7 1381.4h5.5M960.2 1388.2h5.5M980.8 1388.2h5.5M1076.5 1388.2h5.5M1179.1 1388.2h5.5M946.6 1395.1h5.5M967.1 1395.1h5.5M1097 1395.1h5.5M1165.4 1395.1h5.5M946.6 1401.9h5.5M1035.5 1401.9h5.5M1097 1401.9h5.5M1021.8 1415.6h5.5M1206.5 1415.6h5.5M939.7 1422.4h5.5M1090.2 1422.4h5.5M1172.3 1422.4h5.5M1179.1 1422.4h5.5M1165.4 1436.1h5.5M1186 1436.1h5.5M1110.7 1442.9h5.5M1144.9 1442.9h5.5M1172.3 1442.9h5.5M1220.2 1442.9h5.5M1131.2 1449.8h5.5M1186 1449.8h5.5M1192.8 1449.8h5.5M1172.3 1456.6h5.5M1192.8 1456.6h5.5M1233.8 1456.6h5.5M1240.7 1456.6h5.5M919.2 1463.5h5.5M960.2 1463.5h5.5M1001.3 1463.5h5.5M1049.2 1463.5h5.5M1076.5 1470.3h5.5M1083.4 1470.3h5.5M1151.8 1470.3h5.5M1206.5 1470.3h5.5M1240.7 1470.3h5.5M1028.6 1497.7h5.5M1097 1504.5h5.5" stroke="#7bbb87"/><path d="M1008.1 1230.9h5.5M1097 1251.4h5.5M946.6 1292.5h5.5M1062.8 1292.5h5.5M1028.6 1306.1h5.5M1097 1306.1h5.5M1117.6 1306.1h5.5M1035.5 1313h5.5M1062.8 1313h5.5M1199.6 1313h5.5M1042.3 1319.8h5.5M1056 1319.8h5.5M1158.6 1319.8h5.5M1172.3 1319.8h5.5M1056 1326.7h5.5M1062.8 1326.7h5.5M1069.7 1326.7h5.5M1158.6 1333.5h5.5M1008.1 1340.3h5.5M1028.6 1340.3h5.5M932.9 1347.2h5.5M1110.7 1347.2h5.5M1117.6 1347.2h5.5M1151.8 1347.2h5.5M1213.3 1347.2h5.5M994.4 1354h5.5M1001.3 1354h5.5M1062.8 1354h5.5M1069.7 1354h5.5M987.6 1360.9h5.5M967.1 1367.7h5.5M980.8 1367.7h5.5M987.6 1374.5h5.5M1028.6 1374.5h5.5M1062.8 1374.5h5.5M1186 1374.5h5.5M1247.5 1381.4h5.5M973.9 1388.2h5.5M1008.1 1388.2h5.5M1056 1388.2h5.5M1090.2 1388.2h5.5M1151.8 1388.2h5.5M1015 1395.1h5.5M1028.6 1395.1h5.5M1042.3 1395.1h5.5M1049.2 1395.1h5.5M1062.8 1395.1h5.5M1110.7 1395.1h5.5M960.2 1401.9h5.5M994.4 1401.9h5.5M1015 1401.9h5.5M1227 1401.9h5.5M926 1408.7h5.5M1001.3 1408.7h5.5M1049.2 1408.7h5.5M946.6 1415.6h5.5M1076.5 1415.6h5.5M1103.9 1415.6h5.5M926 1422.4h5.5M1015 1422.4h5.5M1158.6 1422.4h5.5M1233.8 1422.4h5.5M1062.8 1429.3h5.5M1144.9 1429.3h5.5M1158.6 1429.3h5.5M973.9 1436.1h5.5M1049.2 1436.1h5.5M1056 1436.1h5.5M1083.4 1436.1h5.5M1192.8 1436.1h5.5M1028.6 1442.9h5.5M1042.3 1442.9h5.5M1083.4 1442.9h5.5M1117.6 1442.9h5.5M1131.2 1442.9h5.5M1179.1 1442.9h5.5M1233.8 1442.9h5.5M1247.5 1442.9h5.5M953.4 1449.8h5.5M967.1 1449.8h5.5M1021.8 1449.8h5.5M1035.5 1449.8h5.5M1062.8 1449.8h5.5M1097 1449.8h5.5M1138.1 1449.8h5.5M1144.9 1449.8h5.5M1151.8 1449.8h5.5M1110.7 1456.6h5.5M1138.1 1463.5h5.5M1172.3 1463.5h5.5M1179.1 1463.5h5.5M980.8 1470.3h5.5M1008.1 1470.3h5.5M1069.7 1470.3h5.5M1158.6 1470.3h5.5M919.2 1477.1h5.5M973.9 1477.1h5.5M1179.1 1477.1h5.5M926 1484h5.5M939.7 1504.5h5.5" stroke="#4c56ba"/></g>
<g fill="none" stroke-width="5.5"><path d="M1385.2 1176.2h5.5M1392 1176.2h5.5M1439.9 1176.2h5.5M1446.8 1183h5.5M1494.6 1183h5.5M1563 1183h5.5M1522 1189.9h5.5M1597.2 1189.9h5.5M1652 1189.9h5.5M1672.5 1189.9h5.5M1679.3 1189.9h5.5M1686.2 1189.9h5.5M1494.6 1203.5h5.5M1522 1203.5h5.5M1597.2 1203.5h5.5M1610.9 1203.5h5.5M1686.2 1203.5h5.5M1385.2 1210.4h5.5M1392 1210.4h5.5M1481 1210.4h5.5M1522 1210.4h5.5M1706.7 1210.4h5.5M1713.5 1210.4h5.5M1419.4 1217.2h5.5M1494.6 1217.2h5.5M1665.6 1217.2h5.5M1460.4 1224.1h5.5M1679.3 1224.1h5.5M1686.2 1224.1h5.5M1398.9 1230.9h5.5M1405.7 1230.9h5.5M1487.8 1230.9h5.5M1549.4 1230.9h5.5M1652 1230.9h5.5M1679.3 1230.9h5.5M1563 1237.7h5.5M1693 1237.7h5.5M1706.7 1237.7h5.5M1385.2 1244.6h5.5M1597.2 1244.6h5.5M1515.2 1251.4h5.5M1549.4 1251.4h5.5M1556.2 1251.4h5.5M1576.7 1251.4h5.5M1604.1 1251.4h5.5M1624.6 1251.4h5.5M1645.1 1251.4h5.5M1439.9 1258.3h5.5M1392 1265.1h5.5M1576.7 1265.1h5.5M1385.2 1271.9h5.5M1405.7 1271.9h5.5M1426.2 1271.9h5.5M1515.2 1271.9h5.5M1576.7 1271.9h5.5M1624.6 1271.9h5.5M1672.5 1271.9h5.5M1686.2 1271.9h5.5M1699.8 1271.9h5.5M1706.7 1271.9h5.5M1398.9 1278.8h5.5M1446.8 1278.8h5.5M1569.9 1278.8h5.5M1645.1 1278.8h5.5M1665.6 1278.8h5.5M1398.9 1285.6h5.5M1460.4 1285.6h5.5M1467.3 1285.6h5.5M1474.1 1285.6h5.5M1597.2 1285.6h5.5M1610.9 1285.6h5.5M1617.8 1285.6h5.5M1713.5 1285.6h5.5M1604.1 1292.5h5.5M1617.8 1292.5h5.5M1706.7 1292.5h5.5M1392 1299.3h5.5M1426.2 1299.3h5.5M1433.1 1299.3h5.5M1439.9 1299.3h5.5M1467.3 1299.3h5.5M1610.9 1299.3h5.5M1617.8 1299.3h5.5M1645.1 1299.3h5.5M1494.6 1306.1h5.5M1631.4 1306.1h5.5M1638.3 1306.1h5.5M1679.3 1306.1h5.5M1433.1 1313h5.5M1501.5 1313h5.5M1699.8 1313h5.5M1426.2 1319.8h5.5M1460.4 1319.8h5.5M1474.1 1319.8h5.5M1487.8 1319.8h5.5M1522 1319.8h5.5M1535.7 1319.8h5.5M1610.9 1319.8h5.5M1665.6 1319.8h5.5M1706.7 1319.8h5.5M1583.6 1326.7h5.5M1672.5 1326.7h5.5M1699.8 1326.7h5.5M1494.6 1333.5h5.5M1522 1333.5h5.5M1604.1 1333.5h5.5M1631.4 1333.5h5.5M1638.3 1333.5h5.5M1693 1333.5h5.5M1706.7 1333.5h5.5M1713.5 1333.5h5.5M1515.2 1340.3h5.5M1522 1340.3h5.5M1535.7 1340.3h5.5M1556.2 1340.3h5.5M1693 1340.3h5.5M1446.8 1347.2h5.5M1556.2 1347.2h5.5M1385.2 1360.9h5.5M1576.7 1360.9h5.5M1583.6 1360.9h5.5M1604.1 1360.9h5.5M1679.3 1360.9h5.5M1713.5 1360.9h5.5M1439.9 1367.7h5.5M1474.1 1367.7h5.5M1610.9 1367.7h5.5M1693 1367.7h5.5M1501.5 1374.5h5.5M1522 1374.5h5.5M1693 1374.5h5.5M1467.3 1381.4h5.5M1522 1381.4h5.5M1597.2 1381.4h5.5M1638.3 1381.4h5.5M1713.5 1381.4h5.5M1426.2 1388.2h5.5M1487.8 1388.2h5.5M1569.9 1388.2h5.5M1583.6 1388.2h5.5M1672.5 1388.2h5.5M1706.7 1388.2h5.5M1453.6 1395.1h5.5M1693 1395.1h5.5M1699.8 1395.1h5.5M1392 1401.9h5.5M1645.1 1401.9h5.5M1392 1408.7h5.5M1405.7 1408.7h5.5M1494.6 1408.7h5.5M1501.5 1408.7h5.5M1515.2 1408.7h5.5M1576.7 1408.7h5.5M1658.8 1408.7h5.5M1597.2 1415.6h5.5M1679.3 1415.6h5.5M1713.5 1415.6h5.5M1686.2 1422.4h5.5M1467.3 1429.3h5.5M1699.8 1429.3h5.5M1610.9 1436.1h5.5M1658.8 1436.1h5.5M1658.8 1442.9h5.5M1385.2 1449.8h5.5M1610.9 1449.8h5.5M1693 1449.8h5.5M1699.8 1449.8h5.5M1398.9 1456.6h5.5M1412.6 1456.6h5.5M1487.8 1456.6h5.5M1494.6 1456.6h5.5M1515.2 1456.6h5.5M1522 1456.6h5.5M1665.6 1456.6h5.5M1385.2 1463.5h5.5M1398.9 1463.5h5.5M1501.5 1463.5h5.5M1508.3 1463.5h5.5M1535.7 1463.5h5.5M1658.8 1463.5h5.5M1474.1 1470.3h5.5M1487.8 1470.3h5.5M1494.6 1470.3h5.5M1645.1 1470.3h5.5M1699.8 1470.3h5.5M1453.6 1477.1h5.5M1508.3 1477.1h5.5M1528.8 1477.1h5.5M1446.8 1484h5.5M1501.5 1484h5.5M1398.9 1504.5h5.5" stroke="#8dd344"/><path d="M1398.9 1176.2h5.5M1522 1176.2h5.5M1617.8 1176.2h5.5M1624.6 1176.2h5.5M1638.3 1176.2h5.5M1652 1176.2h5.5M1693 1176.2h5.5M1460.4 1183h5.5M1474.1 1183h5.5M1487.8 1183h5.5M1610.9 1183h5.5M1713.5 1183h5.5M1392 1189.9h5.5M1460.4 1189.9h5.5M1699.8 1189.9h5.5M1474.1 1203.5h5.5M1569.9 1203.5h5.5M1583.6 1203.5h5.5M1638.3 1203.5h5.5M1453.6 1210.4h5.5M1474.1 1210.4h5.5M1563 1210.4h5.5M1576.7 1210.4h5.5M1597.2 1210.4h5.5M1638.3 1210.4h5.5M1481 1217.2h5.5M1515.2 1217.2h5.5M1583.6 1217.2h5.5M1446.8 1224.1h5.5M1453.6 1224.1h5.5M1467.3 1224.1h5.5M1515.2 1224.1h5.5M1542.5 1224.1h5.5M1583.6 1224.1h5.5M1631.4 1224.1h5.5M1392 1230.9h5.5M1433.1 1230.9h5.5M1446.8 1230.9h5.5M1501.5 1230.9h5.5M1645.1 1230.9h5.5M1439.9 1237.7h5.5M1467.3 1237.7h5.5M1501.5 1237.7h5.5M1522 1237.7h5.5M1535.7 1237.7h5.5M1549.4 1237.7h5.5M1556.2 1237.7h5.5M1610.9 1237.7h5.5M1405.7 1244.6h5.5M1439.9 1244.6h5.5M1487.8 1244.6h5.5M1508.3 1244.6h5.5M1528.8 1244.6h5.5M1665.6 1244.6h5.5M1699.8 1244.6h5.5M1412.6 1251.4h5.5M1467.3 1251.4h5.5M1474.1 1251.4h5.5M1494.6 1251.4h5.5M1446.8 1258.3h5.5M1460.4 1258.3h5.5M1474.1 1258.3h5.5M1508.3 1258.3h5.5M1631.4 1258.3h5.5M1672.5 1258.3h5.5M1426.2 1265.1h5.5M1439.9 1265.1h5.5M1528.8 1265.1h5.5M1672.5 1265.1h5.5M1412.6 1271.9h5.5M1487.8 1271.9h5.5M1638.3 1278.8h5.5M1563 1285.6h5.5M1624.6 1292.5h5.5M1460.4 1313h5.5M1549.4 1354h5.5M1405.7 1367.7h5.5M1467.3 1367.7h5.5M1467.3 1374.5h5.5M1604.1 1401.9h5.5M1658.8 1401.9h5.5M1713.5 1401.9h5.5M1419.4 1436.1h5.5M1556.2 1442.9h5.5M1665.6 1449.8h5.5M1624.6 1456.6h5.5M1419.4 1470.3h5.5M1433.1 1470.3h5.5M1398.9 1477.1h5.5M1426.2 1477.1h5.5M1672.5 1477.1h5.5M1699.8 1477.1h5.5M1706.7 1477.1h5.5M1385.2 1484h5.5M1412.6 1484h5.5M1433.1 1484h5.5M1535.7 1484h5.5M1563 1484h5.5M1576.7 1484h5.5M1583.6 1484h5.5M1597.2 1484h5.5M1617.8 1484h5.5M1658.8 1484h5.5M1665.6 1484h5.5M1672.5 1484h5.5M1679.3 1484h5.5M1693 1484h5.5M1713.5 1484h5.5M1439.9 1497.7h5.5M1453.6 1497.7h5.5M1460.4 1497.7h5.5M1474.1 1497.7h5.5M1494.6 1497.7h5.5M1542.5 1497.7h5.5M1604.1 1497.7h5.5M1610.9 1497.7h5.5M1658.8 1497.7h5.5M1672.5 1497.7h5.5M1679.3 1497.7h5.5M1713.5 1497.7h5.5M1439.9 1504.5h5.5M1446.8 1504.5h5.5M1453.6 1504.5h5.5M1467.3 1504.5h5.5M1474.1 1504.5h5.5M1494.6 1504.5h5.5M1501.5 1504.5h5.5M1535.7 1504.5h5.5M1549.4 1504.5h5.5M1583.6 1504.5h5.5M1597.2 1504.5h5.5M1645.1 1504.5h5.5M1665.6 1504.5h5.5M1679.3 1504.5h5.5M1706.7 1504.5h5.5" stroke="#e52e28"/><path d="M1405.7 1176.2h5.5M1467.3 1176.2h5.5M1501.5 1176.2h5.5M1535.7 1183h5.5M1652 1183h5.5M1508.3 1189.9h5.5M1583.6 1189.9h5.5M1713.5 1203.5h5.5M1460.4 1210.4h5.5M1658.8 1217.2h5.5M1392 1224.1h5.5M1508.3 1224.1h5.5M1522 1224.1h5.5M1604.1 1224.1h5.5M1481 1230.9h5.5M1494.6 1230.9h5.5M1658.8 1230.9h5.5M1693 1230.9h5.5M1446.8 1237.7h5.5M1604.1 1237.7h5.5M1686.2 1237.7h5.5M1392 1244.6h5.5M1501.5 1244.6h5.5M1652 1244.6h5.5M1446.8 1251.4h5.5M1460.4 1251.4h5.5M1597.2 1251.4h5.5M1658.8 1251.4h5.5M1693 1251.4h5.5M1481 1258.3h5.5M1405.7 1265.1h5.5M1563 1265.1h5.5M1631.4 1265.1h5.5M1645.1 1265.1h5.5M1433.1 1271.9h5.5M1563 1271.9h5.5M1597.2 1271.9h5.5M1412.6 1278.8h5.5M1583.6 1278.8h5.5M1624.6 1278.8h5.5M1439.9 1285.6h5.5M1398.9 1299.3h5.5M1405.7 1313h5.5M1645.1 1319.8h5.5M1672.5 1319.8h5.5M1563 1326.7h5.5M1604.1 1326.7h5.5M1522 1367.7h5.5M1583.6 1367.7h5.5M1652 1374.5h5.5M1686.2 1374.5h5.5M1405.7 1381.4h5.5M1672.5 1381.4h5.5M1631.4 1395.1h5.5M1699.8 1408.7h5.5M1528.8 1415.6h5.5M1693 1436.1h5.5M1597.2 1442.9h5.5M1385.2 1456.6h5.5M1686.2 1456.6h5.5M1439.9 1470.3h5.5M1535.7 1470.3h5.5M1385.2 1477.1h5.5M1535.7 1477.1h5.5M1604.1 1477.1h5.5M1624.6 1477.1h5.5M1419.4 1484h5.5M1569.9 1484h5.5M1528.8 1497.7h5.5M1419.4 1504.5h5.5" stroke="#b2c53b"/><path d="M1412.6 1176.2h5.5M1508.3 1176.2h5.5M1535.7 1176.2h5.5M1556.2 1183h5.5M1631.4 1183h5.5M1679.3 1183h5.5M1426.2 1189.9h5.5M1474.1 1189.9h5.5M1528.8 1189.9h5.5M1542.5 1189.9h5.5M1617.8 1189.9h5.5M1576.7 1203.5h5.5M1699.8 1203.5h5.5M1528.8 1210.4h5.5M1569.9 1210.4h5.5M1631.4 1210.4h5.5M1645.1 1210.4h5.5M1542.5 1217.2h5.5M1563 1217.2h5.5M1597.2 1224.1h5.5M1638.3 1224.1h5.5M1419.4 1230.9h5.5M1569.9 1230.9h5.5M1494.6 1237.7h5.5M1542.5 1237.7h5.5M1419.4 1244.6h5.5M1446.8 1244.6h5.5M1453.6 1244.6h5.5M1481 1244.6h5.5M1569.9 1244.6h5.5M1426.2 1251.4h5.5M1433.1 1251.4h5.5M1583.6 1251.4h5.5M1672.5 1251.4h5.5M1433.1 1258.3h5.5M1453.6 1258.3h5.5M1501.5 1258.3h5.5M1522 1258.3h5.5M1522 1265.1h5.5M1494.6 1271.9h5.5M1549.4 1313h5.5M1487.8 1326.7h5.5M1501.5 1395.1h5.5M1645.1 1395.1h5.5M1412.6 1470.3h5.5M1446.8 1470.3h5.5M1439.9 1477.1h5.5M1467.3 1477.1h5.5M1549.4 1477.1h5.5M1693 1477.1h5.5M1392 1484h5.5M1405.7 1484h5.5M1426.2 1484h5.5M1508.3 1484h5.5M1515.2 1484h5.5M1522 1484h5.5M1549.4 1484h5.5M1624.6 1484h5.5M1699.8 1484h5.5M1446.8 1497.7h5.5M1467.3 1497.7h5.5M1522 1497.7h5.5M1556.2 1497.7h5.5M1576.7 1497.7h5.5M1597.2 1497.7h5.5M1638.3 1497.7h5.5M1426.2 1504.5h5.5M1658.8 1504.5h5.5M1713.5 1504.5h5.5" stroke="#e6452a"/><path d="M1419.4 1176.2h5.5M1433.1 1176.2h5.5M1494.6 1176.2h5.5M1549.4 1176.2h5.5M1576.7 1176.2h5.5M1412.6 1183h5.5M1426.2 1183h5.5M1494.6 1189.9h5.5M1433.1 1203.5h5.5M1446.8 1203.5h5.5M1494.6 1210.4h5.5M1535.7 1210.4h5.5M1549.4 1210.4h5.5M1679.3 1210.4h5.5M1412.6 1217.2h5.5M1460.4 1217.2h5.5M1610.9 1217.2h5.5M1699.8 1217.2h5.5M1405.7 1224.1h5.5M1713.5 1224.1h5.5M1638.3 1230.9h5.5M1699.8 1230.9h5.5M1658.8 1237.7h5.5M1556.2 1244.6h5.5M1576.7 1244.6h5.5M1706.7 1244.6h5.5M1392 1251.4h5.5M1563 1251.4h5.5M1679.3 1251.4h5.5M1487.8 1258.3h5.5M1597.2 1258.3h5.5M1652 1258.3h5.5M1665.6 1258.3h5.5M1693 1258.3h5.5M1419.4 1265.1h5.5M1515.2 1265.1h5.5M1549.4 1265.1h5.5M1597.2 1265.1h5.5M1665.6 1265.1h5.5M1693 1265.1h5.5M1706.7 1265.1h5.5M1419.4 1271.9h5.5M1501.5 1271.9h5.5M1556.2 1271.9h5.5M1610.9 1271.9h5.5M1631.4 1271.9h5.5M1638.3 1271.9h5.5M1392 1278.8h5.5M1474.1 1278.8h5.5M1494.6 1278.8h5.5M1617.8 1278.8h5.5M1604.1 1285.6h5.5M1652 1285.6h5.5M1392 1292.5h5.5M1453.6 1292.5h5.5M1481 1292.5h5.5M1494.6 1292.5h5.5M1604.1 1299.3h5.5M1652 1299.3h5.5M1706.7 1299.3h5.5M1556.2 1306.1h5.5M1658.8 1306.1h5.5M1528.8 1313h5.5M1624.6 1313h5.5M1638.3 1313h5.5M1652 1313h5.5M1658.8 1313h5.5M1556.2 1319.8h5.5M1617.8 1319.8h5.5M1679.3 1319.8h5.5M1686.2 1319.8h5.5M1699.8 1319.8h5.5M1494.6 1326.7h5.5M1638.3 1326.7h5.5M1645.1 1326.7h5.5M1693 1326.7h5.5M1569.9 1333.5h5.5M1652 1333.5h5.5M1398.9 1340.3h5.5M1501.5 1340.3h5.5M1549.4 1340.3h5.5M1576.7 1347.2h5.5M1713.5 1347.2h5.5M1556.2 1354h5.5M1576.7 1354h5.5M1645.1 1354h5.5M1658.8 1354h5.5M1412.6 1360.9h5.5M1446.8 1360.9h5.5M1542.5 1360.9h5.5M1699.8 1360.9h5.5M1487.8 1367.7h5.5M1672.5 1367.7h5.5M1508.3 1374.5h5.5M1604.1 1374.5h5.5M1610.9 1374.5h5.5M1658.8 1374.5h5.5M1412.6 1381.4h5.5M1501.5 1381.4h5.5M1576.7 1381.4h5.5M1583.6 1381.4h5.5M1658.8 1381.4h5.5M1392 1388.2h5.5M1439.9 1388.2h5.5M1693 1388.2h5.5M1392 1395.1h5.5M1474.1 1395.1h5.5M1556.2 1395.1h5.5M1610.9 1395.1h5.5M1658.8 1395.1h5.5M1405.7 1401.9h5.5M1481 1401.9h5.5M1494.6 1401.9h5.5M1631.4 1401.9h5.5M1672.5 1401.9h5.5M1446.8 1408.7h5.5M1467.3 1408.7h5.5M1556.2 1408.7h5.5M1713.5 1408.7h5.5M1474.1 1415.6h5.5M1494.6 1415.6h5.5M1522 1415.6h5.5M1549.4 1415.6h5.5M1617.8 1415.6h5.5M1706.7 1415.6h5.5M1433.1 1422.4h5.5M1467.3 1422.4h5.5M1385.2 1442.9h5.5M1412.6 1442.9h5.5M1433.1 1442.9h5.5M1474.1 1442.9h5.5M1487.8 1442.9h5.5M1549.4 1442.9h5.5M1645.1 1442.9h5.5M1453.6 1456.6h5.5M1481 1456.6h5.5M1563 1456.6h5.5M1693 1456.6h5.5M1699.8 1456.6h5.5M1412.6 1463.5h5.5M1453.6 1463.5h5.5M1460.4 1463.5h5.5M1487.8 1463.5h5.5M1542.5 1463.5h5.5M1617.8 1463.5h5.5M1672.5 1463.5h5.5M1508.3 1470.3h5.5M1556.2 1470.3h5.5M1604.1 1470.3h5.5M1672.5 1470.3h5.5M1522 1477.1h5.5" stroke="#7ac46f"/><path d="M1426.2 1176.2h5.5M1556.2 1176.2h5.5M1699.8 1176.2h5.5M1385.2 1183h5.5M1467.3 1189.9h5.5M1412.6 1203.5h5.5M1385.2 1224.1h5.5M1556.2 1224.1h5.5M1515.2 1230.9h5.5M1604.1 1230.9h5.5M1624.6 1230.9h5.5M1576.7 1237.7h5.5M1652 1237.7h5.5M1713.5 1237.7h5.5M1392 1258.3h5.5M1699.8 1258.3h5.5M1487.8 1265.1h5.5M1624.6 1265.1h5.5M1652 1265.1h5.5M1713.5 1265.1h5.5M1467.3 1271.9h5.5M1528.8 1271.9h5.5M1569.9 1271.9h5.5M1439.9 1278.8h5.5M1487.8 1278.8h5.5M1597.2 1278.8h5.5M1658.8 1278.8h5.5M1412.6 1285.6h5.5M1433.1 1285.6h5.5M1487.8 1285.6h5.5M1522 1285.6h5.5M1556.2 1285.6h5.5M1426.2 1292.5h5.5M1487.8 1292.5h5.5M1419.4 1299.3h5.5M1446.8 1299.3h5.5M1474.1 1299.3h5.5M1494.6 1299.3h5.5M1658.8 1299.3h5.5M1398.9 1306.1h5.5M1453.6 1306.1h5.5M1569.9 1306.1h5.5M1699.8 1306.1h5.5M1597.2 1313h5.5M1398.9 1319.8h5.5M1549.4 1319.8h5.5M1392 1326.7h5.5M1535.7 1326.7h5.5M1569.9 1326.7h5.5M1658.8 1326.7h5.5M1405.7 1333.5h5.5M1542.5 1333.5h5.5M1474.1 1340.3h5.5M1494.6 1340.3h5.5M1528.8 1340.3h5.5M1631.4 1340.3h5.5M1494.6 1347.2h5.5M1610.9 1347.2h5.5M1617.8 1347.2h5.5M1638.3 1347.2h5.5M1679.3 1347.2h5.5M1405.7 1354h5.5M1433.1 1354h5.5M1535.7 1354h5.5M1610.9 1354h5.5M1617.8 1354h5.5M1699.8 1354h5.5M1405.7 1360.9h5.5M1501.5 1360.9h5.5M1535.7 1360.9h5.5M1645.1 1360.9h5.5M1665.6 1360.9h5.5M1693 1360.9h5.5M1433.1 1367.7h5.5M1542.5 1367.7h5.5M1576.7 1367.7h5.5M1638.3 1367.7h5.5M1645.1 1367.7h5.5M1679.3 1374.5h5.5M1481 1381.4h5.5M1542.5 1381.4h5.5M1686.2 1381.4h5.5M1385.2 1388.2h5.5M1481 1388.2h5.5M1556.2 1388.2h5.5M1576.7 1388.2h5.5M1576.7 1395.1h5.5M1652 1395.1h5.5M1433.1 1401.9h5.5M1686.2 1401.9h5.5M1439.9 1408.7h5.5M1522 1408.7h5.5M1542.5 1408.7h5.5M1624.6 1408.7h5.5M1419.4 1415.6h5.5M1439.9 1415.6h5.5M1617.8 1422.4h5.5M1522 1436.1h5.5M1508.3 1442.9h5.5M1522 1442.9h5.5M1624.6 1442.9h5.5M1460.4 1449.8h5.5M1549.4 1449.8h5.5M1569.9 1449.8h5.5M1576.7 1449.8h5.5M1583.6 1449.8h5.5M1617.8 1449.8h5.5M1446.8 1456.6h5.5M1583.6 1456.6h5.5M1426.2 1463.5h5.5M1549.4 1463.5h5.5M1645.1 1463.5h5.5M1699.8 1463.5h5.5M1638.3 1477.1h5.5M1412.6 1504.5h5.5" stroke="#7bbb87"/><path d="M1446.8 1176.2h5.5M1453.6 1176.2h5.5M1481 1176.2h5.5M1515.2 1176.2h5.5M1542.5 1176.2h5.5M1569.9 1176.2h5.5M1645.1 1176.2h5.5M1672.5 1176.2h5.5M1679.3 1176.2h5.5M1398.9 1183h5.5M1453.6 1183h5.5M1467.3 1183h5.5M1481 1183h5.5M1501.5 1183h5.5M1569.9 1183h5.5M1576.7 1183h5.5M1385.2 1189.9h5.5M1405.7 1189.9h5.5M1487.8 1189.9h5.5M1569.9 1189.9h5.5M1576.7 1189.9h5.5M1645.1 1189.9h5.5M1693 1189.9h5.5M1706.7 1189.9h5.5M1419.4 1203.5h5.5M1426.2 1203.5h5.5M1453.6 1203.5h5.5M1467.3 1203.5h5.5M1535.7 1203.5h5.5M1542.5 1203.5h5.5M1563 1203.5h5.5M1706.7 1203.5h5.5M1433.1 1210.4h5.5M1446.8 1210.4h5.5M1658.8 1210.4h5.5M1467.3 1217.2h5.5M1535.7 1217.2h5.5M1569.9 1217.2h5.5M1398.9 1224.1h5.5M1433.1 1224.1h5.5M1610.9 1224.1h5.5M1672.5 1224.1h5.5M1508.3 1230.9h5.5M1528.8 1230.9h5.5M1610.9 1230.9h5.5M1672.5 1230.9h5.5M1706.7 1230.9h5.5M1713.5 1230.9h5.5M1398.9 1237.7h5.5M1515.2 1237.7h5.5M1638.3 1237.7h5.5M1665.6 1237.7h5.5M1617.8 1244.6h5.5M1638.3 1244.6h5.5M1679.3 1244.6h5.5M1713.5 1244.6h5.5M1405.7 1251.4h5.5M1665.6 1251.4h5.5M1549.4 1258.3h5.5M1610.9 1258.3h5.5M1617.8 1258.3h5.5M1624.6 1258.3h5.5M1645.1 1258.3h5.5M1474.1 1265.1h5.5M1535.7 1265.1h5.5M1658.8 1265.1h5.5M1679.3 1265.1h5.5M1686.2 1265.1h5.5M1398.9 1271.9h5.5M1460.4 1271.9h5.5M1508.3 1271.9h5.5M1522 1271.9h5.5M1535.7 1271.9h5.5M1549.4 1271.9h5.5M1645.1 1271.9h5.5M1658.8 1271.9h5.5M1665.6 1271.9h5.5M1713.5 1271.9h5.5M1460.4 1278.8h5.5M1467.3 1278.8h5.5M1508.3 1278.8h5.5M1542.5 1278.8h5.5M1549.4 1278.8h5.5M1713.5 1278.8h5.5M1501.5 1285.6h5.5M1419.4 1292.5h5.5M1474.1 1292.5h5.5M1535.7 1292.5h5.5M1638.3 1292.5h5.5M1652 1292.5h5.5M1665.6 1292.5h5.5M1501.5 1299.3h5.5M1638.3 1299.3h5.5M1419.4 1306.1h5.5M1433.1 1306.1h5.5M1439.9 1306.1h5.5M1624.6 1306.1h5.5M1686.2 1306.1h5.5M1398.9 1313h5.5M1419.4 1313h5.5M1494.6 1313h5.5M1679.3 1313h5.5M1693 1313h5.5M1392 1319.8h5.5M1501.5 1319.8h5.5M1569.9 1319.8h5.5M1604.1 1319.8h5.5M1624.6 1319.8h5.5M1713.5 1319.8h5.5M1542.5 1326.7h5.5M1556.2 1326.7h5.5M1652 1326.7h5.5M1686.2 1326.7h5.5M1706.7 1326.7h5.5M1385.2 1333.5h5.5M1439.9 1333.5h5.5M1501.5 1333.5h5.5M1556.2 1333.5h5.5M1583.6 1340.3h5.5M1652 1340.3h5.5M1679.3 1340.3h5.5M1699.8 1340.3h5.5M1385.2 1347.2h5.5M1501.5 1347.2h5.5M1535.7 1347.2h5.5M1624.6 1347.2h5.5M1652 1347.2h5.5M1665.6 1347.2h5.5M1686.2 1347.2h5.5M1706.7 1347.2h5.5M1392 1354h5.5M1398.9 1354h5.5M1549.4 1360.9h5.5M1610.9 1360.9h5.5M1515.2 1367.7h5.5M1549.4 1367.7h5.5M1658.8 1367.7h5.5M1392 1374.5h5.5M1576.7 1374.5h5.5M1617.8 1374.5h5.5M1624.6 1374.5h5.5M1713.5 1374.5h5.5M1419.4 1381.4h5.5M1494.6 1381.4h5.5M1604.1 1381.4h5.5M1617.8 1381.4h5.5M1631.4 1381.4h5.5M1699.8 1381.4h5.5M1501.5 1388.2h5.5M1617.8 1388.2h5.5M1645.1 1388.2h5.5M1679.3 1388.2h5.5M1713.5 1388.2h5.5M1385.2 1395.1h5.5M1433.1 1395.1h5.5M1439.9 1395.1h5.5M1522 1395.1h5.5M1563 1395.1h5.5M1569.9 1395.1h5.5M1665.6 1395.1h5.5M1713.5 1395.1h5.5M1398.9 1401.9h5.5M1439.9 1401.9h5.5M1453.6 1401.9h5.5M1460.4 1401.9h5.5M1528.8 1401.9h5.5M1569.9 1401.9h5.5M1576.7 1401.9h5.5M1706.7 1401.9h5.5M1412.6 1408.7h5.5M1508.3 1408.7h5.5M1583.6 1408.7h5.5M1631.4 1408.7h5.5M1652 1408.7h5.5M1679.3 1408.7h5.5M1385.2 1415.6h5.5M1433.1 1415.6h5.5M1515.2 1415.6h5.5M1631.4 1415.6h5.5M1638.3 1415.6h5.5M1460.4 1422.4h5.5M1713.5 1422.4h5.5M1679.3 1429.3h5.5M1686.2 1429.3h5.5M1706.7 1429.3h5.5M1433.1 1436.1h5.5M1652 1436.1h5.5M1419.4 1442.9h5.5M1494.6 1442.9h5.5M1631.4 1442.9h5.5M1652 1442.9h5.5M1679.3 1442.9h5.5M1699.8 1442.9h5.5M1439.9 1449.8h5.5M1645.1 1449.8h5.5M1713.5 1449.8h5.5M1433.1 1456.6h5.5M1597.2 1456.6h5.5M1645.1 1456.6h5.5M1405.7 1463.5h5.5M1556.2 1463.5h5.5M1610.9 1463.5h5.5M1638.3 1463.5h5.5M1686.2 1463.5h5.5M1706.7 1463.5h5.5M1398.9 1470.3h5.5M1501.5 1470.3h5.5M1638.3 1470.3h5.5M1693 1470.3h5.5M1583.6 1477.1h5.5M1542.5 1484h5.5M1556.2 1484h5.5M1583.6 1196.7h5.5" stroke="#7fd249"/><path d="M1460.4 1176.2h5.5M1583.6 1176.2h5.5M1706.7 1176.2h5.5M1419.4 1183h5.5M1439.9 1183h5.5M1508.3 1183h5.5M1515.2 1183h5.5M1522 1183h5.5M1528.8 1183h5.5M1583.6 1183h5.5M1604.1 1183h5.5M1624.6 1183h5.5M1419.4 1189.9h5.5M1453.6 1189.9h5.5M1556.2 1189.9h5.5M1604.1 1189.9h5.5M1610.9 1189.9h5.5M1638.3 1189.9h5.5M1392 1203.5h5.5M1481 1203.5h5.5M1604.1 1203.5h5.5M1617.8 1203.5h5.5M1405.7 1210.4h5.5M1508.3 1210.4h5.5M1515.2 1210.4h5.5M1556.2 1210.4h5.5M1604.1 1210.4h5.5M1610.9 1210.4h5.5M1693 1210.4h5.5M1699.8 1210.4h5.5M1385.2 1217.2h5.5M1392 1217.2h5.5M1433.1 1217.2h5.5M1439.9 1217.2h5.5M1453.6 1217.2h5.5M1508.3 1217.2h5.5M1631.4 1217.2h5.5M1672.5 1217.2h5.5M1686.2 1217.2h5.5M1474.1 1224.1h5.5M1501.5 1224.1h5.5M1576.7 1224.1h5.5M1542.5 1230.9h5.5M1617.8 1230.9h5.5M1392 1237.7h5.5M1433.1 1237.7h5.5M1583.6 1237.7h5.5M1542.5 1244.6h5.5M1583.6 1244.6h5.5M1610.9 1244.6h5.5M1624.6 1244.6h5.5M1631.4 1244.6h5.5M1501.5 1251.4h5.5M1522 1251.4h5.5M1528.8 1251.4h5.5M1535.7 1251.4h5.5M1569.9 1251.4h5.5M1385.2 1258.3h5.5M1494.6 1258.3h5.5M1583.6 1258.3h5.5M1638.3 1258.3h5.5M1686.2 1258.3h5.5M1467.3 1265.1h5.5M1556.2 1265.1h5.5M1604.1 1265.1h5.5M1610.9 1265.1h5.5M1699.8 1265.1h5.5M1439.9 1271.9h5.5M1453.6 1271.9h5.5M1542.5 1271.9h5.5M1501.5 1278.8h5.5M1515.2 1278.8h5.5M1604.1 1278.8h5.5M1446.8 1285.6h5.5M1508.3 1285.6h5.5M1528.8 1285.6h5.5M1569.9 1285.6h5.5M1658.8 1285.6h5.5M1405.7 1292.5h5.5M1549.4 1292.5h5.5M1563 1292.5h5.5M1631.4 1299.3h5.5M1652 1306.1h5.5M1693 1306.1h5.5M1481 1313h5.5M1604.1 1313h5.5M1645.1 1313h5.5M1419.4 1319.8h5.5M1528.8 1319.8h5.5M1583.6 1319.8h5.5M1638.3 1319.8h5.5M1467.3 1326.7h5.5M1474.1 1326.7h5.5M1522 1326.7h5.5M1549.4 1326.7h5.5M1631.4 1326.7h5.5M1549.4 1333.5h5.5M1563 1340.3h5.5M1569.9 1340.3h5.5M1672.5 1340.3h5.5M1597.2 1347.2h5.5M1467.3 1354h5.5M1563 1354h5.5M1604.1 1354h5.5M1672.5 1354h5.5M1713.5 1354h5.5M1426.2 1360.9h5.5M1508.3 1360.9h5.5M1563 1360.9h5.5M1624.6 1360.9h5.5M1385.2 1367.7h5.5M1446.8 1367.7h5.5M1528.8 1367.7h5.5M1563 1367.7h5.5M1604.1 1367.7h5.5M1433.1 1374.5h5.5M1542.5 1374.5h5.5M1556.2 1374.5h5.5M1610.9 1381.4h5.5M1665.6 1381.4h5.5M1405.7 1388.2h5.5M1446.8 1388.2h5.5M1631.4 1388.2h5.5M1426.2 1395.1h5.5M1515.2 1395.1h5.5M1597.2 1395.1h5.5M1706.7 1395.1h5.5M1385.2 1401.9h5.5M1501.5 1401.9h5.5M1508.3 1401.9h5.5M1556.2 1401.9h5.5M1597.2 1401.9h5.5M1610.9 1401.9h5.5M1652 1401.9h5.5M1665.6 1401.9h5.5M1419.4 1408.7h5.5M1610.9 1408.7h5.5M1460.4 1415.6h5.5M1542.5 1415.6h5.5M1576.7 1415.6h5.5M1693 1429.3h5.5M1542.5 1442.9h5.5M1583.6 1442.9h5.5M1706.7 1442.9h5.5M1419.4 1449.8h5.5M1453.6 1449.8h5.5M1556.2 1449.8h5.5M1638.3 1449.8h5.5M1672.5 1449.8h5.5M1501.5 1456.6h5.5M1542.5 1456.6h5.5M1706.7 1456.6h5.5M1433.1 1463.5h5.5M1446.8 1463.5h5.5M1474.1 1463.5h5.5M1522 1463.5h5.5M1665.6 1463.5h5.5M1713.5 1463.5h5.5M1392 1470.3h5.5M1549.4 1470.3h5.5M1583.6 1470.3h5.5M1706.7 1470.3h5.5M1433.1 1477.1h5.5M1446.8 1477.1h5.5M1515.2 1477.1h5.5M1569.9 1477.1h5.5M1576.7 1477.1h5.5M1713.5 1477.1h5.5M1453.6 1484h5.5M1487.8 1497.7h5.5M1481 1504.5h5.5" stroke="#9ad53f"/><path d="M1474.1 1176.2h5.5M1563 1176.2h5.5M1549.4 1183h5.5M1665.6 1183h5.5M1686.2 1183h5.5M1433.1 1189.9h5.5M1439.9 1189.9h5.5M1515.2 1189.9h5.5M1439.9 1203.5h5.5M1460.4 1203.5h5.5M1508.3 1203.5h5.5M1631.4 1203.5h5.5M1652 1203.5h5.5M1665.6 1203.5h5.5M1672.5 1203.5h5.5M1679.3 1203.5h5.5M1412.6 1210.4h5.5M1467.3 1210.4h5.5M1487.8 1210.4h5.5M1501.5 1210.4h5.5M1624.6 1210.4h5.5M1652 1210.4h5.5M1665.6 1210.4h5.5M1672.5 1210.4h5.5M1522 1217.2h5.5M1576.7 1217.2h5.5M1652 1217.2h5.5M1693 1217.2h5.5M1706.7 1217.2h5.5M1713.5 1217.2h5.5M1645.1 1224.1h5.5M1652 1224.1h5.5M1385.2 1230.9h5.5M1563 1230.9h5.5M1624.6 1237.7h5.5M1645.1 1237.7h5.5M1467.3 1244.6h5.5M1604.1 1244.6h5.5M1652 1251.4h5.5M1706.7 1251.4h5.5M1604.1 1258.3h5.5M1658.8 1258.3h5.5M1713.5 1258.3h5.5M1433.1 1265.1h5.5M1446.8 1265.1h5.5M1583.6 1265.1h5.5M1617.8 1265.1h5.5M1604.1 1271.9h5.5M1652 1271.9h5.5M1405.7 1278.8h5.5M1419.4 1278.8h5.5M1433.1 1278.8h5.5M1453.6 1278.8h5.5M1556.2 1278.8h5.5M1576.7 1278.8h5.5M1652 1278.8h5.5M1679.3 1278.8h5.5M1699.8 1278.8h5.5M1706.7 1278.8h5.5M1549.4 1285.6h5.5M1576.7 1285.6h5.5M1385.2 1292.5h5.5M1412.6 1292.5h5.5M1433.1 1292.5h5.5M1467.3 1292.5h5.5M1610.9 1292.5h5.5M1631.4 1292.5h5.5M1658.8 1292.5h5.5M1385.2 1299.3h5.5M1405.7 1299.3h5.5M1412.6 1299.3h5.5M1508.3 1299.3h5.5M1522 1299.3h5.5M1665.6 1299.3h5.5M1385.2 1306.1h5.5M1405.7 1306.1h5.5M1412.6 1306.1h5.5M1426.2 1306.1h5.5M1460.4 1306.1h5.5M1604.1 1306.1h5.5M1610.9 1306.1h5.5M1672.5 1306.1h5.5M1706.7 1306.1h5.5M1392 1313h5.5M1439.9 1313h5.5M1446.8 1313h5.5M1467.3 1313h5.5M1515.2 1313h5.5M1576.7 1313h5.5M1385.2 1319.8h5.5M1405.7 1319.8h5.5M1433.1 1319.8h5.5M1597.2 1319.8h5.5M1398.9 1326.7h5.5M1419.4 1326.7h5.5M1528.8 1326.7h5.5M1624.6 1326.7h5.5M1713.5 1326.7h5.5M1515.2 1333.5h5.5M1597.2 1333.5h5.5M1658.8 1333.5h5.5M1699.8 1333.5h5.5M1385.2 1340.3h5.5M1597.2 1340.3h5.5M1528.8 1347.2h5.5M1563 1347.2h5.5M1474.1 1354h5.5M1508.3 1354h5.5M1542.5 1354h5.5M1624.6 1354h5.5M1693 1354h5.5M1398.9 1360.9h5.5M1433.1 1360.9h5.5M1467.3 1360.9h5.5M1617.8 1360.9h5.5M1672.5 1360.9h5.5M1481 1367.7h5.5M1624.6 1367.7h5.5M1631.4 1367.7h5.5M1699.8 1367.7h5.5M1385.2 1374.5h5.5M1405.7 1374.5h5.5M1494.6 1374.5h5.5M1515.2 1374.5h5.5M1597.2 1374.5h5.5M1385.2 1381.4h5.5M1426.2 1381.4h5.5M1433.1 1381.4h5.5M1439.9 1381.4h5.5M1446.8 1381.4h5.5M1453.6 1381.4h5.5M1528.8 1381.4h5.5M1556.2 1381.4h5.5M1645.1 1381.4h5.5M1652 1381.4h5.5M1679.3 1381.4h5.5M1693 1381.4h5.5M1706.7 1381.4h5.5M1453.6 1388.2h5.5M1460.4 1388.2h5.5M1597.2 1388.2h5.5M1624.6 1388.2h5.5M1638.3 1388.2h5.5M1652 1388.2h5.5M1699.8 1388.2h5.5M1398.9 1395.1h5.5M1405.7 1395.1h5.5M1419.4 1395.1h5.5M1604.1 1395.1h5.5M1624.6 1395.1h5.5M1638.3 1395.1h5.5M1672.5 1395.1h5.5M1686.2 1395.1h5.5M1419.4 1401.9h5.5M1467.3 1401.9h5.5M1474.1 1401.9h5.5M1549.4 1401.9h5.5M1583.6 1401.9h5.5M1617.8 1401.9h5.5M1398.9 1408.7h5.5M1426.2 1408.7h5.5M1453.6 1408.7h5.5M1487.8 1408.7h5.5M1528.8 1408.7h5.5M1549.4 1408.7h5.5M1597.2 1408.7h5.5M1604.1 1408.7h5.5M1617.8 1408.7h5.5M1645.1 1408.7h5.5M1672.5 1408.7h5.5M1693 1408.7h5.5M1706.7 1408.7h5.5M1481 1415.6h5.5M1508.3 1415.6h5.5M1563 1415.6h5.5M1405.7 1422.4h5.5M1535.7 1422.4h5.5M1672.5 1422.4h5.5M1583.6 1429.3h5.5M1617.8 1429.3h5.5M1528.8 1436.1h5.5M1679.3 1436.1h5.5M1686.2 1436.1h5.5M1706.7 1436.1h5.5M1713.5 1436.1h5.5M1460.4 1442.9h5.5M1535.7 1442.9h5.5M1563 1442.9h5.5M1638.3 1442.9h5.5M1412.6 1449.8h5.5M1446.8 1449.8h5.5M1467.3 1449.8h5.5M1494.6 1449.8h5.5M1542.5 1449.8h5.5M1706.7 1449.8h5.5M1392 1456.6h5.5M1419.4 1456.6h5.5M1467.3 1456.6h5.5M1610.9 1456.6h5.5M1631.4 1456.6h5.5M1679.3 1456.6h5.5M1515.2 1463.5h5.5M1563 1463.5h5.5M1693 1463.5h5.5M1405.7 1470.3h5.5M1453.6 1470.3h5.5M1522 1470.3h5.5M1569.9 1470.3h5.5M1610.9 1470.3h5.5M1665.6 1470.3h5.5M1542.5 1477.1h5.5M1556.2 1477.1h5.5M1610.9 1477.1h5.5M1665.6 1477.1h5.5M1405.7 1497.7h5.5" stroke="#79cd58"/><path d="M1487.8 1176.2h5.5M1597.2 1176.2h5.5M1604.1 1176.2h5.5M1686.2 1176.2h5.5M1597.2 1183h5.5M1617.8 1183h5.5M1645.1 1183h5.5M1549.4 1189.9h5.5M1658.8 1189.9h5.5M1713.5 1189.9h5.5M1624.6 1203.5h5.5M1398.9 1210.4h5.5M1426.2 1210.4h5.5M1638.3 1217.2h5.5M1535.7 1224.1h5.5M1617.8 1224.1h5.5M1453.6 1230.9h5.5M1467.3 1230.9h5.5M1522 1230.9h5.5M1597.2 1230.9h5.5M1405.7 1237.7h5.5M1412.6 1237.7h5.5M1419.4 1237.7h5.5M1426.2 1237.7h5.5M1474.1 1237.7h5.5M1631.4 1237.7h5.5M1412.6 1244.6h5.5M1426.2 1244.6h5.5M1460.4 1244.6h5.5M1494.6 1244.6h5.5M1515.2 1244.6h5.5M1535.7 1244.6h5.5M1385.2 1251.4h5.5M1453.6 1251.4h5.5M1508.3 1251.4h5.5M1699.8 1251.4h5.5M1412.6 1258.3h5.5M1563 1258.3h5.5M1569.9 1258.3h5.5M1481 1271.9h5.5M1617.8 1271.9h5.5M1426.2 1278.8h5.5M1706.7 1285.6h5.5M1686.2 1292.5h5.5M1460.4 1299.3h5.5M1563 1319.8h5.5M1652 1354h5.5M1556.2 1360.9h5.5M1645.1 1477.1h5.5M1652 1477.1h5.5M1398.9 1484h5.5M1439.9 1484h5.5M1481 1484h5.5M1706.7 1484h5.5M1426.2 1497.7h5.5M1481 1497.7h5.5M1501.5 1497.7h5.5M1535.7 1497.7h5.5M1549.4 1497.7h5.5M1686.2 1497.7h5.5M1693 1497.7h5.5M1699.8 1497.7h5.5M1487.8 1504.5h5.5M1556.2 1504.5h5.5M1563 1504.5h5.5M1617.8 1504.5h5.5M1672.5 1504.5h5.5" stroke="#e75d2c"/><path d="M1528.8 1176.2h5.5M1631.4 1176.2h5.5M1665.6 1176.2h5.5M1699.8 1183h5.5M1706.7 1183h5.5M1412.6 1189.9h5.5M1481 1189.9h5.5M1535.7 1189.9h5.5M1624.6 1189.9h5.5M1385.2 1203.5h5.5M1398.9 1203.5h5.5M1405.7 1203.5h5.5M1549.4 1203.5h5.5M1439.9 1210.4h5.5M1583.6 1210.4h5.5M1617.8 1210.4h5.5M1474.1 1217.2h5.5M1487.8 1217.2h5.5M1501.5 1217.2h5.5M1556.2 1217.2h5.5M1617.8 1217.2h5.5M1645.1 1217.2h5.5M1426.2 1224.1h5.5M1439.9 1224.1h5.5M1624.6 1224.1h5.5M1658.8 1224.1h5.5M1665.6 1224.1h5.5M1439.9 1230.9h5.5M1556.2 1230.9h5.5M1576.7 1230.9h5.5M1385.2 1237.7h5.5M1597.2 1237.7h5.5M1679.3 1237.7h5.5M1549.4 1244.6h5.5M1686.2 1251.4h5.5M1405.7 1258.3h5.5M1426.2 1258.3h5.5M1528.8 1258.3h5.5M1706.7 1258.3h5.5M1385.2 1265.1h5.5M1398.9 1265.1h5.5M1501.5 1265.1h5.5M1508.3 1265.1h5.5M1569.9 1265.1h5.5M1474.1 1271.9h5.5M1583.6 1271.9h5.5M1610.9 1278.8h5.5M1392 1285.6h5.5M1686.2 1285.6h5.5M1439.9 1292.5h5.5M1460.4 1292.5h5.5M1713.5 1292.5h5.5M1679.3 1299.3h5.5M1501.5 1306.1h5.5M1494.6 1319.8h5.5M1563 1333.5h5.5M1624.6 1333.5h5.5M1576.7 1340.3h5.5M1569.9 1354h5.5M1583.6 1354h5.5M1652 1360.9h5.5M1412.6 1367.7h5.5M1597.2 1367.7h5.5M1617.8 1367.7h5.5M1398.9 1374.5h5.5M1426.2 1374.5h5.5M1460.4 1374.5h5.5M1631.4 1374.5h5.5M1672.5 1374.5h5.5M1699.8 1374.5h5.5M1467.3 1388.2h5.5M1665.6 1388.2h5.5M1686.2 1388.2h5.5M1412.6 1395.1h5.5M1563 1401.9h5.5M1474.1 1408.7h5.5M1412.6 1415.6h5.5M1453.6 1422.4h5.5M1706.7 1422.4h5.5M1699.8 1436.1h5.5M1604.1 1442.9h5.5M1433.1 1449.8h5.5M1528.8 1449.8h5.5M1439.9 1456.6h5.5M1392 1463.5h5.5M1385.2 1470.3h5.5M1542.5 1470.3h5.5M1617.8 1470.3h5.5M1474.1 1477.1h5.5M1460.4 1484h5.5M1494.6 1484h5.5M1604.1 1484h5.5M1398.9 1497.7h5.5M1419.4 1497.7h5.5M1583.6 1497.7h5.5M1706.7 1497.7h5.5" stroke="#a8d63a"/><path d="M1610.9 1176.2h5.5M1672.5 1183h5.5M1693 1183h5.5M1645.1 1203.5h5.5M1693 1203.5h5.5M1542.5 1210.4h5.5M1604.1 1217.2h5.5M1474.1 1230.9h5.5M1481 1237.7h5.5M1487.8 1237.7h5.5M1508.3 1237.7h5.5M1617.8 1237.7h5.5M1481 1251.4h5.5M1446.8 1306.1h5.5M1385.2 1313h5.5M1583.6 1347.2h5.5M1508.3 1367.7h5.5M1610.9 1388.2h5.5M1522 1401.9h5.5M1693 1415.6h5.5M1487.8 1449.8h5.5M1419.4 1463.5h5.5M1467.3 1463.5h5.5M1597.2 1470.3h5.5M1645.1 1484h5.5M1652 1484h5.5" stroke="#bcb33b"/><path d="M1658.8 1176.2h5.5M1679.3 1217.2h5.5M1693 1224.1h5.5M1426.2 1230.9h5.5M1699.8 1237.7h5.5M1419.4 1251.4h5.5M1398.9 1258.3h5.5M1419.4 1258.3h5.5M1693 1271.9h5.5M1672.5 1278.8h5.5M1583.6 1285.6h5.5M1631.4 1285.6h5.5M1665.6 1285.6h5.5M1446.8 1292.5h5.5M1501.5 1292.5h5.5M1515.2 1292.5h5.5M1528.8 1292.5h5.5M1556.2 1292.5h5.5M1699.8 1292.5h5.5M1487.8 1299.3h5.5M1515.2 1299.3h5.5M1528.8 1299.3h5.5M1542.5 1299.3h5.5M1556.2 1299.3h5.5M1672.5 1299.3h5.5M1686.2 1299.3h5.5M1693 1299.3h5.5M1487.8 1306.1h5.5M1515.2 1306.1h5.5M1528.8 1306.1h5.5M1576.7 1306.1h5.5M1583.6 1306.1h5.5M1412.6 1313h5.5M1426.2 1313h5.5M1453.6 1313h5.5M1556.2 1313h5.5M1569.9 1313h5.5M1672.5 1313h5.5M1706.7 1313h5.5M1481 1319.8h5.5M1658.8 1319.8h5.5M1433.1 1326.7h5.5M1439.9 1326.7h5.5M1392 1333.5h5.5M1426.2 1333.5h5.5M1467.3 1333.5h5.5M1487.8 1333.5h5.5M1412.6 1340.3h5.5M1453.6 1340.3h5.5M1460.4 1340.3h5.5M1481 1340.3h5.5M1508.3 1340.3h5.5M1624.6 1340.3h5.5M1645.1 1340.3h5.5M1658.8 1340.3h5.5M1706.7 1340.3h5.5M1398.9 1347.2h5.5M1419.4 1347.2h5.5M1433.1 1347.2h5.5M1439.9 1347.2h5.5M1481 1347.2h5.5M1631.4 1347.2h5.5M1645.1 1347.2h5.5M1672.5 1347.2h5.5M1412.6 1354h5.5M1419.4 1354h5.5M1439.9 1354h5.5M1446.8 1354h5.5M1453.6 1354h5.5M1665.6 1354h5.5M1453.6 1360.9h5.5M1460.4 1360.9h5.5M1569.9 1360.9h5.5M1638.3 1360.9h5.5M1460.4 1367.7h5.5M1494.6 1367.7h5.5M1556.2 1367.7h5.5M1706.7 1367.7h5.5M1446.8 1374.5h5.5M1474.1 1374.5h5.5M1569.9 1374.5h5.5M1665.6 1374.5h5.5M1392 1381.4h5.5M1508.3 1381.4h5.5M1569.9 1381.4h5.5M1398.9 1388.2h5.5M1412.6 1388.2h5.5M1474.1 1388.2h5.5M1549.4 1388.2h5.5M1563 1388.2h5.5M1467.3 1395.1h5.5M1549.4 1395.1h5.5M1583.6 1395.1h5.5M1617.8 1395.1h5.5M1426.2 1401.9h5.5M1446.8 1401.9h5.5M1487.8 1401.9h5.5M1542.5 1401.9h5.5M1624.6 1401.9h5.5M1385.2 1408.7h5.5M1665.6 1408.7h5.5M1392 1415.6h5.5M1405.7 1415.6h5.5M1487.8 1415.6h5.5M1672.5 1415.6h5.5M1398.9 1422.4h5.5M1419.4 1422.4h5.5M1426.2 1422.4h5.5M1446.8 1422.4h5.5M1487.8 1422.4h5.5M1522 1422.4h5.5M1549.4 1422.4h5.5M1563 1422.4h5.5M1569.9 1422.4h5.5M1576.7 1422.4h5.5M1583.6 1422.4h5.5M1597.2 1422.4h5.5M1652 1422.4h5.5M1385.2 1429.3h5.5M1412.6 1429.3h5.5M1439.9 1429.3h5.5M1446.8 1429.3h5.5M1487.8 1429.3h5.5M1494.6 1429.3h5.5M1501.5 1429.3h5.5M1508.3 1429.3h5.5M1549.4 1429.3h5.5M1563 1429.3h5.5M1569.9 1429.3h5.5M1604.1 1429.3h5.5M1624.6 1429.3h5.5M1631.4 1429.3h5.5M1713.5 1429.3h5.5M1398.9 1436.1h5.5M1439.9 1436.1h5.5M1467.3 1436.1h5.5M1481 1436.1h5.5M1487.8 1436.1h5.5M1508.3 1436.1h5.5M1556.2 1436.1h5.5M1563 1436.1h5.5M1583.6 1436.1h5.5M1597.2 1436.1h5.5M1631.4 1436.1h5.5M1672.5 1436.1h5.5M1426.2 1442.9h5.5M1439.9 1442.9h5.5M1446.8 1442.9h5.5M1467.3 1442.9h5.5M1501.5 1442.9h5.5M1576.7 1442.9h5.5M1398.9 1449.8h5.5M1426.2 1449.8h5.5M1563 1449.8h5.5M1658.8 1449.8h5.5M1405.7 1456.6h5.5M1528.8 1456.6h5.5M1549.4 1456.6h5.5M1569.9 1456.6h5.5M1604.1 1456.6h5.5M1672.5 1456.6h5.5M1439.9 1463.5h5.5M1494.6 1463.5h5.5M1528.8 1463.5h5.5M1569.9 1463.5h5.5M1576.7 1463.5h5.5M1631.4 1463.5h5.5M1624.6 1470.3h5.5M1631.4 1470.3h5.5M1652 1470.3h5.5M1679.3 1470.3h5.5M1686.2 1470.3h5.5M1474.1 1484h5.5M1631.4 1497.7h5.5M1405.7 1504.5h5.5M1542.5 1504.5h5.5" stroke="#4050b6"/><path d="M1713.5 1176.2h5.5M1624.6 1217.2h5.5M1398.9 1244.6h5.5M1583.6 1292.5h5.5M1597.2 1292.5h5.5M1672.5 1292.5h5.5M1617.8 1306.1h5.5M1583.6 1313h5.5M1686.2 1313h5.5M1405.7 1326.7h5.5M1617.8 1333.5h5.5M1679.3 1333.5h5.5M1501.5 1354h5.5M1392 1360.9h5.5M1474.1 1360.9h5.5M1658.8 1360.9h5.5M1706.7 1360.9h5.5M1535.7 1367.7h5.5M1652 1367.7h5.5M1419.4 1374.5h5.5M1460.4 1381.4h5.5M1563 1381.4h5.5M1542.5 1388.2h5.5M1658.8 1388.2h5.5M1535.7 1401.9h5.5M1501.5 1415.6h5.5M1556.2 1415.6h5.5M1583.6 1415.6h5.5M1604.1 1415.6h5.5M1686.2 1415.6h5.5M1693 1422.4h5.5M1398.9 1442.9h5.5M1617.8 1442.9h5.5M1693 1442.9h5.5M1474.1 1449.8h5.5M1501.5 1449.8h5.5M1624.6 1449.8h5.5M1658.8 1456.6h5.5M1624.6 1463.5h5.5M1385.2 1504.5h5.5" stroke="#7ca3ab"/><path d="M1433.1 1183h5.5M1658.8 1183h5.5M1446.8 1189.9h5.5M1528.8 1203.5h5.5M1556.2 1203.5h5.5M1658.8 1203.5h5.5M1419.4 1210.4h5.5M1426.2 1217.2h5.5M1446.8 1217.2h5.5M1528.8 1217.2h5.5M1528.8 1224.1h5.5M1563 1224.1h5.5M1569.9 1224.1h5.5M1706.7 1224.1h5.5M1412.6 1230.9h5.5M1460.4 1230.9h5.5M1631.4 1230.9h5.5M1665.6 1230.9h5.5M1453.6 1237.7h5.5M1528.8 1237.7h5.5M1672.5 1237.7h5.5M1474.1 1244.6h5.5M1522 1244.6h5.5M1645.1 1244.6h5.5M1672.5 1244.6h5.5M1693 1244.6h5.5M1542.5 1251.4h5.5M1617.8 1251.4h5.5M1638.3 1251.4h5.5M1535.7 1258.3h5.5M1542.5 1258.3h5.5M1412.6 1265.1h5.5M1481 1265.1h5.5M1392 1271.9h5.5M1699.8 1285.6h5.5M1398.9 1292.5h5.5M1645.1 1292.5h5.5M1508.3 1306.1h5.5M1501.5 1326.7h5.5M1528.8 1374.5h5.5M1638.3 1408.7h5.5M1446.8 1415.6h5.5M1528.8 1422.4h5.5M1405.7 1449.8h5.5M1426.2 1470.3h5.5M1405.7 1477.1h5.5M1460.4 1477.1h5.5M1494.6 1477.1h5.5M1563 1477.1h5.5M1679.3 1477.1h5.5M1686.2 1477.1h5.5M1528.8 1484h5.5M1433.1 1497.7h5.5M1508.3 1497.7h5.5M1515.2 1497.7h5.5M1569.9 1497.7h5.5M1617.8 1497.7h5.5M1624.6 1497.7h5.5M1645.1 1497.7h5.5M1652 1497.7h5.5M1433.1 1504.5h5.5M1508.3 1504.5h5.5M1528.8 1504.5h5.5M1576.7 1504.5h5.5M1604.1 1504.5h5.5M1624.6 1504.5h5.5M1652 1504.5h5.5M1686.2 1504.5h5.5M1699.8 1504.5h5.5" stroke="#e8742e"/><path d="M1542.5 1183h5.5M1638.3 1183h5.5M1665.6 1189.9h5.5M1398.9 1217.2h5.5M1405.7 1217.2h5.5M1549.4 1217.2h5.5M1412.6 1224.1h5.5M1487.8 1224.1h5.5M1686.2 1230.9h5.5M1460.4 1237.7h5.5M1569.9 1237.7h5.5M1433.1 1244.6h5.5M1563 1244.6h5.5M1439.9 1251.4h5.5M1487.8 1251.4h5.5M1631.4 1251.4h5.5M1467.3 1258.3h5.5M1515.2 1258.3h5.5M1556.2 1258.3h5.5M1460.4 1265.1h5.5M1385.2 1278.8h5.5M1631.4 1278.8h5.5M1385.2 1285.6h5.5M1597.2 1299.3h5.5M1631.4 1360.9h5.5M1665.6 1436.1h5.5M1460.4 1470.3h5.5M1412.6 1477.1h5.5M1487.8 1477.1h5.5M1597.2 1477.1h5.5M1617.8 1477.1h5.5M1631.4 1477.1h5.5M1658.8 1477.1h5.5M1487.8 1484h5.5M1610.9 1484h5.5M1631.4 1484h5.5M1638.3 1484h5.5M1686.2 1484h5.5M1563 1497.7h5.5M1665.6 1497.7h5.5M1460.4 1504.5h5.5M1515.2 1504.5h5.5M1569.9 1504.5h5.5M1610.9 1504.5h5.5M1693 1504.5h5.5" stroke="#d39436"/><path d="M1501.5 1189.9h5.5M1549.4 1224.1h5.5M1583.6 1230.9h5.5M1453.6 1265.1h5.5M1446.8 1271.9h5.5M1610.9 1313h5.5M1713.5 1442.9h5.5M1392 1449.8h5.5M1467.3 1470.3h5.5M1419.4 1477.1h5.5M1467.3 1484h5.5M1522 1504.5h5.5" stroke="#c7a23b"/><path d="M1563 1189.9h5.5M1398.9 1251.4h5.5M1679.3 1271.9h5.5M1528.8 1278.8h5.5M1693 1278.8h5.5M1419.4 1285.6h5.5M1494.6 1285.6h5.5M1508.3 1292.5h5.5M1542.5 1292.5h5.5M1679.3 1292.5h5.5M1481 1299.3h5.5M1699.8 1299.3h5.5M1713.5 1299.3h5.5M1665.6 1306.1h5.5M1474.1 1313h5.5M1508.3 1313h5.5M1652 1319.8h5.5M1426.2 1326.7h5.5M1453.6 1326.7h5.5M1433.1 1333.5h5.5M1453.6 1333.5h5.5M1460.4 1333.5h5.5M1474.1 1333.5h5.5M1481 1333.5h5.5M1535.7 1333.5h5.5M1576.7 1333.5h5.5M1645.1 1333.5h5.5M1392 1340.3h5.5M1419.4 1340.3h5.5M1446.8 1340.3h5.5M1542.5 1340.3h5.5M1638.3 1340.3h5.5M1549.4 1347.2h5.5M1658.8 1347.2h5.5M1693 1347.2h5.5M1385.2 1354h5.5M1515.2 1354h5.5M1522 1354h5.5M1638.3 1354h5.5M1419.4 1360.9h5.5M1528.8 1360.9h5.5M1686.2 1367.7h5.5M1412.6 1374.5h5.5M1481 1374.5h5.5M1487.8 1374.5h5.5M1645.1 1374.5h5.5M1474.1 1381.4h5.5M1487.8 1381.4h5.5M1549.4 1381.4h5.5M1515.2 1388.2h5.5M1446.8 1395.1h5.5M1460.4 1395.1h5.5M1487.8 1395.1h5.5M1535.7 1395.1h5.5M1412.6 1401.9h5.5M1679.3 1401.9h5.5M1460.4 1408.7h5.5M1569.9 1415.6h5.5M1610.9 1415.6h5.5M1392 1422.4h5.5M1515.2 1422.4h5.5M1542.5 1422.4h5.5M1645.1 1422.4h5.5M1392 1429.3h5.5M1405.7 1429.3h5.5M1576.7 1429.3h5.5M1610.9 1429.3h5.5M1645.1 1429.3h5.5M1665.6 1429.3h5.5M1385.2 1436.1h5.5M1501.5 1436.1h5.5M1549.4 1436.1h5.5M1638.3 1436.1h5.5M1645.1 1436.1h5.5M1610.9 1442.9h5.5M1672.5 1442.9h5.5M1686.2 1442.9h5.5M1515.2 1449.8h5.5M1631.4 1449.8h5.5M1460.4 1456.6h5.5M1535.7 1456.6h5.5M1481 1463.5h5.5M1583.6 1463.5h5.5M1652 1463.5h5.5M1385.2 1497.7h5.5M1392 1497.7h5.5" stroke="#6363c1"/><path d="M1631.4 1189.9h5.5M1597.2 1217.2h5.5M1645.1 1285.6h5.5M1453.6 1299.3h5.5M1535.7 1299.3h5.5M1563 1299.3h5.5M1467.3 1306.1h5.5M1542.5 1306.1h5.5M1713.5 1306.1h5.5M1487.8 1313h5.5M1522 1313h5.5M1563 1313h5.5M1412.6 1319.8h5.5M1439.9 1319.8h5.5M1446.8 1319.8h5.5M1631.4 1319.8h5.5M1446.8 1326.7h5.5M1597.2 1326.7h5.5M1617.8 1326.7h5.5M1398.9 1333.5h5.5M1419.4 1333.5h5.5M1583.6 1333.5h5.5M1405.7 1340.3h5.5M1426.2 1340.3h5.5M1433.1 1340.3h5.5M1439.9 1340.3h5.5M1487.8 1340.3h5.5M1665.6 1340.3h5.5M1686.2 1340.3h5.5M1392 1347.2h5.5M1405.7 1347.2h5.5M1604.1 1347.2h5.5M1426.2 1354h5.5M1481 1354h5.5M1528.8 1354h5.5M1597.2 1354h5.5M1686.2 1354h5.5M1706.7 1354h5.5M1597.2 1360.9h5.5M1686.2 1360.9h5.5M1426.2 1367.7h5.5M1569.9 1367.7h5.5M1453.6 1374.5h5.5M1549.4 1374.5h5.5M1563 1374.5h5.5M1522 1388.2h5.5M1569.9 1408.7h5.5M1481 1422.4h5.5M1501.5 1422.4h5.5M1604.1 1422.4h5.5M1631.4 1422.4h5.5M1665.6 1422.4h5.5M1679.3 1422.4h5.5M1419.4 1429.3h5.5M1433.1 1429.3h5.5M1453.6 1429.3h5.5M1460.4 1429.3h5.5M1474.1 1429.3h5.5M1528.8 1429.3h5.5M1535.7 1429.3h5.5M1672.5 1429.3h5.5M1535.7 1436.1h5.5M1542.5 1436.1h5.5M1576.7 1436.1h5.5M1617.8 1436.1h5.5M1481 1442.9h5.5M1569.9 1442.9h5.5M1481 1449.8h5.5M1508.3 1449.8h5.5M1535.7 1449.8h5.5M1597.2 1449.8h5.5M1679.3 1449.8h5.5M1474.1 1456.6h5.5M1652 1456.6h5.5M1563 1470.3h5.5M1658.8 1470.3h5.5M1412.6 1497.7h5.5M1631.4 1504.5h5.5M1638.3 1504.5h5.5" stroke="#4c56ba"/><path d="M1487.8 1203.5h5.5M1658.8 1244.6h5.5M1713.5 1251.4h5.5M1576.7 1258.3h5.5M1679.3 1258.3h5.5M1494.6 1265.1h5.5M1542.5 1265.1h5.5M1481 1278.8h5.5M1522 1278.8h5.5M1563 1278.8h5.5M1405.7 1285.6h5.5M1426.2 1285.6h5.5M1535.7 1285.6h5.5M1624.6 1285.6h5.5M1569.9 1292.5h5.5M1576.7 1292.5h5.5M1549.4 1299.3h5.5M1576.7 1299.3h5.5M1392 1306.1h5.5M1474.1 1306.1h5.5M1481 1306.1h5.5M1645.1 1306.1h5.5M1631.4 1313h5.5M1467.3 1319.8h5.5M1693 1319.8h5.5M1610.9 1333.5h5.5M1604.1 1340.3h5.5M1713.5 1340.3h5.5M1426.2 1347.2h5.5M1487.8 1347.2h5.5M1522 1347.2h5.5M1487.8 1354h5.5M1631.4 1354h5.5M1419.4 1367.7h5.5M1679.3 1367.7h5.5M1713.5 1367.7h5.5M1583.6 1374.5h5.5M1706.7 1374.5h5.5M1535.7 1381.4h5.5M1419.4 1388.2h5.5M1494.6 1388.2h5.5M1604.1 1388.2h5.5M1508.3 1395.1h5.5M1542.5 1395.1h5.5M1679.3 1395.1h5.5M1638.3 1401.9h5.5M1693 1401.9h5.5M1699.8 1401.9h5.5M1433.1 1408.7h5.5M1563 1408.7h5.5M1398.9 1415.6h5.5M1658.8 1415.6h5.5M1665.6 1415.6h5.5M1699.8 1415.6h5.5M1439.9 1422.4h5.5M1624.6 1422.4h5.5M1604.1 1436.1h5.5M1453.6 1442.9h5.5M1426.2 1456.6h5.5M1556.2 1456.6h5.5M1638.3 1456.6h5.5M1713.5 1456.6h5.5M1597.2 1463.5h5.5M1501.5 1477.1h5.5M1392 1504.5h5.5" stroke="#7cb29e"/><path d="M1501.5 1203.5h5.5M1686.2 1210.4h5.5M1419.4 1224.1h5.5M1699.8 1224.1h5.5M1686.2 1244.6h5.5M1610.9 1251.4h5.5M1535.7 1278.8h5.5M1686.2 1278.8h5.5M1672.5 1285.6h5.5M1693 1285.6h5.5M1583.6 1299.3h5.5M1624.6 1299.3h5.5M1522 1306.1h5.5M1535.7 1306.1h5.5M1549.4 1306.1h5.5M1563 1306.1h5.5M1597.2 1306.1h5.5M1535.7 1313h5.5M1617.8 1313h5.5M1508.3 1319.8h5.5M1542.5 1319.8h5.5M1576.7 1319.8h5.5M1460.4 1326.7h5.5M1481 1326.7h5.5M1508.3 1326.7h5.5M1508.3 1333.5h5.5M1528.8 1333.5h5.5M1672.5 1333.5h5.5M1610.9 1340.3h5.5M1412.6 1347.2h5.5M1487.8 1360.9h5.5M1398.9 1367.7h5.5M1453.6 1367.7h5.5M1501.5 1367.7h5.5M1665.6 1367.7h5.5M1439.9 1374.5h5.5M1535.7 1374.5h5.5M1398.9 1381.4h5.5M1508.3 1388.2h5.5M1528.8 1388.2h5.5M1535.7 1388.2h5.5M1481 1395.1h5.5M1494.6 1395.1h5.5M1528.8 1395.1h5.5M1535.7 1408.7h5.5M1426.2 1415.6h5.5M1453.6 1415.6h5.5M1467.3 1415.6h5.5M1624.6 1415.6h5.5M1385.2 1422.4h5.5M1412.6 1422.4h5.5M1494.6 1422.4h5.5M1508.3 1422.4h5.5M1556.2 1422.4h5.5M1426.2 1429.3h5.5M1542.5 1429.3h5.5M1556.2 1429.3h5.5M1597.2 1429.3h5.5M1652 1429.3h5.5M1392 1436.1h5.5M1405.7 1436.1h5.5M1426.2 1436.1h5.5M1446.8 1436.1h5.5M1453.6 1436.1h5.5M1460.4 1436.1h5.5M1494.6 1436.1h5.5M1515.2 1436.1h5.5M1569.9 1436.1h5.5M1392 1442.9h5.5M1405.7 1442.9h5.5M1665.6 1442.9h5.5M1522 1449.8h5.5M1652 1449.8h5.5M1576.7 1456.6h5.5M1604.1 1463.5h5.5M1576.7 1470.3h5.5M1713.5 1470.3h5.5" stroke="#7b81be"/><path d="M1494.6 1224.1h5.5M1535.7 1230.9h5.5M1638.3 1265.1h5.5M1453.6 1285.6h5.5M1638.3 1285.6h5.5M1679.3 1285.6h5.5M1522 1292.5h5.5M1693 1292.5h5.5M1569.9 1299.3h5.5M1542.5 1313h5.5M1665.6 1313h5.5M1713.5 1313h5.5M1453.6 1319.8h5.5M1385.2 1326.7h5.5M1412.6 1326.7h5.5M1576.7 1326.7h5.5M1610.9 1326.7h5.5M1665.6 1326.7h5.5M1679.3 1326.7h5.5M1412.6 1333.5h5.5M1446.8 1333.5h5.5M1665.6 1333.5h5.5M1686.2 1333.5h5.5M1467.3 1340.3h5.5M1617.8 1340.3h5.5M1453.6 1347.2h5.5M1460.4 1347.2h5.5M1474.1 1347.2h5.5M1569.9 1347.2h5.5M1699.8 1347.2h5.5M1460.4 1354h5.5M1494.6 1354h5.5M1679.3 1354h5.5M1439.9 1360.9h5.5M1494.6 1360.9h5.5M1522 1360.9h5.5M1392 1367.7h5.5M1638.3 1374.5h5.5M1515.2 1381.4h5.5M1624.6 1381.4h5.5M1433.1 1388.2h5.5M1686.2 1408.7h5.5M1535.7 1415.6h5.5M1645.1 1415.6h5.5M1652 1415.6h5.5M1474.1 1422.4h5.5M1610.9 1422.4h5.5M1638.3 1422.4h5.5M1658.8 1422.4h5.5M1699.8 1422.4h5.5M1398.9 1429.3h5.5M1481 1429.3h5.5M1515.2 1429.3h5.5M1522 1429.3h5.5M1638.3 1429.3h5.5M1658.8 1429.3h5.5M1412.6 1436.1h5.5M1474.1 1436.1h5.5M1624.6 1436.1h5.5M1515.2 1442.9h5.5M1528.8 1442.9h5.5M1604.1 1449.8h5.5M1686.2 1449.8h5.5M1508.3 1456.6h5.5M1617.8 1456.6h5.5M1679.3 1463.5h5.5M1528.8 1470.3h5.5" stroke="#7a70c8"/></g>
<defs><linearGradient id="cb1" x1="0" y1="1" x2="0" y2="0"><stop offset="0" stop-color="#5e4fa2"/><stop offset="0.1" stop-color="#3288bd"/><stop offset="0.2" stop-color="#66c2a5"/><stop offset="0.3" stop-color="#abdda4"/><stop offset="0.4" stop-color="#e6f598"/><stop offset="0.6" stop-color="#fee08b"/><stop offset="0.7" stop-color="#fdae61"/><stop offset="0.8" stop-color="#f46d43"/><stop offset="0.9" stop-color="#d53e4f"/><stop offset="1" stop-color="#a81246"/></linearGradient></defs><rect x="397.8" y="1296" width="24.5" height="123" fill="url(#cb1)"/>
<text x="397.8" y="1250" font-size="19.8">Global</text>
<text x="397.8" y="1274.3" font-size="19.8">mCG%</text>
<line x1="397.8" y1="1303.5" x2="402.5" y2="1303.5" stroke="#fff" stroke-width="0.8" opacity="0.6"/>
<line x1="417.6" y1="1303.5" x2="422.3" y2="1303.5" stroke="#fff" stroke-width="0.8" opacity="0.6"/>
<text x="430.5" y="1308" font-size="16.8">75</text>
<line x1="397.8" y1="1326.22" x2="402.5" y2="1326.22" stroke="#fff" stroke-width="0.8" opacity="0.6"/>
<line x1="417.6" y1="1326.22" x2="422.3" y2="1326.22" stroke="#fff" stroke-width="0.8" opacity="0.6"/>
<text x="430.5" y="1330.72" font-size="16.8">70</text>
<line x1="397.8" y1="1348.94" x2="402.5" y2="1348.94" stroke="#fff" stroke-width="0.8" opacity="0.6"/>
<line x1="417.6" y1="1348.94" x2="422.3" y2="1348.94" stroke="#fff" stroke-width="0.8" opacity="0.6"/>
<text x="430.5" y="1353.44" font-size="16.8">65</text>
<line x1="397.8" y1="1371.66" x2="402.5" y2="1371.66" stroke="#fff" stroke-width="0.8" opacity="0.6"/>
<line x1="417.6" y1="1371.66" x2="422.3" y2="1371.66" stroke="#fff" stroke-width="0.8" opacity="0.6"/>
<text x="430.5" y="1376.16" font-size="16.8">60</text>
<line x1="397.8" y1="1394.38" x2="402.5" y2="1394.38" stroke="#fff" stroke-width="0.8" opacity="0.6"/>
<line x1="417.6" y1="1394.38" x2="422.3" y2="1394.38" stroke="#fff" stroke-width="0.8" opacity="0.6"/>
<text x="430.5" y="1398.88" font-size="16.8">55</text>
<line x1="397.8" y1="1417.1" x2="402.5" y2="1417.1" stroke="#fff" stroke-width="0.8" opacity="0.6"/>
<line x1="417.6" y1="1417.1" x2="422.3" y2="1417.1" stroke="#fff" stroke-width="0.8" opacity="0.6"/>
<text x="430.5" y="1421.6" font-size="16.8">50</text>
<defs><linearGradient id="cb2" x1="0" y1="1" x2="0" y2="0"><stop offset="0" stop-color="#5e4fa2"/><stop offset="0.1" stop-color="#3288bd"/><stop offset="0.2" stop-color="#66c2a5"/><stop offset="0.3" stop-color="#abdda4"/><stop offset="0.4" stop-color="#e6f598"/><stop offset="0.6" stop-color="#fee08b"/><stop offset="0.7" stop-color="#fdae61"/><stop offset="0.8" stop-color="#f46d43"/><stop offset="0.9" stop-color="#d53e4f"/><stop offset="1" stop-color="#a81246"/></linearGradient></defs><rect x="831.8" y="1295" width="24.5" height="123.4" fill="url(#cb2)"/>
<text x="831.8" y="1249.3" font-size="19.8">Global</text>
<text x="831.8" y="1273.6" font-size="19.8">mCG %</text>
<line x1="831.8" y1="1312.7" x2="836.5" y2="1312.7" stroke="#fff" stroke-width="0.8" opacity="0.6"/>
<line x1="851.6" y1="1312.7" x2="856.3" y2="1312.7" stroke="#fff" stroke-width="0.8" opacity="0.6"/>
<text x="865" y="1316.8" font-size="19">75</text>
<line x1="831.8" y1="1347.47" x2="836.5" y2="1347.47" stroke="#fff" stroke-width="0.8" opacity="0.6"/>
<line x1="851.6" y1="1347.47" x2="856.3" y2="1347.47" stroke="#fff" stroke-width="0.8" opacity="0.6"/>
<text x="865" y="1351.57" font-size="19">70</text>
<line x1="831.8" y1="1382.24" x2="836.5" y2="1382.24" stroke="#fff" stroke-width="0.8" opacity="0.6"/>
<line x1="851.6" y1="1382.24" x2="856.3" y2="1382.24" stroke="#fff" stroke-width="0.8" opacity="0.6"/>
<text x="865" y="1386.34" font-size="19">65</text>
<line x1="831.8" y1="1417.01" x2="836.5" y2="1417.01" stroke="#fff" stroke-width="0.8" opacity="0.6"/>
<line x1="851.6" y1="1417.01" x2="856.3" y2="1417.01" stroke="#fff" stroke-width="0.8" opacity="0.6"/>
<text x="865" y="1421.11" font-size="19">60</text>
<defs><linearGradient id="cb3" x1="0" y1="1" x2="0" y2="0"><stop offset="0" stop-color="#4050b6"/><stop offset="0.2" stop-color="#7a70c8"/><stop offset="0.35" stop-color="#7cb0a4"/><stop offset="0.5" stop-color="#78d14c"/><stop offset="0.64" stop-color="#a8d63a"/><stop offset="0.75" stop-color="#c4a63c"/><stop offset="0.87" stop-color="#e87a2e"/><stop offset="1" stop-color="#e52e28"/></linearGradient></defs><rect x="1284.5" y="1325.4" width="21" height="111.6" fill="url(#cb3)"/>
<text x="1284.5" y="1279" font-size="21.9">Global</text>
<text x="1284.5" y="1305.4" font-size="21.9">mCG %</text>
<text x="1309.7" y="1337" font-size="22">76.5</text>
<text x="1309.7" y="1356.36" font-size="22">76.0</text>
<text x="1309.7" y="1375.72" font-size="22">75.5</text>
<text x="1309.7" y="1395.08" font-size="22">75.0</text>
<text x="1309.7" y="1414.44" font-size="22">74.5</text>
<text x="1309.7" y="1433.8" font-size="22">74.0</text>
<defs><linearGradient id="cb4" x1="0" y1="1" x2="0" y2="0"><stop offset="0" stop-color="#4050b6"/><stop offset="0.2" stop-color="#7a70c8"/><stop offset="0.35" stop-color="#7cb0a4"/><stop offset="0.5" stop-color="#78d14c"/><stop offset="0.64" stop-color="#a8d63a"/><stop offset="0.75" stop-color="#c4a63c"/><stop offset="0.87" stop-color="#e87a2e"/><stop offset="1" stop-color="#e52e28"/></linearGradient></defs><rect x="1752" y="1323.8" width="21" height="109" fill="url(#cb4)"/>
<text x="1752" y="1279" font-size="21.9">Global</text>
<text x="1752.5" y="1305.4" font-size="21.9" word-spacing="1.5">mCA %</text>
<text x="1780.5" y="1353.8" font-size="21.6">3.4</text>
<text x="1780.5" y="1382.73" font-size="21.6">3.0</text>
<text x="1780.5" y="1411.66" font-size="21.6">2.6</text>
<text x="1780.5" y="1440.59" font-size="21.6">2.2</text>
</g>
<g id="pe">
<text x="1" y="1581.5" font-size="76" fill="#231f20" stroke="#231f20" stroke-width="0.4">e</text>
<rect x="162.1" y="1624.11" width="100.4" height="323.69" fill="#95d1e3"/>
<text x="212.3" y="1794" font-size="19.8" text-anchor="middle" font-family='"DejaVu Sans", "Liberation Sans", sans-serif'>99.14</text>
<rect x="273.82" y="1623.39" width="100.4" height="324.41" fill="#95d1e3"/>
<text x="324.02" y="1794" font-size="19.8" text-anchor="middle" font-family='"DejaVu Sans", "Liberation Sans", sans-serif'>99.36</text>
<rect x="385.54" y="1623.78" width="100.4" height="324.02" fill="#95d1e3"/>
<text x="435.74" y="1794" font-size="19.8" text-anchor="middle" font-family='"DejaVu Sans", "Liberation Sans", sans-serif'>99.24</text>
<rect x="497.26" y="1624.57" width="100.4" height="323.24" fill="#95d1e3"/>
<text x="547.46" y="1794" font-size="19.8" text-anchor="middle" font-family='"DejaVu Sans", "Liberation Sans", sans-serif'>99</text>
<rect x="608.98" y="1623.94" width="100.4" height="323.86" fill="#95d1e3"/>
<text x="659.18" y="1794" font-size="19.8" text-anchor="middle" font-family='"DejaVu Sans", "Liberation Sans", sans-serif'>99.19</text>
<rect x="145.8" y="1605.8" width="579.7" height="357.8" fill="none" stroke="#333" stroke-width="1.4"/>
<line x1="139.3" y1="1947.8" x2="145.8" y2="1947.8" stroke="#333" stroke-width="1.5"/>
<text x="134.3" y="1958" font-size="28.4" text-anchor="end" fill="#4d4d4d">0</text>
<line x1="139.3" y1="1866.17" x2="145.8" y2="1866.17" stroke="#333" stroke-width="1.5"/>
<text x="134.3" y="1876.38" font-size="28.4" text-anchor="end" fill="#4d4d4d">25</text>
<line x1="139.3" y1="1784.55" x2="145.8" y2="1784.55" stroke="#333" stroke-width="1.5"/>
<text x="134.3" y="1794.75" font-size="28.4" text-anchor="end" fill="#4d4d4d">50</text>
<line x1="139.3" y1="1702.92" x2="145.8" y2="1702.92" stroke="#333" stroke-width="1.5"/>
<text x="134.3" y="1713.12" font-size="28.4" text-anchor="end" fill="#4d4d4d">75</text>
<line x1="139.3" y1="1621.3" x2="145.8" y2="1621.3" stroke="#333" stroke-width="1.5"/>
<text x="134.3" y="1631.5" font-size="28.4" text-anchor="end" fill="#4d4d4d">100</text>
<text x="76.5" y="1785" font-size="33.9" text-anchor="middle" transform="rotate(-90 76.5 1785)">Linker Conversion Rate(%)</text>
<line x1="212.3" y1="1963.6" x2="212.3" y2="1970.1" stroke="#333" stroke-width="1.5"/>
<g transform="translate(225.3 1986.6) rotate(-50)" font-size="30.8" text-anchor="end"><text x="0" y="0">E11 Embryo</text><text x="0" y="34">(10 µm)</text></g>
<line x1="324.02" y1="1963.6" x2="324.02" y2="1970.1" stroke="#333" stroke-width="1.5"/>
<g transform="translate(345.02 1986.6) rotate(-50)" font-size="30.8" text-anchor="end"><text x="0" y="0">E11 Embryo #1</text><text x="0" y="34">(50 µm)</text></g>
<line x1="435.74" y1="1963.6" x2="435.74" y2="1970.1" stroke="#333" stroke-width="1.5"/>
<g transform="translate(456.74 1986.6) rotate(-50)" font-size="30.8" text-anchor="end"><text x="0" y="0">E11 Embryo #2</text><text x="0" y="34">(50 µm)</text></g>
<line x1="547.46" y1="1963.6" x2="547.46" y2="1970.1" stroke="#333" stroke-width="1.5"/>
<g transform="translate(562.46 1986.6) rotate(-50)" font-size="30.8" text-anchor="end"><text x="0" y="0">E13 Embryo</text><text x="0" y="34">(50 µm)</text></g>
<line x1="659.18" y1="1963.6" x2="659.18" y2="1970.1" stroke="#333" stroke-width="1.5"/>
<g transform="translate(673.18 1986.6) rotate(-50)" font-size="30.8" text-anchor="end"><text x="0" y="0">P21 Brain</text><text x="0" y="34">(20 µm)</text></g>
</g>
<g id="pf">
<text x="873.5" y="1582" font-size="76" fill="#231f20" stroke="#231f20" stroke-width="0.4">f</text>
<rect x="1017.7" y="1949.43" width="40.6" height="9.87" fill="#95d1e3"/>
<rect x="1058.3" y="1954.78" width="40.6" height="4.52" fill="#ea7a72"/>
<rect x="1153.25" y="1941.88" width="40.6" height="17.42" fill="#95d1e3"/>
<rect x="1193.85" y="1949.62" width="40.6" height="9.67" fill="#ea7a72"/>
<rect x="1288.8" y="1946.72" width="40.6" height="12.58" fill="#95d1e3"/>
<rect x="1329.4" y="1950.59" width="40.6" height="8.71" fill="#ea7a72"/>
<rect x="1424.35" y="1952.2" width="40.6" height="7.09" fill="#95d1e3"/>
<rect x="1464.95" y="1953.82" width="40.6" height="5.48" fill="#ea7a72"/>
<rect x="1559.9" y="1946.4" width="40.6" height="12.9" fill="#95d1e3"/>
<rect x="1600.5" y="1952.85" width="40.6" height="6.45" fill="#ea7a72"/>
<rect x="998.4" y="1621.2" width="702.6" height="353.8" fill="none" stroke="#333" stroke-width="1.4"/>
<line x1="991.4" y1="1959.3" x2="998.4" y2="1959.3" stroke="#333" stroke-width="1.5"/>
<text x="984.5" y="1969.3" font-size="28" text-anchor="end">0</text>
<line x1="991.4" y1="1894.8" x2="998.4" y2="1894.8" stroke="#333" stroke-width="1.5"/>
<text x="984.5" y="1904.8" font-size="28" text-anchor="end">1</text>
<line x1="991.4" y1="1830.3" x2="998.4" y2="1830.3" stroke="#333" stroke-width="1.5"/>
<text x="984.5" y="1840.3" font-size="28" text-anchor="end">2</text>
<line x1="991.4" y1="1765.8" x2="998.4" y2="1765.8" stroke="#333" stroke-width="1.5"/>
<text x="984.5" y="1775.8" font-size="28" text-anchor="end">3</text>
<line x1="991.4" y1="1701.3" x2="998.4" y2="1701.3" stroke="#333" stroke-width="1.5"/>
<text x="984.5" y="1711.3" font-size="28" text-anchor="end">4</text>
<line x1="991.4" y1="1636.8" x2="998.4" y2="1636.8" stroke="#333" stroke-width="1.5"/>
<text x="984.5" y="1646.8" font-size="28" text-anchor="end">5</text>
<text x="954.5" y="1782.5" font-size="33.2" text-anchor="middle" transform="rotate(-90 954.5 1782.5)">Percentage (%)</text>
<rect x="1041.3" y="1572.3" width="39" height="38.5" fill="#95d1e3"/>
<text x="1094.6" y="1598.8" font-size="29">Poly A</text>
<rect x="1228" y="1572.3" width="39" height="38.5" fill="#ea7a72"/>
<text x="1280.2" y="1598.8" font-size="29">Poly T</text>
<rect x="1412.6" y="1572.3" width="39" height="38.5" fill="#a3dc8a"/>
<text x="1464.3" y="1598.8" font-size="29">TSO Sequence</text>
<line x1="1078.6" y1="1975" x2="1078.6" y2="1982" stroke="#333" stroke-width="1.5"/>
<g transform="translate(1091.6 1997) rotate(-50)" font-size="30.8" text-anchor="end"><text x="0" y="0">E11 Embryo</text><text x="0" y="34.5">(10 µm)</text></g>
<line x1="1214.15" y1="1975" x2="1214.15" y2="1982" stroke="#333" stroke-width="1.5"/>
<g transform="translate(1227.15 1997) rotate(-50)" font-size="30.8" text-anchor="end"><text x="0" y="0">E11 Embryo #1</text><text x="0" y="34.5">(50 µm)</text></g>
<line x1="1349.7" y1="1975" x2="1349.7" y2="1982" stroke="#333" stroke-width="1.5"/>
<g transform="translate(1362.7 1997) rotate(-50)" font-size="30.8" text-anchor="end"><text x="0" y="0">E11 Embryo #2</text><text x="0" y="34.5">(50 µm)</text></g>
<line x1="1485.25" y1="1975" x2="1485.25" y2="1982" stroke="#333" stroke-width="1.5"/>
<g transform="translate(1498.25 1997) rotate(-50)" font-size="30.8" text-anchor="end"><text x="0" y="0">E13 Embryo</text><text x="0" y="34.5">(50 µm)</text></g>
<line x1="1620.8" y1="1975" x2="1620.8" y2="1982" stroke="#333" stroke-width="1.5"/>
<g transform="translate(1633.8 1997) rotate(-50)" font-size="30.8" text-anchor="end"><text x="0" y="0">P21 Brain</text><text x="0" y="34.5">(20 µm)</text></g>
</g>
</svg>
</body></html>
